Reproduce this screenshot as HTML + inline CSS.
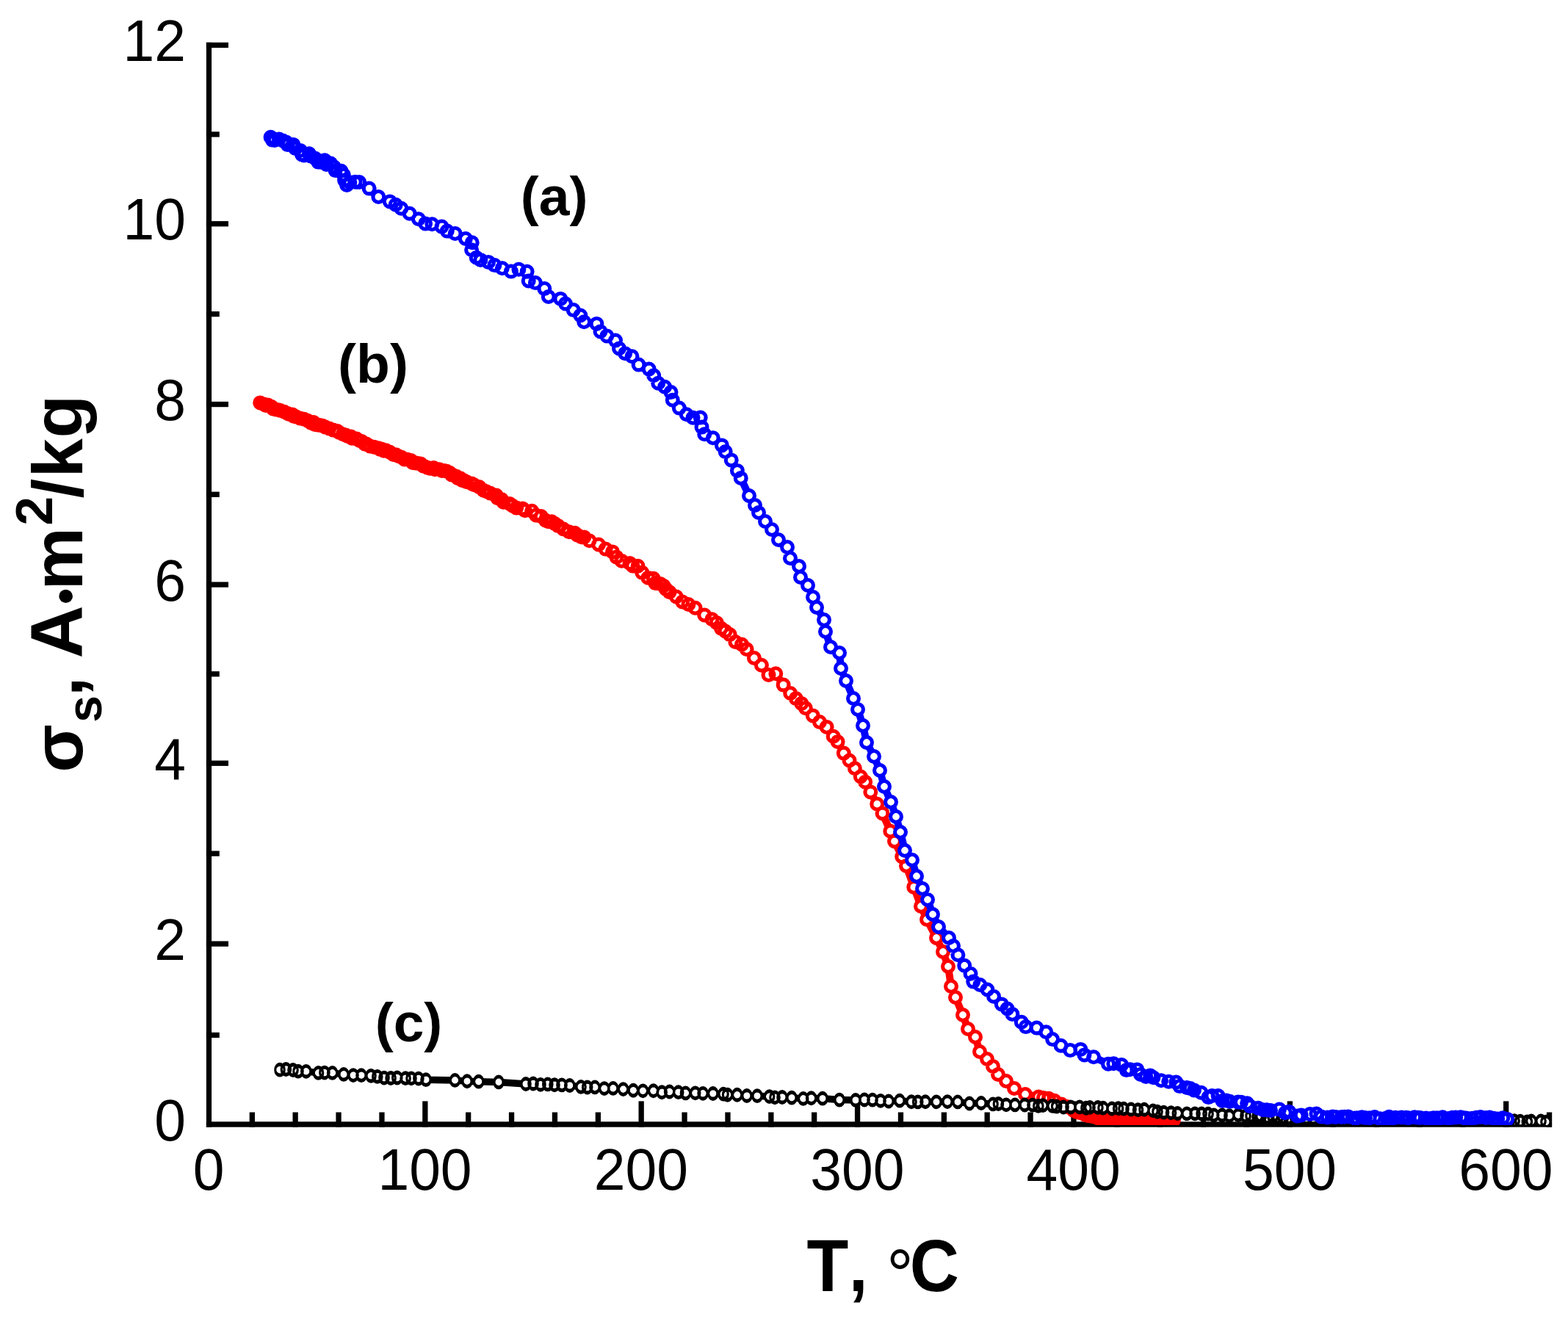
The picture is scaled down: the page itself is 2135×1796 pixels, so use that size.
<!DOCTYPE html>
<html lang="en"><head><meta charset="utf-8"><title>Temperature dependence of specific saturation magnetization</title>
<style>html,body{margin:0;padding:0;background:#fff}svg{display:block}</style></head>
<body>
<svg width="2135" height="1796" viewBox="0 0 2135 1796">
<rect width="2135" height="1796" fill="#fff"/>
<g fill="#000">
<rect x="280.9" y="57.8" width="7.2" height="1476.9"/>
<rect x="280.9" y="1527.3" width="1831.9" height="7.4"/>
<rect x="280.9" y="1405.8" width="17.9" height="7.3"/>
<rect x="280.9" y="1281.5" width="30.1" height="7.3"/>
<rect x="280.9" y="1158.6" width="17.9" height="7.3"/>
<rect x="280.9" y="1035.6" width="30.1" height="7.3"/>
<rect x="280.9" y="914.1" width="17.9" height="7.3"/>
<rect x="280.9" y="792.4" width="30.1" height="7.3"/>
<rect x="280.9" y="669.6" width="17.9" height="7.3"/>
<rect x="280.9" y="546.9" width="30.1" height="7.3"/>
<rect x="280.9" y="424.0" width="17.9" height="7.3"/>
<rect x="280.9" y="301.1" width="30.1" height="7.3"/>
<rect x="280.9" y="179.3" width="17.9" height="7.3"/>
<rect x="280.9" y="57.8" width="30.1" height="7.3"/>
<rect x="339.7" y="1514.5" width="7.3" height="20.2"/>
<rect x="398.5" y="1514.5" width="7.3" height="20.2"/>
<rect x="457.4" y="1514.5" width="7.3" height="20.2"/>
<rect x="516.3" y="1514.5" width="7.3" height="20.2"/>
<rect x="575.2" y="1499.4" width="7.3" height="35.3"/>
<rect x="634.0" y="1514.5" width="7.3" height="20.2"/>
<rect x="692.9" y="1514.5" width="7.3" height="20.2"/>
<rect x="751.8" y="1514.5" width="7.3" height="20.2"/>
<rect x="810.7" y="1514.5" width="7.3" height="20.2"/>
<rect x="869.5" y="1499.4" width="7.3" height="35.3"/>
<rect x="928.4" y="1514.5" width="7.3" height="20.2"/>
<rect x="987.3" y="1514.5" width="7.3" height="20.2"/>
<rect x="1046.2" y="1514.5" width="7.3" height="20.2"/>
<rect x="1105.0" y="1514.5" width="7.3" height="20.2"/>
<rect x="1163.9" y="1499.4" width="7.3" height="35.3"/>
<rect x="1222.8" y="1514.5" width="7.3" height="20.2"/>
<rect x="1281.7" y="1514.5" width="7.3" height="20.2"/>
<rect x="1340.5" y="1514.5" width="7.3" height="20.2"/>
<rect x="1399.4" y="1514.5" width="7.3" height="20.2"/>
<rect x="1458.3" y="1499.4" width="7.3" height="35.3"/>
<rect x="1517.2" y="1514.5" width="7.3" height="20.2"/>
<rect x="1576.0" y="1514.5" width="7.3" height="20.2"/>
<rect x="1634.9" y="1514.5" width="7.3" height="20.2"/>
<rect x="1693.8" y="1514.5" width="7.3" height="20.2"/>
<rect x="1752.7" y="1499.4" width="7.3" height="35.3"/>
<rect x="1811.5" y="1514.5" width="7.3" height="20.2"/>
<rect x="1870.4" y="1514.5" width="7.3" height="20.2"/>
<rect x="1929.3" y="1514.5" width="7.3" height="20.2"/>
<rect x="1988.1" y="1514.5" width="7.3" height="20.2"/>
<rect x="2047.0" y="1499.4" width="7.3" height="35.3"/>
<rect x="2105.9" y="1514.5" width="7.3" height="20.2"/>
</g>
<defs><clipPath id="plotclip"><rect x="281" y="0" width="1832" height="1532"/></clipPath></defs>
<g clip-path="url(#plotclip)">
<path d="M354.2 548.4L358.1 550.0L362.0 552.1L364.7 551.4L369.5 553.7L371.7 556.5L375.5 557.4L379.3 558.2L381.8 559.1L387.0 560.7L391.5 562.9L393.5 563.9L398.0 564.4L399.4 566.5L403.2 567.5L408.4 569.5L414.0 570.8L418.8 572.8L423.7 575.9L426.7 574.9L428.6 578.0L432.4 578.5L435.6 579.1L439.1 579.8L443.0 581.6L448.3 583.5L453.7 585.6L459.4 587.1L461.6 588.7L466.8 591.2L470.9 592.6L473.4 594.0L477.9 594.6L479.3 596.8L485.5 597.5L490.0 600.3L492.5 601.0L496.6 604.4L498.9 604.6L500.8 605.7L503.7 607.4L509.5 608.8L515.3 610.3L517.3 611.8L519.6 611.5L522.7 613.7L525.6 613.2L530.6 615.6L535.6 619.0L539.2 619.2L542.8 621.2L546.9 622.7L550.7 625.4L554.9 625.7L559.6 627.1L561.9 630.0L566.1 630.4L568.2 630.8L572.6 631.4L576.2 634.4L578.3 635.2L581.9 636.7L585.2 637.8L590.4 637.1L592.2 639.2L598.2 639.3L601.7 640.9L605.1 641.0L608.3 641.8L612.3 643.7L614.8 646.5L616.9 647.0L621.5 648.8L623.5 651.3L626.8 651.3L629.5 654.2L632.1 654.5L635.5 656.2L642.3 658.4L645.5 660.2L652.5 663.1L658.5 667.8L662.1 669.2L667.3 671.4L675.8 674.5L677.4 678.3L682.8 679.9L685.5 683.7L694.0 686.0L697.7 688.5L703.2 691.6L711.5 692.4L714.9 695.3L724.2 695.8L729.8 701.5L736.8 703.1L742.7 708.4L746.5 710.2L751.2 710.2L755.5 713.1L760.0 716.1L767.0 720.2L774.8 724.2L782.7 725.7L785.9 728.4L791.5 731.3L795.3 731.4L802.5 736.3L815.1 741.5L824.6 747.6L834.0 751.4L839.5 758.6L846.5 763.8L857.5 766.9L861.4 770.5L868.5 770.7L874.2 779.6L882.4 786.8L889.7 787.7L892.4 794.1L899.0 794.9L903.6 797.8L906.8 802.3L911.6 806.2L920.8 812.5L929.1 819.5L937.4 823.0L946.6 827.7L959.2 837.5L969.4 843.3L975.7 847.9L981.9 855.6L987.6 859.5L993.7 864.1L1001.3 874.0L1010.0 877.5L1016.6 884.0L1026.9 896.0L1036.9 905.7L1046.5 918.9L1056.3 917.3L1066.6 932.6L1076.2 944.0L1083.8 951.1L1091.3 957.9L1096.9 964.2L1106.8 974.4L1116.0 983.1L1125.6 989.9L1134.7 1002.8L1140.6 1010.0L1148.8 1025.6L1156.5 1035.5L1163.9 1046.3L1171.8 1057.5L1178.1 1064.7L1185.3 1078.4L1194.2 1094.7L1201.5 1107.4L1212.3 1131.7L1218.0 1145.5L1228.2 1166.5L1234.0 1179.0L1244.3 1207.9L1254.0 1234.0L1262.0 1252.0L1275.0 1277.0L1284.0 1296.0L1291.0 1316.0L1295.0 1343.0L1301.0 1358.0L1311.0 1382.0L1318.0 1401.0L1328.0 1412.0L1334.0 1432.0L1344.0 1442.0L1352.0 1452.0L1359.0 1463.0L1370.0 1472.0L1381.0 1482.0L1396.0 1490.0L1414.1 1493.5L1420.8 1495.0L1427.9 1495.7L1435.7 1498.8L1445.2 1503.6L1452.0 1506.7L1459.2 1509.8L1461.9 1512.2L1465.6 1513.8L1470.0 1515.1L1474.8 1515.1L1477.2 1517.8L1480.7 1518.9L1482.8 1518.6L1485.1 1519.5L1488.7 1519.5L1490.6 1520.6L1495.0 1522.3L1497.1 1522.7L1499.1 1522.6L1501.3 1521.7L1505.6 1522.7L1507.6 1524.6L1512.1 1523.8L1516.8 1524.8L1520.6 1524.5L1525.1 1525.9L1529.7 1526.8L1532.3 1526.0L1534.5 1525.7L1536.3 1526.2L1539.8 1526.0L1543.5 1526.7L1546.1 1527.6L1549.2 1526.6L1552.4 1527.4L1554.2 1528.0L1555.8 1527.5L1560.1 1526.0L1564.3 1526.7L1567.7 1526.0L1569.5 1526.4L1574.1 1526.3L1578.2 1527.6L1582.7 1526.3L1585.5 1526.5L1589.5 1525.6L1593.6 1526.8L1597.9 1525.1" fill="none" stroke="#ff0000" stroke-width="10" stroke-linejoin="round"/>
<path fill="#fff" d="M349.2 548.4a5 5 0 1 1 10.0 0a5 5 0 1 1 -10.0 0zM353.1 550.0a5 5 0 1 1 10.0 0a5 5 0 1 1 -10.0 0zM357.0 552.1a5 5 0 1 1 10.0 0a5 5 0 1 1 -10.0 0zM359.7 551.4a5 5 0 1 1 10.0 0a5 5 0 1 1 -10.0 0zM364.5 553.7a5 5 0 1 1 10.0 0a5 5 0 1 1 -10.0 0zM366.7 556.5a5 5 0 1 1 10.0 0a5 5 0 1 1 -10.0 0zM370.5 557.4a5 5 0 1 1 10.0 0a5 5 0 1 1 -10.0 0zM374.3 558.2a5 5 0 1 1 10.0 0a5 5 0 1 1 -10.0 0zM376.8 559.1a5 5 0 1 1 10.0 0a5 5 0 1 1 -10.0 0zM382.0 560.7a5 5 0 1 1 10.0 0a5 5 0 1 1 -10.0 0zM386.5 562.9a5 5 0 1 1 10.0 0a5 5 0 1 1 -10.0 0zM388.5 563.9a5 5 0 1 1 10.0 0a5 5 0 1 1 -10.0 0zM393.0 564.4a5 5 0 1 1 10.0 0a5 5 0 1 1 -10.0 0zM394.4 566.5a5 5 0 1 1 10.0 0a5 5 0 1 1 -10.0 0zM398.2 567.5a5 5 0 1 1 10.0 0a5 5 0 1 1 -10.0 0zM403.4 569.5a5 5 0 1 1 10.0 0a5 5 0 1 1 -10.0 0zM409.0 570.8a5 5 0 1 1 10.0 0a5 5 0 1 1 -10.0 0zM413.8 572.8a5 5 0 1 1 10.0 0a5 5 0 1 1 -10.0 0zM418.7 575.9a5 5 0 1 1 10.0 0a5 5 0 1 1 -10.0 0zM421.7 574.9a5 5 0 1 1 10.0 0a5 5 0 1 1 -10.0 0zM423.6 578.0a5 5 0 1 1 10.0 0a5 5 0 1 1 -10.0 0zM427.4 578.5a5 5 0 1 1 10.0 0a5 5 0 1 1 -10.0 0zM430.6 579.1a5 5 0 1 1 10.0 0a5 5 0 1 1 -10.0 0zM434.1 579.8a5 5 0 1 1 10.0 0a5 5 0 1 1 -10.0 0zM438.0 581.6a5 5 0 1 1 10.0 0a5 5 0 1 1 -10.0 0zM443.3 583.5a5 5 0 1 1 10.0 0a5 5 0 1 1 -10.0 0zM448.7 585.6a5 5 0 1 1 10.0 0a5 5 0 1 1 -10.0 0zM454.4 587.1a5 5 0 1 1 10.0 0a5 5 0 1 1 -10.0 0zM456.6 588.7a5 5 0 1 1 10.0 0a5 5 0 1 1 -10.0 0zM461.8 591.2a5 5 0 1 1 10.0 0a5 5 0 1 1 -10.0 0zM465.9 592.6a5 5 0 1 1 10.0 0a5 5 0 1 1 -10.0 0zM468.4 594.0a5 5 0 1 1 10.0 0a5 5 0 1 1 -10.0 0zM472.9 594.6a5 5 0 1 1 10.0 0a5 5 0 1 1 -10.0 0zM474.3 596.8a5 5 0 1 1 10.0 0a5 5 0 1 1 -10.0 0zM480.5 597.5a5 5 0 1 1 10.0 0a5 5 0 1 1 -10.0 0zM485.0 600.3a5 5 0 1 1 10.0 0a5 5 0 1 1 -10.0 0zM487.5 601.0a5 5 0 1 1 10.0 0a5 5 0 1 1 -10.0 0zM491.6 604.4a5 5 0 1 1 10.0 0a5 5 0 1 1 -10.0 0zM493.9 604.6a5 5 0 1 1 10.0 0a5 5 0 1 1 -10.0 0zM495.8 605.7a5 5 0 1 1 10.0 0a5 5 0 1 1 -10.0 0zM498.7 607.4a5 5 0 1 1 10.0 0a5 5 0 1 1 -10.0 0zM504.5 608.8a5 5 0 1 1 10.0 0a5 5 0 1 1 -10.0 0zM510.3 610.3a5 5 0 1 1 10.0 0a5 5 0 1 1 -10.0 0zM512.3 611.8a5 5 0 1 1 10.0 0a5 5 0 1 1 -10.0 0zM514.6 611.5a5 5 0 1 1 10.0 0a5 5 0 1 1 -10.0 0zM517.7 613.7a5 5 0 1 1 10.0 0a5 5 0 1 1 -10.0 0zM520.6 613.2a5 5 0 1 1 10.0 0a5 5 0 1 1 -10.0 0zM525.6 615.6a5 5 0 1 1 10.0 0a5 5 0 1 1 -10.0 0zM530.6 619.0a5 5 0 1 1 10.0 0a5 5 0 1 1 -10.0 0zM534.2 619.2a5 5 0 1 1 10.0 0a5 5 0 1 1 -10.0 0zM537.8 621.2a5 5 0 1 1 10.0 0a5 5 0 1 1 -10.0 0zM541.9 622.7a5 5 0 1 1 10.0 0a5 5 0 1 1 -10.0 0zM545.7 625.4a5 5 0 1 1 10.0 0a5 5 0 1 1 -10.0 0zM549.9 625.7a5 5 0 1 1 10.0 0a5 5 0 1 1 -10.0 0zM554.6 627.1a5 5 0 1 1 10.0 0a5 5 0 1 1 -10.0 0zM556.9 630.0a5 5 0 1 1 10.0 0a5 5 0 1 1 -10.0 0zM561.1 630.4a5 5 0 1 1 10.0 0a5 5 0 1 1 -10.0 0zM563.2 630.8a5 5 0 1 1 10.0 0a5 5 0 1 1 -10.0 0zM567.6 631.4a5 5 0 1 1 10.0 0a5 5 0 1 1 -10.0 0zM571.2 634.4a5 5 0 1 1 10.0 0a5 5 0 1 1 -10.0 0zM573.3 635.2a5 5 0 1 1 10.0 0a5 5 0 1 1 -10.0 0zM576.9 636.7a5 5 0 1 1 10.0 0a5 5 0 1 1 -10.0 0zM580.2 637.8a5 5 0 1 1 10.0 0a5 5 0 1 1 -10.0 0zM585.4 637.1a5 5 0 1 1 10.0 0a5 5 0 1 1 -10.0 0zM587.2 639.2a5 5 0 1 1 10.0 0a5 5 0 1 1 -10.0 0zM593.2 639.3a5 5 0 1 1 10.0 0a5 5 0 1 1 -10.0 0zM596.7 640.9a5 5 0 1 1 10.0 0a5 5 0 1 1 -10.0 0zM600.1 641.0a5 5 0 1 1 10.0 0a5 5 0 1 1 -10.0 0zM603.3 641.8a5 5 0 1 1 10.0 0a5 5 0 1 1 -10.0 0zM607.3 643.7a5 5 0 1 1 10.0 0a5 5 0 1 1 -10.0 0zM609.8 646.5a5 5 0 1 1 10.0 0a5 5 0 1 1 -10.0 0zM611.9 647.0a5 5 0 1 1 10.0 0a5 5 0 1 1 -10.0 0zM616.5 648.8a5 5 0 1 1 10.0 0a5 5 0 1 1 -10.0 0zM618.5 651.3a5 5 0 1 1 10.0 0a5 5 0 1 1 -10.0 0zM621.8 651.3a5 5 0 1 1 10.0 0a5 5 0 1 1 -10.0 0zM624.5 654.2a5 5 0 1 1 10.0 0a5 5 0 1 1 -10.0 0zM627.1 654.5a5 5 0 1 1 10.0 0a5 5 0 1 1 -10.0 0zM630.5 656.2a5 5 0 1 1 10.0 0a5 5 0 1 1 -10.0 0zM637.3 658.4a5 5 0 1 1 10.0 0a5 5 0 1 1 -10.0 0zM640.5 660.2a5 5 0 1 1 10.0 0a5 5 0 1 1 -10.0 0zM647.5 663.1a5 5 0 1 1 10.0 0a5 5 0 1 1 -10.0 0zM653.5 667.8a5 5 0 1 1 10.0 0a5 5 0 1 1 -10.0 0zM657.1 669.2a5 5 0 1 1 10.0 0a5 5 0 1 1 -10.0 0zM662.3 671.4a5 5 0 1 1 10.0 0a5 5 0 1 1 -10.0 0zM670.8 674.5a5 5 0 1 1 10.0 0a5 5 0 1 1 -10.0 0zM672.4 678.3a5 5 0 1 1 10.0 0a5 5 0 1 1 -10.0 0zM677.8 679.9a5 5 0 1 1 10.0 0a5 5 0 1 1 -10.0 0zM680.5 683.7a5 5 0 1 1 10.0 0a5 5 0 1 1 -10.0 0zM689.0 686.0a5 5 0 1 1 10.0 0a5 5 0 1 1 -10.0 0zM692.7 688.5a5 5 0 1 1 10.0 0a5 5 0 1 1 -10.0 0zM698.2 691.6a5 5 0 1 1 10.0 0a5 5 0 1 1 -10.0 0zM706.5 692.4a5 5 0 1 1 10.0 0a5 5 0 1 1 -10.0 0zM709.9 695.3a5 5 0 1 1 10.0 0a5 5 0 1 1 -10.0 0zM719.2 695.8a5 5 0 1 1 10.0 0a5 5 0 1 1 -10.0 0zM724.8 701.5a5 5 0 1 1 10.0 0a5 5 0 1 1 -10.0 0zM731.8 703.1a5 5 0 1 1 10.0 0a5 5 0 1 1 -10.0 0zM737.7 708.4a5 5 0 1 1 10.0 0a5 5 0 1 1 -10.0 0zM741.5 710.2a5 5 0 1 1 10.0 0a5 5 0 1 1 -10.0 0zM746.2 710.2a5 5 0 1 1 10.0 0a5 5 0 1 1 -10.0 0zM750.5 713.1a5 5 0 1 1 10.0 0a5 5 0 1 1 -10.0 0zM755.0 716.1a5 5 0 1 1 10.0 0a5 5 0 1 1 -10.0 0zM762.0 720.2a5 5 0 1 1 10.0 0a5 5 0 1 1 -10.0 0zM769.8 724.2a5 5 0 1 1 10.0 0a5 5 0 1 1 -10.0 0zM777.7 725.7a5 5 0 1 1 10.0 0a5 5 0 1 1 -10.0 0zM780.9 728.4a5 5 0 1 1 10.0 0a5 5 0 1 1 -10.0 0zM786.5 731.3a5 5 0 1 1 10.0 0a5 5 0 1 1 -10.0 0zM790.3 731.4a5 5 0 1 1 10.0 0a5 5 0 1 1 -10.0 0zM797.5 736.3a5 5 0 1 1 10.0 0a5 5 0 1 1 -10.0 0zM810.1 741.5a5 5 0 1 1 10.0 0a5 5 0 1 1 -10.0 0zM819.6 747.6a5 5 0 1 1 10.0 0a5 5 0 1 1 -10.0 0zM829.0 751.4a5 5 0 1 1 10.0 0a5 5 0 1 1 -10.0 0zM834.5 758.6a5 5 0 1 1 10.0 0a5 5 0 1 1 -10.0 0zM841.5 763.8a5 5 0 1 1 10.0 0a5 5 0 1 1 -10.0 0zM852.5 766.9a5 5 0 1 1 10.0 0a5 5 0 1 1 -10.0 0zM856.4 770.5a5 5 0 1 1 10.0 0a5 5 0 1 1 -10.0 0zM863.5 770.7a5 5 0 1 1 10.0 0a5 5 0 1 1 -10.0 0zM869.2 779.6a5 5 0 1 1 10.0 0a5 5 0 1 1 -10.0 0zM877.4 786.8a5 5 0 1 1 10.0 0a5 5 0 1 1 -10.0 0zM884.7 787.7a5 5 0 1 1 10.0 0a5 5 0 1 1 -10.0 0zM887.4 794.1a5 5 0 1 1 10.0 0a5 5 0 1 1 -10.0 0zM894.0 794.9a5 5 0 1 1 10.0 0a5 5 0 1 1 -10.0 0zM898.6 797.8a5 5 0 1 1 10.0 0a5 5 0 1 1 -10.0 0zM901.8 802.3a5 5 0 1 1 10.0 0a5 5 0 1 1 -10.0 0zM906.6 806.2a5 5 0 1 1 10.0 0a5 5 0 1 1 -10.0 0zM915.8 812.5a5 5 0 1 1 10.0 0a5 5 0 1 1 -10.0 0zM924.1 819.5a5 5 0 1 1 10.0 0a5 5 0 1 1 -10.0 0zM932.4 823.0a5 5 0 1 1 10.0 0a5 5 0 1 1 -10.0 0zM941.6 827.7a5 5 0 1 1 10.0 0a5 5 0 1 1 -10.0 0zM954.2 837.5a5 5 0 1 1 10.0 0a5 5 0 1 1 -10.0 0zM964.4 843.3a5 5 0 1 1 10.0 0a5 5 0 1 1 -10.0 0zM970.7 847.9a5 5 0 1 1 10.0 0a5 5 0 1 1 -10.0 0zM976.9 855.6a5 5 0 1 1 10.0 0a5 5 0 1 1 -10.0 0zM982.6 859.5a5 5 0 1 1 10.0 0a5 5 0 1 1 -10.0 0zM988.7 864.1a5 5 0 1 1 10.0 0a5 5 0 1 1 -10.0 0zM996.3 874.0a5 5 0 1 1 10.0 0a5 5 0 1 1 -10.0 0zM1005.0 877.5a5 5 0 1 1 10.0 0a5 5 0 1 1 -10.0 0zM1011.6 884.0a5 5 0 1 1 10.0 0a5 5 0 1 1 -10.0 0zM1021.9 896.0a5 5 0 1 1 10.0 0a5 5 0 1 1 -10.0 0zM1031.9 905.7a5 5 0 1 1 10.0 0a5 5 0 1 1 -10.0 0zM1041.5 918.9a5 5 0 1 1 10.0 0a5 5 0 1 1 -10.0 0zM1051.3 917.3a5 5 0 1 1 10.0 0a5 5 0 1 1 -10.0 0zM1061.6 932.6a5 5 0 1 1 10.0 0a5 5 0 1 1 -10.0 0zM1071.2 944.0a5 5 0 1 1 10.0 0a5 5 0 1 1 -10.0 0zM1078.8 951.1a5 5 0 1 1 10.0 0a5 5 0 1 1 -10.0 0zM1086.3 957.9a5 5 0 1 1 10.0 0a5 5 0 1 1 -10.0 0zM1091.9 964.2a5 5 0 1 1 10.0 0a5 5 0 1 1 -10.0 0zM1101.8 974.4a5 5 0 1 1 10.0 0a5 5 0 1 1 -10.0 0zM1111.0 983.1a5 5 0 1 1 10.0 0a5 5 0 1 1 -10.0 0zM1120.6 989.9a5 5 0 1 1 10.0 0a5 5 0 1 1 -10.0 0zM1129.7 1002.8a5 5 0 1 1 10.0 0a5 5 0 1 1 -10.0 0zM1135.6 1010.0a5 5 0 1 1 10.0 0a5 5 0 1 1 -10.0 0zM1143.8 1025.6a5 5 0 1 1 10.0 0a5 5 0 1 1 -10.0 0zM1151.5 1035.5a5 5 0 1 1 10.0 0a5 5 0 1 1 -10.0 0zM1158.9 1046.3a5 5 0 1 1 10.0 0a5 5 0 1 1 -10.0 0zM1166.8 1057.5a5 5 0 1 1 10.0 0a5 5 0 1 1 -10.0 0zM1173.1 1064.7a5 5 0 1 1 10.0 0a5 5 0 1 1 -10.0 0zM1180.3 1078.4a5 5 0 1 1 10.0 0a5 5 0 1 1 -10.0 0zM1189.2 1094.7a5 5 0 1 1 10.0 0a5 5 0 1 1 -10.0 0zM1196.5 1107.4a5 5 0 1 1 10.0 0a5 5 0 1 1 -10.0 0zM1207.3 1131.7a5 5 0 1 1 10.0 0a5 5 0 1 1 -10.0 0zM1213.0 1145.5a5 5 0 1 1 10.0 0a5 5 0 1 1 -10.0 0zM1223.2 1166.5a5 5 0 1 1 10.0 0a5 5 0 1 1 -10.0 0zM1229.0 1179.0a5 5 0 1 1 10.0 0a5 5 0 1 1 -10.0 0zM1239.3 1207.9a5 5 0 1 1 10.0 0a5 5 0 1 1 -10.0 0zM1249.0 1234.0a5 5 0 1 1 10.0 0a5 5 0 1 1 -10.0 0zM1257.0 1252.0a5 5 0 1 1 10.0 0a5 5 0 1 1 -10.0 0zM1270.0 1277.0a5 5 0 1 1 10.0 0a5 5 0 1 1 -10.0 0zM1279.0 1296.0a5 5 0 1 1 10.0 0a5 5 0 1 1 -10.0 0zM1286.0 1316.0a5 5 0 1 1 10.0 0a5 5 0 1 1 -10.0 0zM1290.0 1343.0a5 5 0 1 1 10.0 0a5 5 0 1 1 -10.0 0zM1296.0 1358.0a5 5 0 1 1 10.0 0a5 5 0 1 1 -10.0 0zM1306.0 1382.0a5 5 0 1 1 10.0 0a5 5 0 1 1 -10.0 0zM1313.0 1401.0a5 5 0 1 1 10.0 0a5 5 0 1 1 -10.0 0zM1323.0 1412.0a5 5 0 1 1 10.0 0a5 5 0 1 1 -10.0 0zM1329.0 1432.0a5 5 0 1 1 10.0 0a5 5 0 1 1 -10.0 0zM1339.0 1442.0a5 5 0 1 1 10.0 0a5 5 0 1 1 -10.0 0zM1347.0 1452.0a5 5 0 1 1 10.0 0a5 5 0 1 1 -10.0 0zM1354.0 1463.0a5 5 0 1 1 10.0 0a5 5 0 1 1 -10.0 0zM1365.0 1472.0a5 5 0 1 1 10.0 0a5 5 0 1 1 -10.0 0zM1376.0 1482.0a5 5 0 1 1 10.0 0a5 5 0 1 1 -10.0 0zM1391.0 1490.0a5 5 0 1 1 10.0 0a5 5 0 1 1 -10.0 0zM1409.1 1493.5a5 5 0 1 1 10.0 0a5 5 0 1 1 -10.0 0zM1415.8 1495.0a5 5 0 1 1 10.0 0a5 5 0 1 1 -10.0 0zM1422.9 1495.7a5 5 0 1 1 10.0 0a5 5 0 1 1 -10.0 0zM1430.7 1498.8a5 5 0 1 1 10.0 0a5 5 0 1 1 -10.0 0zM1440.2 1503.6a5 5 0 1 1 10.0 0a5 5 0 1 1 -10.0 0zM1447.0 1506.7a5 5 0 1 1 10.0 0a5 5 0 1 1 -10.0 0zM1454.2 1509.8a5 5 0 1 1 10.0 0a5 5 0 1 1 -10.0 0zM1456.9 1512.2a5 5 0 1 1 10.0 0a5 5 0 1 1 -10.0 0zM1460.6 1513.8a5 5 0 1 1 10.0 0a5 5 0 1 1 -10.0 0zM1465.0 1515.1a5 5 0 1 1 10.0 0a5 5 0 1 1 -10.0 0zM1469.8 1515.1a5 5 0 1 1 10.0 0a5 5 0 1 1 -10.0 0zM1472.2 1517.8a5 5 0 1 1 10.0 0a5 5 0 1 1 -10.0 0zM1475.7 1518.9a5 5 0 1 1 10.0 0a5 5 0 1 1 -10.0 0zM1477.8 1518.6a5 5 0 1 1 10.0 0a5 5 0 1 1 -10.0 0zM1480.1 1519.5a5 5 0 1 1 10.0 0a5 5 0 1 1 -10.0 0zM1483.7 1519.5a5 5 0 1 1 10.0 0a5 5 0 1 1 -10.0 0zM1485.6 1520.6a5 5 0 1 1 10.0 0a5 5 0 1 1 -10.0 0zM1490.0 1522.3a5 5 0 1 1 10.0 0a5 5 0 1 1 -10.0 0zM1492.1 1522.7a5 5 0 1 1 10.0 0a5 5 0 1 1 -10.0 0zM1494.1 1522.6a5 5 0 1 1 10.0 0a5 5 0 1 1 -10.0 0zM1496.3 1521.7a5 5 0 1 1 10.0 0a5 5 0 1 1 -10.0 0zM1500.6 1522.7a5 5 0 1 1 10.0 0a5 5 0 1 1 -10.0 0zM1502.6 1524.6a5 5 0 1 1 10.0 0a5 5 0 1 1 -10.0 0zM1507.1 1523.8a5 5 0 1 1 10.0 0a5 5 0 1 1 -10.0 0zM1511.8 1524.8a5 5 0 1 1 10.0 0a5 5 0 1 1 -10.0 0zM1515.6 1524.5a5 5 0 1 1 10.0 0a5 5 0 1 1 -10.0 0zM1520.1 1525.9a5 5 0 1 1 10.0 0a5 5 0 1 1 -10.0 0zM1524.7 1526.8a5 5 0 1 1 10.0 0a5 5 0 1 1 -10.0 0zM1527.3 1526.0a5 5 0 1 1 10.0 0a5 5 0 1 1 -10.0 0zM1529.5 1525.7a5 5 0 1 1 10.0 0a5 5 0 1 1 -10.0 0zM1531.3 1526.2a5 5 0 1 1 10.0 0a5 5 0 1 1 -10.0 0zM1534.8 1526.0a5 5 0 1 1 10.0 0a5 5 0 1 1 -10.0 0zM1538.5 1526.7a5 5 0 1 1 10.0 0a5 5 0 1 1 -10.0 0zM1541.1 1527.6a5 5 0 1 1 10.0 0a5 5 0 1 1 -10.0 0zM1544.2 1526.6a5 5 0 1 1 10.0 0a5 5 0 1 1 -10.0 0zM1547.4 1527.4a5 5 0 1 1 10.0 0a5 5 0 1 1 -10.0 0zM1549.2 1528.0a5 5 0 1 1 10.0 0a5 5 0 1 1 -10.0 0zM1550.8 1527.5a5 5 0 1 1 10.0 0a5 5 0 1 1 -10.0 0zM1555.1 1526.0a5 5 0 1 1 10.0 0a5 5 0 1 1 -10.0 0zM1559.3 1526.7a5 5 0 1 1 10.0 0a5 5 0 1 1 -10.0 0zM1562.7 1526.0a5 5 0 1 1 10.0 0a5 5 0 1 1 -10.0 0zM1564.5 1526.4a5 5 0 1 1 10.0 0a5 5 0 1 1 -10.0 0zM1569.1 1526.3a5 5 0 1 1 10.0 0a5 5 0 1 1 -10.0 0zM1573.2 1527.6a5 5 0 1 1 10.0 0a5 5 0 1 1 -10.0 0zM1577.7 1526.3a5 5 0 1 1 10.0 0a5 5 0 1 1 -10.0 0zM1580.5 1526.5a5 5 0 1 1 10.0 0a5 5 0 1 1 -10.0 0zM1584.5 1525.6a5 5 0 1 1 10.0 0a5 5 0 1 1 -10.0 0zM1588.6 1526.8a5 5 0 1 1 10.0 0a5 5 0 1 1 -10.0 0zM1592.9 1525.1a5 5 0 1 1 10.0 0a5 5 0 1 1 -10.0 0z"/>
<path fill="#ff0000" fill-rule="nonzero" d="M344.2 548.4a10 10 0 1 1 20.0 0a10 10 0 1 1 -20.0 0zM349.2 548.4a5 5 0 1 0 10.0 0a5 5 0 1 0 -10.0 0zM348.1 550.0a10 10 0 1 1 20.0 0a10 10 0 1 1 -20.0 0zM353.1 550.0a5 5 0 1 0 10.0 0a5 5 0 1 0 -10.0 0zM352.0 552.1a10 10 0 1 1 20.0 0a10 10 0 1 1 -20.0 0zM357.0 552.1a5 5 0 1 0 10.0 0a5 5 0 1 0 -10.0 0zM354.7 551.4a10 10 0 1 1 20.0 0a10 10 0 1 1 -20.0 0zM359.7 551.4a5 5 0 1 0 10.0 0a5 5 0 1 0 -10.0 0zM359.5 553.7a10 10 0 1 1 20.0 0a10 10 0 1 1 -20.0 0zM364.5 553.7a5 5 0 1 0 10.0 0a5 5 0 1 0 -10.0 0zM361.7 556.5a10 10 0 1 1 20.0 0a10 10 0 1 1 -20.0 0zM366.7 556.5a5 5 0 1 0 10.0 0a5 5 0 1 0 -10.0 0zM365.5 557.4a10 10 0 1 1 20.0 0a10 10 0 1 1 -20.0 0zM370.5 557.4a5 5 0 1 0 10.0 0a5 5 0 1 0 -10.0 0zM369.3 558.2a10 10 0 1 1 20.0 0a10 10 0 1 1 -20.0 0zM374.3 558.2a5 5 0 1 0 10.0 0a5 5 0 1 0 -10.0 0zM371.8 559.1a10 10 0 1 1 20.0 0a10 10 0 1 1 -20.0 0zM376.8 559.1a5 5 0 1 0 10.0 0a5 5 0 1 0 -10.0 0zM377.0 560.7a10 10 0 1 1 20.0 0a10 10 0 1 1 -20.0 0zM382.0 560.7a5 5 0 1 0 10.0 0a5 5 0 1 0 -10.0 0zM381.5 562.9a10 10 0 1 1 20.0 0a10 10 0 1 1 -20.0 0zM386.5 562.9a5 5 0 1 0 10.0 0a5 5 0 1 0 -10.0 0zM383.5 563.9a10 10 0 1 1 20.0 0a10 10 0 1 1 -20.0 0zM388.5 563.9a5 5 0 1 0 10.0 0a5 5 0 1 0 -10.0 0zM388.0 564.4a10 10 0 1 1 20.0 0a10 10 0 1 1 -20.0 0zM393.0 564.4a5 5 0 1 0 10.0 0a5 5 0 1 0 -10.0 0zM389.4 566.5a10 10 0 1 1 20.0 0a10 10 0 1 1 -20.0 0zM394.4 566.5a5 5 0 1 0 10.0 0a5 5 0 1 0 -10.0 0zM393.2 567.5a10 10 0 1 1 20.0 0a10 10 0 1 1 -20.0 0zM398.2 567.5a5 5 0 1 0 10.0 0a5 5 0 1 0 -10.0 0zM398.4 569.5a10 10 0 1 1 20.0 0a10 10 0 1 1 -20.0 0zM403.4 569.5a5 5 0 1 0 10.0 0a5 5 0 1 0 -10.0 0zM404.0 570.8a10 10 0 1 1 20.0 0a10 10 0 1 1 -20.0 0zM409.0 570.8a5 5 0 1 0 10.0 0a5 5 0 1 0 -10.0 0zM408.8 572.8a10 10 0 1 1 20.0 0a10 10 0 1 1 -20.0 0zM413.8 572.8a5 5 0 1 0 10.0 0a5 5 0 1 0 -10.0 0zM413.7 575.9a10 10 0 1 1 20.0 0a10 10 0 1 1 -20.0 0zM418.7 575.9a5 5 0 1 0 10.0 0a5 5 0 1 0 -10.0 0zM416.7 574.9a10 10 0 1 1 20.0 0a10 10 0 1 1 -20.0 0zM421.7 574.9a5 5 0 1 0 10.0 0a5 5 0 1 0 -10.0 0zM418.6 578.0a10 10 0 1 1 20.0 0a10 10 0 1 1 -20.0 0zM423.6 578.0a5 5 0 1 0 10.0 0a5 5 0 1 0 -10.0 0zM422.4 578.5a10 10 0 1 1 20.0 0a10 10 0 1 1 -20.0 0zM427.4 578.5a5 5 0 1 0 10.0 0a5 5 0 1 0 -10.0 0zM425.6 579.1a10 10 0 1 1 20.0 0a10 10 0 1 1 -20.0 0zM430.6 579.1a5 5 0 1 0 10.0 0a5 5 0 1 0 -10.0 0zM429.1 579.8a10 10 0 1 1 20.0 0a10 10 0 1 1 -20.0 0zM434.1 579.8a5 5 0 1 0 10.0 0a5 5 0 1 0 -10.0 0zM433.0 581.6a10 10 0 1 1 20.0 0a10 10 0 1 1 -20.0 0zM438.0 581.6a5 5 0 1 0 10.0 0a5 5 0 1 0 -10.0 0zM438.3 583.5a10 10 0 1 1 20.0 0a10 10 0 1 1 -20.0 0zM443.3 583.5a5 5 0 1 0 10.0 0a5 5 0 1 0 -10.0 0zM443.7 585.6a10 10 0 1 1 20.0 0a10 10 0 1 1 -20.0 0zM448.7 585.6a5 5 0 1 0 10.0 0a5 5 0 1 0 -10.0 0zM449.4 587.1a10 10 0 1 1 20.0 0a10 10 0 1 1 -20.0 0zM454.4 587.1a5 5 0 1 0 10.0 0a5 5 0 1 0 -10.0 0zM451.6 588.7a10 10 0 1 1 20.0 0a10 10 0 1 1 -20.0 0zM456.6 588.7a5 5 0 1 0 10.0 0a5 5 0 1 0 -10.0 0zM456.8 591.2a10 10 0 1 1 20.0 0a10 10 0 1 1 -20.0 0zM461.8 591.2a5 5 0 1 0 10.0 0a5 5 0 1 0 -10.0 0zM460.9 592.6a10 10 0 1 1 20.0 0a10 10 0 1 1 -20.0 0zM465.9 592.6a5 5 0 1 0 10.0 0a5 5 0 1 0 -10.0 0zM463.4 594.0a10 10 0 1 1 20.0 0a10 10 0 1 1 -20.0 0zM468.4 594.0a5 5 0 1 0 10.0 0a5 5 0 1 0 -10.0 0zM467.9 594.6a10 10 0 1 1 20.0 0a10 10 0 1 1 -20.0 0zM472.9 594.6a5 5 0 1 0 10.0 0a5 5 0 1 0 -10.0 0zM469.3 596.8a10 10 0 1 1 20.0 0a10 10 0 1 1 -20.0 0zM474.3 596.8a5 5 0 1 0 10.0 0a5 5 0 1 0 -10.0 0zM475.5 597.5a10 10 0 1 1 20.0 0a10 10 0 1 1 -20.0 0zM480.5 597.5a5 5 0 1 0 10.0 0a5 5 0 1 0 -10.0 0zM480.0 600.3a10 10 0 1 1 20.0 0a10 10 0 1 1 -20.0 0zM485.0 600.3a5 5 0 1 0 10.0 0a5 5 0 1 0 -10.0 0zM482.5 601.0a10 10 0 1 1 20.0 0a10 10 0 1 1 -20.0 0zM487.5 601.0a5 5 0 1 0 10.0 0a5 5 0 1 0 -10.0 0zM486.6 604.4a10 10 0 1 1 20.0 0a10 10 0 1 1 -20.0 0zM491.6 604.4a5 5 0 1 0 10.0 0a5 5 0 1 0 -10.0 0zM488.9 604.6a10 10 0 1 1 20.0 0a10 10 0 1 1 -20.0 0zM493.9 604.6a5 5 0 1 0 10.0 0a5 5 0 1 0 -10.0 0zM490.8 605.7a10 10 0 1 1 20.0 0a10 10 0 1 1 -20.0 0zM495.8 605.7a5 5 0 1 0 10.0 0a5 5 0 1 0 -10.0 0zM493.7 607.4a10 10 0 1 1 20.0 0a10 10 0 1 1 -20.0 0zM498.7 607.4a5 5 0 1 0 10.0 0a5 5 0 1 0 -10.0 0zM499.5 608.8a10 10 0 1 1 20.0 0a10 10 0 1 1 -20.0 0zM504.5 608.8a5 5 0 1 0 10.0 0a5 5 0 1 0 -10.0 0zM505.3 610.3a10 10 0 1 1 20.0 0a10 10 0 1 1 -20.0 0zM510.3 610.3a5 5 0 1 0 10.0 0a5 5 0 1 0 -10.0 0zM507.3 611.8a10 10 0 1 1 20.0 0a10 10 0 1 1 -20.0 0zM512.3 611.8a5 5 0 1 0 10.0 0a5 5 0 1 0 -10.0 0zM509.6 611.5a10 10 0 1 1 20.0 0a10 10 0 1 1 -20.0 0zM514.6 611.5a5 5 0 1 0 10.0 0a5 5 0 1 0 -10.0 0zM512.7 613.7a10 10 0 1 1 20.0 0a10 10 0 1 1 -20.0 0zM517.7 613.7a5 5 0 1 0 10.0 0a5 5 0 1 0 -10.0 0zM515.6 613.2a10 10 0 1 1 20.0 0a10 10 0 1 1 -20.0 0zM520.6 613.2a5 5 0 1 0 10.0 0a5 5 0 1 0 -10.0 0zM520.6 615.6a10 10 0 1 1 20.0 0a10 10 0 1 1 -20.0 0zM525.6 615.6a5 5 0 1 0 10.0 0a5 5 0 1 0 -10.0 0zM525.6 619.0a10 10 0 1 1 20.0 0a10 10 0 1 1 -20.0 0zM530.6 619.0a5 5 0 1 0 10.0 0a5 5 0 1 0 -10.0 0zM529.2 619.2a10 10 0 1 1 20.0 0a10 10 0 1 1 -20.0 0zM534.2 619.2a5 5 0 1 0 10.0 0a5 5 0 1 0 -10.0 0zM532.8 621.2a10 10 0 1 1 20.0 0a10 10 0 1 1 -20.0 0zM537.8 621.2a5 5 0 1 0 10.0 0a5 5 0 1 0 -10.0 0zM536.9 622.7a10 10 0 1 1 20.0 0a10 10 0 1 1 -20.0 0zM541.9 622.7a5 5 0 1 0 10.0 0a5 5 0 1 0 -10.0 0zM540.7 625.4a10 10 0 1 1 20.0 0a10 10 0 1 1 -20.0 0zM545.7 625.4a5 5 0 1 0 10.0 0a5 5 0 1 0 -10.0 0zM544.9 625.7a10 10 0 1 1 20.0 0a10 10 0 1 1 -20.0 0zM549.9 625.7a5 5 0 1 0 10.0 0a5 5 0 1 0 -10.0 0zM549.6 627.1a10 10 0 1 1 20.0 0a10 10 0 1 1 -20.0 0zM554.6 627.1a5 5 0 1 0 10.0 0a5 5 0 1 0 -10.0 0zM551.9 630.0a10 10 0 1 1 20.0 0a10 10 0 1 1 -20.0 0zM556.9 630.0a5 5 0 1 0 10.0 0a5 5 0 1 0 -10.0 0zM556.1 630.4a10 10 0 1 1 20.0 0a10 10 0 1 1 -20.0 0zM561.1 630.4a5 5 0 1 0 10.0 0a5 5 0 1 0 -10.0 0zM558.2 630.8a10 10 0 1 1 20.0 0a10 10 0 1 1 -20.0 0zM563.2 630.8a5 5 0 1 0 10.0 0a5 5 0 1 0 -10.0 0zM562.6 631.4a10 10 0 1 1 20.0 0a10 10 0 1 1 -20.0 0zM567.6 631.4a5 5 0 1 0 10.0 0a5 5 0 1 0 -10.0 0zM566.2 634.4a10 10 0 1 1 20.0 0a10 10 0 1 1 -20.0 0zM571.2 634.4a5 5 0 1 0 10.0 0a5 5 0 1 0 -10.0 0zM568.3 635.2a10 10 0 1 1 20.0 0a10 10 0 1 1 -20.0 0zM573.3 635.2a5 5 0 1 0 10.0 0a5 5 0 1 0 -10.0 0zM571.9 636.7a10 10 0 1 1 20.0 0a10 10 0 1 1 -20.0 0zM576.9 636.7a5 5 0 1 0 10.0 0a5 5 0 1 0 -10.0 0zM575.2 637.8a10 10 0 1 1 20.0 0a10 10 0 1 1 -20.0 0zM580.2 637.8a5 5 0 1 0 10.0 0a5 5 0 1 0 -10.0 0zM580.4 637.1a10 10 0 1 1 20.0 0a10 10 0 1 1 -20.0 0zM585.4 637.1a5 5 0 1 0 10.0 0a5 5 0 1 0 -10.0 0zM582.2 639.2a10 10 0 1 1 20.0 0a10 10 0 1 1 -20.0 0zM587.2 639.2a5 5 0 1 0 10.0 0a5 5 0 1 0 -10.0 0zM588.2 639.3a10 10 0 1 1 20.0 0a10 10 0 1 1 -20.0 0zM593.2 639.3a5 5 0 1 0 10.0 0a5 5 0 1 0 -10.0 0zM591.7 640.9a10 10 0 1 1 20.0 0a10 10 0 1 1 -20.0 0zM596.7 640.9a5 5 0 1 0 10.0 0a5 5 0 1 0 -10.0 0zM595.1 641.0a10 10 0 1 1 20.0 0a10 10 0 1 1 -20.0 0zM600.1 641.0a5 5 0 1 0 10.0 0a5 5 0 1 0 -10.0 0zM598.3 641.8a10 10 0 1 1 20.0 0a10 10 0 1 1 -20.0 0zM603.3 641.8a5 5 0 1 0 10.0 0a5 5 0 1 0 -10.0 0zM602.3 643.7a10 10 0 1 1 20.0 0a10 10 0 1 1 -20.0 0zM607.3 643.7a5 5 0 1 0 10.0 0a5 5 0 1 0 -10.0 0zM604.8 646.5a10 10 0 1 1 20.0 0a10 10 0 1 1 -20.0 0zM609.8 646.5a5 5 0 1 0 10.0 0a5 5 0 1 0 -10.0 0zM606.9 647.0a10 10 0 1 1 20.0 0a10 10 0 1 1 -20.0 0zM611.9 647.0a5 5 0 1 0 10.0 0a5 5 0 1 0 -10.0 0zM611.5 648.8a10 10 0 1 1 20.0 0a10 10 0 1 1 -20.0 0zM616.5 648.8a5 5 0 1 0 10.0 0a5 5 0 1 0 -10.0 0zM613.5 651.3a10 10 0 1 1 20.0 0a10 10 0 1 1 -20.0 0zM618.5 651.3a5 5 0 1 0 10.0 0a5 5 0 1 0 -10.0 0zM616.8 651.3a10 10 0 1 1 20.0 0a10 10 0 1 1 -20.0 0zM621.8 651.3a5 5 0 1 0 10.0 0a5 5 0 1 0 -10.0 0zM619.5 654.2a10 10 0 1 1 20.0 0a10 10 0 1 1 -20.0 0zM624.5 654.2a5 5 0 1 0 10.0 0a5 5 0 1 0 -10.0 0zM622.1 654.5a10 10 0 1 1 20.0 0a10 10 0 1 1 -20.0 0zM627.1 654.5a5 5 0 1 0 10.0 0a5 5 0 1 0 -10.0 0zM625.5 656.2a10 10 0 1 1 20.0 0a10 10 0 1 1 -20.0 0zM630.5 656.2a5 5 0 1 0 10.0 0a5 5 0 1 0 -10.0 0zM632.3 658.4a10 10 0 1 1 20.0 0a10 10 0 1 1 -20.0 0zM637.3 658.4a5 5 0 1 0 10.0 0a5 5 0 1 0 -10.0 0zM635.5 660.2a10 10 0 1 1 20.0 0a10 10 0 1 1 -20.0 0zM640.5 660.2a5 5 0 1 0 10.0 0a5 5 0 1 0 -10.0 0zM642.5 663.1a10 10 0 1 1 20.0 0a10 10 0 1 1 -20.0 0zM647.5 663.1a5 5 0 1 0 10.0 0a5 5 0 1 0 -10.0 0zM648.5 667.8a10 10 0 1 1 20.0 0a10 10 0 1 1 -20.0 0zM653.5 667.8a5 5 0 1 0 10.0 0a5 5 0 1 0 -10.0 0zM652.1 669.2a10 10 0 1 1 20.0 0a10 10 0 1 1 -20.0 0zM657.1 669.2a5 5 0 1 0 10.0 0a5 5 0 1 0 -10.0 0zM657.3 671.4a10 10 0 1 1 20.0 0a10 10 0 1 1 -20.0 0zM662.3 671.4a5 5 0 1 0 10.0 0a5 5 0 1 0 -10.0 0zM665.8 674.5a10 10 0 1 1 20.0 0a10 10 0 1 1 -20.0 0zM670.8 674.5a5 5 0 1 0 10.0 0a5 5 0 1 0 -10.0 0zM667.4 678.3a10 10 0 1 1 20.0 0a10 10 0 1 1 -20.0 0zM672.4 678.3a5 5 0 1 0 10.0 0a5 5 0 1 0 -10.0 0zM672.8 679.9a10 10 0 1 1 20.0 0a10 10 0 1 1 -20.0 0zM677.8 679.9a5 5 0 1 0 10.0 0a5 5 0 1 0 -10.0 0zM675.5 683.7a10 10 0 1 1 20.0 0a10 10 0 1 1 -20.0 0zM680.5 683.7a5 5 0 1 0 10.0 0a5 5 0 1 0 -10.0 0zM684.0 686.0a10 10 0 1 1 20.0 0a10 10 0 1 1 -20.0 0zM689.0 686.0a5 5 0 1 0 10.0 0a5 5 0 1 0 -10.0 0zM687.7 688.5a10 10 0 1 1 20.0 0a10 10 0 1 1 -20.0 0zM692.7 688.5a5 5 0 1 0 10.0 0a5 5 0 1 0 -10.0 0zM693.2 691.6a10 10 0 1 1 20.0 0a10 10 0 1 1 -20.0 0zM698.2 691.6a5 5 0 1 0 10.0 0a5 5 0 1 0 -10.0 0zM701.5 692.4a10 10 0 1 1 20.0 0a10 10 0 1 1 -20.0 0zM706.5 692.4a5 5 0 1 0 10.0 0a5 5 0 1 0 -10.0 0zM704.9 695.3a10 10 0 1 1 20.0 0a10 10 0 1 1 -20.0 0zM709.9 695.3a5 5 0 1 0 10.0 0a5 5 0 1 0 -10.0 0zM714.2 695.8a10 10 0 1 1 20.0 0a10 10 0 1 1 -20.0 0zM719.2 695.8a5 5 0 1 0 10.0 0a5 5 0 1 0 -10.0 0zM719.8 701.5a10 10 0 1 1 20.0 0a10 10 0 1 1 -20.0 0zM724.8 701.5a5 5 0 1 0 10.0 0a5 5 0 1 0 -10.0 0zM726.8 703.1a10 10 0 1 1 20.0 0a10 10 0 1 1 -20.0 0zM731.8 703.1a5 5 0 1 0 10.0 0a5 5 0 1 0 -10.0 0zM732.7 708.4a10 10 0 1 1 20.0 0a10 10 0 1 1 -20.0 0zM737.7 708.4a5 5 0 1 0 10.0 0a5 5 0 1 0 -10.0 0zM736.5 710.2a10 10 0 1 1 20.0 0a10 10 0 1 1 -20.0 0zM741.5 710.2a5 5 0 1 0 10.0 0a5 5 0 1 0 -10.0 0zM741.2 710.2a10 10 0 1 1 20.0 0a10 10 0 1 1 -20.0 0zM746.2 710.2a5 5 0 1 0 10.0 0a5 5 0 1 0 -10.0 0zM745.5 713.1a10 10 0 1 1 20.0 0a10 10 0 1 1 -20.0 0zM750.5 713.1a5 5 0 1 0 10.0 0a5 5 0 1 0 -10.0 0zM750.0 716.1a10 10 0 1 1 20.0 0a10 10 0 1 1 -20.0 0zM755.0 716.1a5 5 0 1 0 10.0 0a5 5 0 1 0 -10.0 0zM757.0 720.2a10 10 0 1 1 20.0 0a10 10 0 1 1 -20.0 0zM762.0 720.2a5 5 0 1 0 10.0 0a5 5 0 1 0 -10.0 0zM764.8 724.2a10 10 0 1 1 20.0 0a10 10 0 1 1 -20.0 0zM769.8 724.2a5 5 0 1 0 10.0 0a5 5 0 1 0 -10.0 0zM772.7 725.7a10 10 0 1 1 20.0 0a10 10 0 1 1 -20.0 0zM777.7 725.7a5 5 0 1 0 10.0 0a5 5 0 1 0 -10.0 0zM775.9 728.4a10 10 0 1 1 20.0 0a10 10 0 1 1 -20.0 0zM780.9 728.4a5 5 0 1 0 10.0 0a5 5 0 1 0 -10.0 0zM781.5 731.3a10 10 0 1 1 20.0 0a10 10 0 1 1 -20.0 0zM786.5 731.3a5 5 0 1 0 10.0 0a5 5 0 1 0 -10.0 0zM785.3 731.4a10 10 0 1 1 20.0 0a10 10 0 1 1 -20.0 0zM790.3 731.4a5 5 0 1 0 10.0 0a5 5 0 1 0 -10.0 0zM792.5 736.3a10 10 0 1 1 20.0 0a10 10 0 1 1 -20.0 0zM797.5 736.3a5 5 0 1 0 10.0 0a5 5 0 1 0 -10.0 0zM805.1 741.5a10 10 0 1 1 20.0 0a10 10 0 1 1 -20.0 0zM810.1 741.5a5 5 0 1 0 10.0 0a5 5 0 1 0 -10.0 0zM814.6 747.6a10 10 0 1 1 20.0 0a10 10 0 1 1 -20.0 0zM819.6 747.6a5 5 0 1 0 10.0 0a5 5 0 1 0 -10.0 0zM824.0 751.4a10 10 0 1 1 20.0 0a10 10 0 1 1 -20.0 0zM829.0 751.4a5 5 0 1 0 10.0 0a5 5 0 1 0 -10.0 0zM829.5 758.6a10 10 0 1 1 20.0 0a10 10 0 1 1 -20.0 0zM834.5 758.6a5 5 0 1 0 10.0 0a5 5 0 1 0 -10.0 0zM836.5 763.8a10 10 0 1 1 20.0 0a10 10 0 1 1 -20.0 0zM841.5 763.8a5 5 0 1 0 10.0 0a5 5 0 1 0 -10.0 0zM847.5 766.9a10 10 0 1 1 20.0 0a10 10 0 1 1 -20.0 0zM852.5 766.9a5 5 0 1 0 10.0 0a5 5 0 1 0 -10.0 0zM851.4 770.5a10 10 0 1 1 20.0 0a10 10 0 1 1 -20.0 0zM856.4 770.5a5 5 0 1 0 10.0 0a5 5 0 1 0 -10.0 0zM858.5 770.7a10 10 0 1 1 20.0 0a10 10 0 1 1 -20.0 0zM863.5 770.7a5 5 0 1 0 10.0 0a5 5 0 1 0 -10.0 0zM864.2 779.6a10 10 0 1 1 20.0 0a10 10 0 1 1 -20.0 0zM869.2 779.6a5 5 0 1 0 10.0 0a5 5 0 1 0 -10.0 0zM872.4 786.8a10 10 0 1 1 20.0 0a10 10 0 1 1 -20.0 0zM877.4 786.8a5 5 0 1 0 10.0 0a5 5 0 1 0 -10.0 0zM879.7 787.7a10 10 0 1 1 20.0 0a10 10 0 1 1 -20.0 0zM884.7 787.7a5 5 0 1 0 10.0 0a5 5 0 1 0 -10.0 0zM882.4 794.1a10 10 0 1 1 20.0 0a10 10 0 1 1 -20.0 0zM887.4 794.1a5 5 0 1 0 10.0 0a5 5 0 1 0 -10.0 0zM889.0 794.9a10 10 0 1 1 20.0 0a10 10 0 1 1 -20.0 0zM894.0 794.9a5 5 0 1 0 10.0 0a5 5 0 1 0 -10.0 0zM893.6 797.8a10 10 0 1 1 20.0 0a10 10 0 1 1 -20.0 0zM898.6 797.8a5 5 0 1 0 10.0 0a5 5 0 1 0 -10.0 0zM896.8 802.3a10 10 0 1 1 20.0 0a10 10 0 1 1 -20.0 0zM901.8 802.3a5 5 0 1 0 10.0 0a5 5 0 1 0 -10.0 0zM901.6 806.2a10 10 0 1 1 20.0 0a10 10 0 1 1 -20.0 0zM906.6 806.2a5 5 0 1 0 10.0 0a5 5 0 1 0 -10.0 0zM910.8 812.5a10 10 0 1 1 20.0 0a10 10 0 1 1 -20.0 0zM915.8 812.5a5 5 0 1 0 10.0 0a5 5 0 1 0 -10.0 0zM919.1 819.5a10 10 0 1 1 20.0 0a10 10 0 1 1 -20.0 0zM924.1 819.5a5 5 0 1 0 10.0 0a5 5 0 1 0 -10.0 0zM927.4 823.0a10 10 0 1 1 20.0 0a10 10 0 1 1 -20.0 0zM932.4 823.0a5 5 0 1 0 10.0 0a5 5 0 1 0 -10.0 0zM936.6 827.7a10 10 0 1 1 20.0 0a10 10 0 1 1 -20.0 0zM941.6 827.7a5 5 0 1 0 10.0 0a5 5 0 1 0 -10.0 0zM949.2 837.5a10 10 0 1 1 20.0 0a10 10 0 1 1 -20.0 0zM954.2 837.5a5 5 0 1 0 10.0 0a5 5 0 1 0 -10.0 0zM959.4 843.3a10 10 0 1 1 20.0 0a10 10 0 1 1 -20.0 0zM964.4 843.3a5 5 0 1 0 10.0 0a5 5 0 1 0 -10.0 0zM965.7 847.9a10 10 0 1 1 20.0 0a10 10 0 1 1 -20.0 0zM970.7 847.9a5 5 0 1 0 10.0 0a5 5 0 1 0 -10.0 0zM971.9 855.6a10 10 0 1 1 20.0 0a10 10 0 1 1 -20.0 0zM976.9 855.6a5 5 0 1 0 10.0 0a5 5 0 1 0 -10.0 0zM977.6 859.5a10 10 0 1 1 20.0 0a10 10 0 1 1 -20.0 0zM982.6 859.5a5 5 0 1 0 10.0 0a5 5 0 1 0 -10.0 0zM983.7 864.1a10 10 0 1 1 20.0 0a10 10 0 1 1 -20.0 0zM988.7 864.1a5 5 0 1 0 10.0 0a5 5 0 1 0 -10.0 0zM991.3 874.0a10 10 0 1 1 20.0 0a10 10 0 1 1 -20.0 0zM996.3 874.0a5 5 0 1 0 10.0 0a5 5 0 1 0 -10.0 0zM1000.0 877.5a10 10 0 1 1 20.0 0a10 10 0 1 1 -20.0 0zM1005.0 877.5a5 5 0 1 0 10.0 0a5 5 0 1 0 -10.0 0zM1006.6 884.0a10 10 0 1 1 20.0 0a10 10 0 1 1 -20.0 0zM1011.6 884.0a5 5 0 1 0 10.0 0a5 5 0 1 0 -10.0 0zM1016.9 896.0a10 10 0 1 1 20.0 0a10 10 0 1 1 -20.0 0zM1021.9 896.0a5 5 0 1 0 10.0 0a5 5 0 1 0 -10.0 0zM1026.9 905.7a10 10 0 1 1 20.0 0a10 10 0 1 1 -20.0 0zM1031.9 905.7a5 5 0 1 0 10.0 0a5 5 0 1 0 -10.0 0zM1036.5 918.9a10 10 0 1 1 20.0 0a10 10 0 1 1 -20.0 0zM1041.5 918.9a5 5 0 1 0 10.0 0a5 5 0 1 0 -10.0 0zM1046.3 917.3a10 10 0 1 1 20.0 0a10 10 0 1 1 -20.0 0zM1051.3 917.3a5 5 0 1 0 10.0 0a5 5 0 1 0 -10.0 0zM1056.6 932.6a10 10 0 1 1 20.0 0a10 10 0 1 1 -20.0 0zM1061.6 932.6a5 5 0 1 0 10.0 0a5 5 0 1 0 -10.0 0zM1066.2 944.0a10 10 0 1 1 20.0 0a10 10 0 1 1 -20.0 0zM1071.2 944.0a5 5 0 1 0 10.0 0a5 5 0 1 0 -10.0 0zM1073.8 951.1a10 10 0 1 1 20.0 0a10 10 0 1 1 -20.0 0zM1078.8 951.1a5 5 0 1 0 10.0 0a5 5 0 1 0 -10.0 0zM1081.3 957.9a10 10 0 1 1 20.0 0a10 10 0 1 1 -20.0 0zM1086.3 957.9a5 5 0 1 0 10.0 0a5 5 0 1 0 -10.0 0zM1086.9 964.2a10 10 0 1 1 20.0 0a10 10 0 1 1 -20.0 0zM1091.9 964.2a5 5 0 1 0 10.0 0a5 5 0 1 0 -10.0 0zM1096.8 974.4a10 10 0 1 1 20.0 0a10 10 0 1 1 -20.0 0zM1101.8 974.4a5 5 0 1 0 10.0 0a5 5 0 1 0 -10.0 0zM1106.0 983.1a10 10 0 1 1 20.0 0a10 10 0 1 1 -20.0 0zM1111.0 983.1a5 5 0 1 0 10.0 0a5 5 0 1 0 -10.0 0zM1115.6 989.9a10 10 0 1 1 20.0 0a10 10 0 1 1 -20.0 0zM1120.6 989.9a5 5 0 1 0 10.0 0a5 5 0 1 0 -10.0 0zM1124.7 1002.8a10 10 0 1 1 20.0 0a10 10 0 1 1 -20.0 0zM1129.7 1002.8a5 5 0 1 0 10.0 0a5 5 0 1 0 -10.0 0zM1130.6 1010.0a10 10 0 1 1 20.0 0a10 10 0 1 1 -20.0 0zM1135.6 1010.0a5 5 0 1 0 10.0 0a5 5 0 1 0 -10.0 0zM1138.8 1025.6a10 10 0 1 1 20.0 0a10 10 0 1 1 -20.0 0zM1143.8 1025.6a5 5 0 1 0 10.0 0a5 5 0 1 0 -10.0 0zM1146.5 1035.5a10 10 0 1 1 20.0 0a10 10 0 1 1 -20.0 0zM1151.5 1035.5a5 5 0 1 0 10.0 0a5 5 0 1 0 -10.0 0zM1153.9 1046.3a10 10 0 1 1 20.0 0a10 10 0 1 1 -20.0 0zM1158.9 1046.3a5 5 0 1 0 10.0 0a5 5 0 1 0 -10.0 0zM1161.8 1057.5a10 10 0 1 1 20.0 0a10 10 0 1 1 -20.0 0zM1166.8 1057.5a5 5 0 1 0 10.0 0a5 5 0 1 0 -10.0 0zM1168.1 1064.7a10 10 0 1 1 20.0 0a10 10 0 1 1 -20.0 0zM1173.1 1064.7a5 5 0 1 0 10.0 0a5 5 0 1 0 -10.0 0zM1175.3 1078.4a10 10 0 1 1 20.0 0a10 10 0 1 1 -20.0 0zM1180.3 1078.4a5 5 0 1 0 10.0 0a5 5 0 1 0 -10.0 0zM1184.2 1094.7a10 10 0 1 1 20.0 0a10 10 0 1 1 -20.0 0zM1189.2 1094.7a5 5 0 1 0 10.0 0a5 5 0 1 0 -10.0 0zM1191.5 1107.4a10 10 0 1 1 20.0 0a10 10 0 1 1 -20.0 0zM1196.5 1107.4a5 5 0 1 0 10.0 0a5 5 0 1 0 -10.0 0zM1202.3 1131.7a10 10 0 1 1 20.0 0a10 10 0 1 1 -20.0 0zM1207.3 1131.7a5 5 0 1 0 10.0 0a5 5 0 1 0 -10.0 0zM1208.0 1145.5a10 10 0 1 1 20.0 0a10 10 0 1 1 -20.0 0zM1213.0 1145.5a5 5 0 1 0 10.0 0a5 5 0 1 0 -10.0 0zM1218.2 1166.5a10 10 0 1 1 20.0 0a10 10 0 1 1 -20.0 0zM1223.2 1166.5a5 5 0 1 0 10.0 0a5 5 0 1 0 -10.0 0zM1224.0 1179.0a10 10 0 1 1 20.0 0a10 10 0 1 1 -20.0 0zM1229.0 1179.0a5 5 0 1 0 10.0 0a5 5 0 1 0 -10.0 0zM1234.3 1207.9a10 10 0 1 1 20.0 0a10 10 0 1 1 -20.0 0zM1239.3 1207.9a5 5 0 1 0 10.0 0a5 5 0 1 0 -10.0 0zM1244.0 1234.0a10 10 0 1 1 20.0 0a10 10 0 1 1 -20.0 0zM1249.0 1234.0a5 5 0 1 0 10.0 0a5 5 0 1 0 -10.0 0zM1252.0 1252.0a10 10 0 1 1 20.0 0a10 10 0 1 1 -20.0 0zM1257.0 1252.0a5 5 0 1 0 10.0 0a5 5 0 1 0 -10.0 0zM1265.0 1277.0a10 10 0 1 1 20.0 0a10 10 0 1 1 -20.0 0zM1270.0 1277.0a5 5 0 1 0 10.0 0a5 5 0 1 0 -10.0 0zM1274.0 1296.0a10 10 0 1 1 20.0 0a10 10 0 1 1 -20.0 0zM1279.0 1296.0a5 5 0 1 0 10.0 0a5 5 0 1 0 -10.0 0zM1281.0 1316.0a10 10 0 1 1 20.0 0a10 10 0 1 1 -20.0 0zM1286.0 1316.0a5 5 0 1 0 10.0 0a5 5 0 1 0 -10.0 0zM1285.0 1343.0a10 10 0 1 1 20.0 0a10 10 0 1 1 -20.0 0zM1290.0 1343.0a5 5 0 1 0 10.0 0a5 5 0 1 0 -10.0 0zM1291.0 1358.0a10 10 0 1 1 20.0 0a10 10 0 1 1 -20.0 0zM1296.0 1358.0a5 5 0 1 0 10.0 0a5 5 0 1 0 -10.0 0zM1301.0 1382.0a10 10 0 1 1 20.0 0a10 10 0 1 1 -20.0 0zM1306.0 1382.0a5 5 0 1 0 10.0 0a5 5 0 1 0 -10.0 0zM1308.0 1401.0a10 10 0 1 1 20.0 0a10 10 0 1 1 -20.0 0zM1313.0 1401.0a5 5 0 1 0 10.0 0a5 5 0 1 0 -10.0 0zM1318.0 1412.0a10 10 0 1 1 20.0 0a10 10 0 1 1 -20.0 0zM1323.0 1412.0a5 5 0 1 0 10.0 0a5 5 0 1 0 -10.0 0zM1324.0 1432.0a10 10 0 1 1 20.0 0a10 10 0 1 1 -20.0 0zM1329.0 1432.0a5 5 0 1 0 10.0 0a5 5 0 1 0 -10.0 0zM1334.0 1442.0a10 10 0 1 1 20.0 0a10 10 0 1 1 -20.0 0zM1339.0 1442.0a5 5 0 1 0 10.0 0a5 5 0 1 0 -10.0 0zM1342.0 1452.0a10 10 0 1 1 20.0 0a10 10 0 1 1 -20.0 0zM1347.0 1452.0a5 5 0 1 0 10.0 0a5 5 0 1 0 -10.0 0zM1349.0 1463.0a10 10 0 1 1 20.0 0a10 10 0 1 1 -20.0 0zM1354.0 1463.0a5 5 0 1 0 10.0 0a5 5 0 1 0 -10.0 0zM1360.0 1472.0a10 10 0 1 1 20.0 0a10 10 0 1 1 -20.0 0zM1365.0 1472.0a5 5 0 1 0 10.0 0a5 5 0 1 0 -10.0 0zM1371.0 1482.0a10 10 0 1 1 20.0 0a10 10 0 1 1 -20.0 0zM1376.0 1482.0a5 5 0 1 0 10.0 0a5 5 0 1 0 -10.0 0zM1386.0 1490.0a10 10 0 1 1 20.0 0a10 10 0 1 1 -20.0 0zM1391.0 1490.0a5 5 0 1 0 10.0 0a5 5 0 1 0 -10.0 0zM1404.1 1493.5a10 10 0 1 1 20.0 0a10 10 0 1 1 -20.0 0zM1409.1 1493.5a5 5 0 1 0 10.0 0a5 5 0 1 0 -10.0 0zM1410.8 1495.0a10 10 0 1 1 20.0 0a10 10 0 1 1 -20.0 0zM1415.8 1495.0a5 5 0 1 0 10.0 0a5 5 0 1 0 -10.0 0zM1417.9 1495.7a10 10 0 1 1 20.0 0a10 10 0 1 1 -20.0 0zM1422.9 1495.7a5 5 0 1 0 10.0 0a5 5 0 1 0 -10.0 0zM1425.7 1498.8a10 10 0 1 1 20.0 0a10 10 0 1 1 -20.0 0zM1430.7 1498.8a5 5 0 1 0 10.0 0a5 5 0 1 0 -10.0 0zM1435.2 1503.6a10 10 0 1 1 20.0 0a10 10 0 1 1 -20.0 0zM1440.2 1503.6a5 5 0 1 0 10.0 0a5 5 0 1 0 -10.0 0zM1442.0 1506.7a10 10 0 1 1 20.0 0a10 10 0 1 1 -20.0 0zM1447.0 1506.7a5 5 0 1 0 10.0 0a5 5 0 1 0 -10.0 0zM1449.2 1509.8a10 10 0 1 1 20.0 0a10 10 0 1 1 -20.0 0zM1454.2 1509.8a5 5 0 1 0 10.0 0a5 5 0 1 0 -10.0 0zM1451.9 1512.2a10 10 0 1 1 20.0 0a10 10 0 1 1 -20.0 0zM1456.9 1512.2a5 5 0 1 0 10.0 0a5 5 0 1 0 -10.0 0zM1455.6 1513.8a10 10 0 1 1 20.0 0a10 10 0 1 1 -20.0 0zM1460.6 1513.8a5 5 0 1 0 10.0 0a5 5 0 1 0 -10.0 0zM1460.0 1515.1a10 10 0 1 1 20.0 0a10 10 0 1 1 -20.0 0zM1465.0 1515.1a5 5 0 1 0 10.0 0a5 5 0 1 0 -10.0 0zM1464.8 1515.1a10 10 0 1 1 20.0 0a10 10 0 1 1 -20.0 0zM1469.8 1515.1a5 5 0 1 0 10.0 0a5 5 0 1 0 -10.0 0zM1467.2 1517.8a10 10 0 1 1 20.0 0a10 10 0 1 1 -20.0 0zM1472.2 1517.8a5 5 0 1 0 10.0 0a5 5 0 1 0 -10.0 0zM1470.7 1518.9a10 10 0 1 1 20.0 0a10 10 0 1 1 -20.0 0zM1475.7 1518.9a5 5 0 1 0 10.0 0a5 5 0 1 0 -10.0 0zM1472.8 1518.6a10 10 0 1 1 20.0 0a10 10 0 1 1 -20.0 0zM1477.8 1518.6a5 5 0 1 0 10.0 0a5 5 0 1 0 -10.0 0zM1475.1 1519.5a10 10 0 1 1 20.0 0a10 10 0 1 1 -20.0 0zM1480.1 1519.5a5 5 0 1 0 10.0 0a5 5 0 1 0 -10.0 0zM1478.7 1519.5a10 10 0 1 1 20.0 0a10 10 0 1 1 -20.0 0zM1483.7 1519.5a5 5 0 1 0 10.0 0a5 5 0 1 0 -10.0 0zM1480.6 1520.6a10 10 0 1 1 20.0 0a10 10 0 1 1 -20.0 0zM1485.6 1520.6a5 5 0 1 0 10.0 0a5 5 0 1 0 -10.0 0zM1485.0 1522.3a10 10 0 1 1 20.0 0a10 10 0 1 1 -20.0 0zM1490.0 1522.3a5 5 0 1 0 10.0 0a5 5 0 1 0 -10.0 0zM1487.1 1522.7a10 10 0 1 1 20.0 0a10 10 0 1 1 -20.0 0zM1492.1 1522.7a5 5 0 1 0 10.0 0a5 5 0 1 0 -10.0 0zM1489.1 1522.6a10 10 0 1 1 20.0 0a10 10 0 1 1 -20.0 0zM1494.1 1522.6a5 5 0 1 0 10.0 0a5 5 0 1 0 -10.0 0zM1491.3 1521.7a10 10 0 1 1 20.0 0a10 10 0 1 1 -20.0 0zM1496.3 1521.7a5 5 0 1 0 10.0 0a5 5 0 1 0 -10.0 0zM1495.6 1522.7a10 10 0 1 1 20.0 0a10 10 0 1 1 -20.0 0zM1500.6 1522.7a5 5 0 1 0 10.0 0a5 5 0 1 0 -10.0 0zM1497.6 1524.6a10 10 0 1 1 20.0 0a10 10 0 1 1 -20.0 0zM1502.6 1524.6a5 5 0 1 0 10.0 0a5 5 0 1 0 -10.0 0zM1502.1 1523.8a10 10 0 1 1 20.0 0a10 10 0 1 1 -20.0 0zM1507.1 1523.8a5 5 0 1 0 10.0 0a5 5 0 1 0 -10.0 0zM1506.8 1524.8a10 10 0 1 1 20.0 0a10 10 0 1 1 -20.0 0zM1511.8 1524.8a5 5 0 1 0 10.0 0a5 5 0 1 0 -10.0 0zM1510.6 1524.5a10 10 0 1 1 20.0 0a10 10 0 1 1 -20.0 0zM1515.6 1524.5a5 5 0 1 0 10.0 0a5 5 0 1 0 -10.0 0zM1515.1 1525.9a10 10 0 1 1 20.0 0a10 10 0 1 1 -20.0 0zM1520.1 1525.9a5 5 0 1 0 10.0 0a5 5 0 1 0 -10.0 0zM1519.7 1526.8a10 10 0 1 1 20.0 0a10 10 0 1 1 -20.0 0zM1524.7 1526.8a5 5 0 1 0 10.0 0a5 5 0 1 0 -10.0 0zM1522.3 1526.0a10 10 0 1 1 20.0 0a10 10 0 1 1 -20.0 0zM1527.3 1526.0a5 5 0 1 0 10.0 0a5 5 0 1 0 -10.0 0zM1524.5 1525.7a10 10 0 1 1 20.0 0a10 10 0 1 1 -20.0 0zM1529.5 1525.7a5 5 0 1 0 10.0 0a5 5 0 1 0 -10.0 0zM1526.3 1526.2a10 10 0 1 1 20.0 0a10 10 0 1 1 -20.0 0zM1531.3 1526.2a5 5 0 1 0 10.0 0a5 5 0 1 0 -10.0 0zM1529.8 1526.0a10 10 0 1 1 20.0 0a10 10 0 1 1 -20.0 0zM1534.8 1526.0a5 5 0 1 0 10.0 0a5 5 0 1 0 -10.0 0zM1533.5 1526.7a10 10 0 1 1 20.0 0a10 10 0 1 1 -20.0 0zM1538.5 1526.7a5 5 0 1 0 10.0 0a5 5 0 1 0 -10.0 0zM1536.1 1527.6a10 10 0 1 1 20.0 0a10 10 0 1 1 -20.0 0zM1541.1 1527.6a5 5 0 1 0 10.0 0a5 5 0 1 0 -10.0 0zM1539.2 1526.6a10 10 0 1 1 20.0 0a10 10 0 1 1 -20.0 0zM1544.2 1526.6a5 5 0 1 0 10.0 0a5 5 0 1 0 -10.0 0zM1542.4 1527.4a10 10 0 1 1 20.0 0a10 10 0 1 1 -20.0 0zM1547.4 1527.4a5 5 0 1 0 10.0 0a5 5 0 1 0 -10.0 0zM1544.2 1528.0a10 10 0 1 1 20.0 0a10 10 0 1 1 -20.0 0zM1549.2 1528.0a5 5 0 1 0 10.0 0a5 5 0 1 0 -10.0 0zM1545.8 1527.5a10 10 0 1 1 20.0 0a10 10 0 1 1 -20.0 0zM1550.8 1527.5a5 5 0 1 0 10.0 0a5 5 0 1 0 -10.0 0zM1550.1 1526.0a10 10 0 1 1 20.0 0a10 10 0 1 1 -20.0 0zM1555.1 1526.0a5 5 0 1 0 10.0 0a5 5 0 1 0 -10.0 0zM1554.3 1526.7a10 10 0 1 1 20.0 0a10 10 0 1 1 -20.0 0zM1559.3 1526.7a5 5 0 1 0 10.0 0a5 5 0 1 0 -10.0 0zM1557.7 1526.0a10 10 0 1 1 20.0 0a10 10 0 1 1 -20.0 0zM1562.7 1526.0a5 5 0 1 0 10.0 0a5 5 0 1 0 -10.0 0zM1559.5 1526.4a10 10 0 1 1 20.0 0a10 10 0 1 1 -20.0 0zM1564.5 1526.4a5 5 0 1 0 10.0 0a5 5 0 1 0 -10.0 0zM1564.1 1526.3a10 10 0 1 1 20.0 0a10 10 0 1 1 -20.0 0zM1569.1 1526.3a5 5 0 1 0 10.0 0a5 5 0 1 0 -10.0 0zM1568.2 1527.6a10 10 0 1 1 20.0 0a10 10 0 1 1 -20.0 0zM1573.2 1527.6a5 5 0 1 0 10.0 0a5 5 0 1 0 -10.0 0zM1572.7 1526.3a10 10 0 1 1 20.0 0a10 10 0 1 1 -20.0 0zM1577.7 1526.3a5 5 0 1 0 10.0 0a5 5 0 1 0 -10.0 0zM1575.5 1526.5a10 10 0 1 1 20.0 0a10 10 0 1 1 -20.0 0zM1580.5 1526.5a5 5 0 1 0 10.0 0a5 5 0 1 0 -10.0 0zM1579.5 1525.6a10 10 0 1 1 20.0 0a10 10 0 1 1 -20.0 0zM1584.5 1525.6a5 5 0 1 0 10.0 0a5 5 0 1 0 -10.0 0zM1583.6 1526.8a10 10 0 1 1 20.0 0a10 10 0 1 1 -20.0 0zM1588.6 1526.8a5 5 0 1 0 10.0 0a5 5 0 1 0 -10.0 0zM1587.9 1525.1a10 10 0 1 1 20.0 0a10 10 0 1 1 -20.0 0zM1592.9 1525.1a5 5 0 1 0 10.0 0a5 5 0 1 0 -10.0 0z"/>
<path d="M381.0 1456.7L389.4 1456.0L399.0 1457.0L406.0 1458.7L416.8 1458.8L433.5 1460.9L441.9 1460.6L452.6 1460.9L468.0 1462.9L481.0 1464.1L492.0 1464.2L505.0 1464.8L513.8 1465.9L523.0 1467.6L532.1 1468.0L540.8 1467.5L552.1 1468.2L560.0 1468.3L569.9 1468.6L580.0 1470.2L619.5 1470.9L636.0 1472.2L651.7 1472.7L679.0 1473.4L716.0 1476.0L726.0 1475.5L736.0 1476.8L745.8 1476.4L755.0 1477.3L765.0 1477.4L775.7 1478.0L791.0 1479.9L799.7 1480.5L810.0 1480.4L822.8 1482.1L834.8 1481.9L848.6 1483.1L862.3 1484.7L875.4 1485.3L889.7 1485.3L901.2 1487.3L911.6 1486.5L923.7 1487.2L933.5 1488.4L946.7 1488.3L957.1 1488.8L970.8 1489.0L985.0 1489.7L990.6 1490.7L1003.7 1490.8L1016.9 1492.0L1031.0 1492.2L1047.6 1493.1L1055.0 1494.3L1065.0 1494.0L1078.0 1494.7L1093.7 1495.9L1104.6 1495.3L1120.0 1495.7L1143.0 1497.6L1165.0 1498.0L1177.0 1497.5L1188.0 1497.7L1199.0 1498.8L1210.0 1499.5L1225.0 1498.7L1241.0 1500.3L1249.7 1500.4L1260.0 1500.2L1275.0 1500.3L1290.0 1500.1L1304.0 1500.4L1320.0 1502.5L1336.0 1502.0L1352.0 1503.4L1359.4 1503.0L1370.0 1504.3L1382.0 1504.4L1395.2 1504.5L1406.0 1504.7L1413.8 1505.9L1420.0 1505.1L1433.0 1505.9L1438.7 1506.6L1448.0 1507.5L1458.0 1507.5L1470.0 1507.4L1478.9 1508.8L1484.0 1507.9L1494.9 1508.0L1502.0 1508.7L1514.0 1509.5L1522.6 1509.2L1530.0 1509.7L1540.0 1510.5L1549.5 1511.2L1558.0 1510.8L1570.0 1512.3L1575.9 1513.7L1584.5 1514.7L1594.5 1515.2L1603.3 1516.0L1616.0 1516.4L1627.0 1516.3L1636.1 1516.5L1645.0 1516.7L1652.7 1518.4L1664.0 1518.5L1673.8 1519.3L1686.0 1518.2L1696.0 1519.6L1703.0 1519.6L1712.0 1520.4L1717.1 1519.9L1726.0 1521.4L1732.9 1520.2L1740.0 1521.2L1747.3 1521.8L1755.0 1522.2L1763.9 1522.1L1770.0 1522.2L1779.1 1522.5L1788.0 1522.8L1800.0 1522.1L1809.6 1522.8L1818.0 1523.3L1826.5 1523.4L1835.0 1522.8L1843.1 1523.5L1850.0 1523.7L1857.8 1523.4L1866.0 1523.6L1872.1 1523.3L1880.0 1523.8L1890.5 1524.0L1897.0 1523.3L1906.5 1524.3L1912.0 1525.0L1922.4 1525.0L1930.0 1524.9L1938.3 1524.5L1945.0 1525.2L1951.8 1525.1L1960.0 1525.0L1967.9 1525.8L1978.0 1524.8L1984.2 1525.9L1992.0 1524.9L1999.3 1526.0L2010.0 1526.0L2018.6 1525.7L2025.0 1526.6L2032.1 1526.4L2040.0 1526.7L2048.9 1527.4L2055.0 1526.4L2062.0 1526.2L2070.0 1526.7L2079.3 1527.3L2085.0 1526.5L2098.0 1526.5L2105.0 1527.6" fill="none" stroke="#000000" stroke-width="9.5" stroke-linejoin="round"/>
<path fill="#fff" d="M376.3 1456.7a4.7 4.8 0 1 1 9.4 0a4.7 4.8 0 1 1 -9.4 0zM384.7 1456.0a4.7 4.8 0 1 1 9.4 0a4.7 4.8 0 1 1 -9.4 0zM394.3 1457.0a4.7 4.8 0 1 1 9.4 0a4.7 4.8 0 1 1 -9.4 0zM401.3 1458.7a4.7 4.8 0 1 1 9.4 0a4.7 4.8 0 1 1 -9.4 0zM412.1 1458.8a4.7 4.8 0 1 1 9.4 0a4.7 4.8 0 1 1 -9.4 0zM428.8 1460.9a4.7 4.8 0 1 1 9.4 0a4.7 4.8 0 1 1 -9.4 0zM437.2 1460.6a4.7 4.8 0 1 1 9.4 0a4.7 4.8 0 1 1 -9.4 0zM447.9 1460.9a4.7 4.8 0 1 1 9.4 0a4.7 4.8 0 1 1 -9.4 0zM463.3 1462.9a4.7 4.8 0 1 1 9.4 0a4.7 4.8 0 1 1 -9.4 0zM476.3 1464.1a4.7 4.8 0 1 1 9.4 0a4.7 4.8 0 1 1 -9.4 0zM487.3 1464.2a4.7 4.8 0 1 1 9.4 0a4.7 4.8 0 1 1 -9.4 0zM500.3 1464.8a4.7 4.8 0 1 1 9.4 0a4.7 4.8 0 1 1 -9.4 0zM509.1 1465.9a4.7 4.8 0 1 1 9.4 0a4.7 4.8 0 1 1 -9.4 0zM518.3 1467.6a4.7 4.8 0 1 1 9.4 0a4.7 4.8 0 1 1 -9.4 0zM527.4 1468.0a4.7 4.8 0 1 1 9.4 0a4.7 4.8 0 1 1 -9.4 0zM536.1 1467.5a4.7 4.8 0 1 1 9.4 0a4.7 4.8 0 1 1 -9.4 0zM547.4 1468.2a4.7 4.8 0 1 1 9.4 0a4.7 4.8 0 1 1 -9.4 0zM555.3 1468.3a4.7 4.8 0 1 1 9.4 0a4.7 4.8 0 1 1 -9.4 0zM565.2 1468.6a4.7 4.8 0 1 1 9.4 0a4.7 4.8 0 1 1 -9.4 0zM575.3 1470.2a4.7 4.8 0 1 1 9.4 0a4.7 4.8 0 1 1 -9.4 0zM614.8 1470.9a4.7 4.8 0 1 1 9.4 0a4.7 4.8 0 1 1 -9.4 0zM631.3 1472.2a4.7 4.8 0 1 1 9.4 0a4.7 4.8 0 1 1 -9.4 0zM647.0 1472.7a4.7 4.8 0 1 1 9.4 0a4.7 4.8 0 1 1 -9.4 0zM674.3 1473.4a4.7 4.8 0 1 1 9.4 0a4.7 4.8 0 1 1 -9.4 0zM711.3 1476.0a4.7 4.8 0 1 1 9.4 0a4.7 4.8 0 1 1 -9.4 0zM721.3 1475.5a4.7 4.8 0 1 1 9.4 0a4.7 4.8 0 1 1 -9.4 0zM731.3 1476.8a4.7 4.8 0 1 1 9.4 0a4.7 4.8 0 1 1 -9.4 0zM741.1 1476.4a4.7 4.8 0 1 1 9.4 0a4.7 4.8 0 1 1 -9.4 0zM750.3 1477.3a4.7 4.8 0 1 1 9.4 0a4.7 4.8 0 1 1 -9.4 0zM760.3 1477.4a4.7 4.8 0 1 1 9.4 0a4.7 4.8 0 1 1 -9.4 0zM771.0 1478.0a4.7 4.8 0 1 1 9.4 0a4.7 4.8 0 1 1 -9.4 0zM786.3 1479.9a4.7 4.8 0 1 1 9.4 0a4.7 4.8 0 1 1 -9.4 0zM795.0 1480.5a4.7 4.8 0 1 1 9.4 0a4.7 4.8 0 1 1 -9.4 0zM805.3 1480.4a4.7 4.8 0 1 1 9.4 0a4.7 4.8 0 1 1 -9.4 0zM818.1 1482.1a4.7 4.8 0 1 1 9.4 0a4.7 4.8 0 1 1 -9.4 0zM830.1 1481.9a4.7 4.8 0 1 1 9.4 0a4.7 4.8 0 1 1 -9.4 0zM843.9 1483.1a4.7 4.8 0 1 1 9.4 0a4.7 4.8 0 1 1 -9.4 0zM857.6 1484.7a4.7 4.8 0 1 1 9.4 0a4.7 4.8 0 1 1 -9.4 0zM870.7 1485.3a4.7 4.8 0 1 1 9.4 0a4.7 4.8 0 1 1 -9.4 0zM885.0 1485.3a4.7 4.8 0 1 1 9.4 0a4.7 4.8 0 1 1 -9.4 0zM896.5 1487.3a4.7 4.8 0 1 1 9.4 0a4.7 4.8 0 1 1 -9.4 0zM906.9 1486.5a4.7 4.8 0 1 1 9.4 0a4.7 4.8 0 1 1 -9.4 0zM919.0 1487.2a4.7 4.8 0 1 1 9.4 0a4.7 4.8 0 1 1 -9.4 0zM928.8 1488.4a4.7 4.8 0 1 1 9.4 0a4.7 4.8 0 1 1 -9.4 0zM942.0 1488.3a4.7 4.8 0 1 1 9.4 0a4.7 4.8 0 1 1 -9.4 0zM952.4 1488.8a4.7 4.8 0 1 1 9.4 0a4.7 4.8 0 1 1 -9.4 0zM966.1 1489.0a4.7 4.8 0 1 1 9.4 0a4.7 4.8 0 1 1 -9.4 0zM980.3 1489.7a4.7 4.8 0 1 1 9.4 0a4.7 4.8 0 1 1 -9.4 0zM985.9 1490.7a4.7 4.8 0 1 1 9.4 0a4.7 4.8 0 1 1 -9.4 0zM999.0 1490.8a4.7 4.8 0 1 1 9.4 0a4.7 4.8 0 1 1 -9.4 0zM1012.2 1492.0a4.7 4.8 0 1 1 9.4 0a4.7 4.8 0 1 1 -9.4 0zM1026.3 1492.2a4.7 4.8 0 1 1 9.4 0a4.7 4.8 0 1 1 -9.4 0zM1042.9 1493.1a4.7 4.8 0 1 1 9.4 0a4.7 4.8 0 1 1 -9.4 0zM1050.3 1494.3a4.7 4.8 0 1 1 9.4 0a4.7 4.8 0 1 1 -9.4 0zM1060.3 1494.0a4.7 4.8 0 1 1 9.4 0a4.7 4.8 0 1 1 -9.4 0zM1073.3 1494.7a4.7 4.8 0 1 1 9.4 0a4.7 4.8 0 1 1 -9.4 0zM1089.0 1495.9a4.7 4.8 0 1 1 9.4 0a4.7 4.8 0 1 1 -9.4 0zM1099.9 1495.3a4.7 4.8 0 1 1 9.4 0a4.7 4.8 0 1 1 -9.4 0zM1115.3 1495.7a4.7 4.8 0 1 1 9.4 0a4.7 4.8 0 1 1 -9.4 0zM1138.3 1497.6a4.7 4.8 0 1 1 9.4 0a4.7 4.8 0 1 1 -9.4 0zM1160.3 1498.0a4.7 4.8 0 1 1 9.4 0a4.7 4.8 0 1 1 -9.4 0zM1172.3 1497.5a4.7 4.8 0 1 1 9.4 0a4.7 4.8 0 1 1 -9.4 0zM1183.3 1497.7a4.7 4.8 0 1 1 9.4 0a4.7 4.8 0 1 1 -9.4 0zM1194.3 1498.8a4.7 4.8 0 1 1 9.4 0a4.7 4.8 0 1 1 -9.4 0zM1205.3 1499.5a4.7 4.8 0 1 1 9.4 0a4.7 4.8 0 1 1 -9.4 0zM1220.3 1498.7a4.7 4.8 0 1 1 9.4 0a4.7 4.8 0 1 1 -9.4 0zM1236.3 1500.3a4.7 4.8 0 1 1 9.4 0a4.7 4.8 0 1 1 -9.4 0zM1245.0 1500.4a4.7 4.8 0 1 1 9.4 0a4.7 4.8 0 1 1 -9.4 0zM1255.3 1500.2a4.7 4.8 0 1 1 9.4 0a4.7 4.8 0 1 1 -9.4 0zM1270.3 1500.3a4.7 4.8 0 1 1 9.4 0a4.7 4.8 0 1 1 -9.4 0zM1285.3 1500.1a4.7 4.8 0 1 1 9.4 0a4.7 4.8 0 1 1 -9.4 0zM1299.3 1500.4a4.7 4.8 0 1 1 9.4 0a4.7 4.8 0 1 1 -9.4 0zM1315.3 1502.5a4.7 4.8 0 1 1 9.4 0a4.7 4.8 0 1 1 -9.4 0zM1331.3 1502.0a4.7 4.8 0 1 1 9.4 0a4.7 4.8 0 1 1 -9.4 0zM1347.3 1503.4a4.7 4.8 0 1 1 9.4 0a4.7 4.8 0 1 1 -9.4 0zM1354.7 1503.0a4.7 4.8 0 1 1 9.4 0a4.7 4.8 0 1 1 -9.4 0zM1365.3 1504.3a4.7 4.8 0 1 1 9.4 0a4.7 4.8 0 1 1 -9.4 0zM1377.3 1504.4a4.7 4.8 0 1 1 9.4 0a4.7 4.8 0 1 1 -9.4 0zM1390.5 1504.5a4.7 4.8 0 1 1 9.4 0a4.7 4.8 0 1 1 -9.4 0zM1401.3 1504.7a4.7 4.8 0 1 1 9.4 0a4.7 4.8 0 1 1 -9.4 0zM1409.1 1505.9a4.7 4.8 0 1 1 9.4 0a4.7 4.8 0 1 1 -9.4 0zM1415.3 1505.1a4.7 4.8 0 1 1 9.4 0a4.7 4.8 0 1 1 -9.4 0zM1428.3 1505.9a4.7 4.8 0 1 1 9.4 0a4.7 4.8 0 1 1 -9.4 0zM1434.0 1506.6a4.7 4.8 0 1 1 9.4 0a4.7 4.8 0 1 1 -9.4 0zM1443.3 1507.5a4.7 4.8 0 1 1 9.4 0a4.7 4.8 0 1 1 -9.4 0zM1453.3 1507.5a4.7 4.8 0 1 1 9.4 0a4.7 4.8 0 1 1 -9.4 0zM1465.3 1507.4a4.7 4.8 0 1 1 9.4 0a4.7 4.8 0 1 1 -9.4 0zM1474.2 1508.8a4.7 4.8 0 1 1 9.4 0a4.7 4.8 0 1 1 -9.4 0zM1479.3 1507.9a4.7 4.8 0 1 1 9.4 0a4.7 4.8 0 1 1 -9.4 0zM1490.2 1508.0a4.7 4.8 0 1 1 9.4 0a4.7 4.8 0 1 1 -9.4 0zM1497.3 1508.7a4.7 4.8 0 1 1 9.4 0a4.7 4.8 0 1 1 -9.4 0zM1509.3 1509.5a4.7 4.8 0 1 1 9.4 0a4.7 4.8 0 1 1 -9.4 0zM1517.9 1509.2a4.7 4.8 0 1 1 9.4 0a4.7 4.8 0 1 1 -9.4 0zM1525.3 1509.7a4.7 4.8 0 1 1 9.4 0a4.7 4.8 0 1 1 -9.4 0zM1535.3 1510.5a4.7 4.8 0 1 1 9.4 0a4.7 4.8 0 1 1 -9.4 0zM1544.8 1511.2a4.7 4.8 0 1 1 9.4 0a4.7 4.8 0 1 1 -9.4 0zM1553.3 1510.8a4.7 4.8 0 1 1 9.4 0a4.7 4.8 0 1 1 -9.4 0zM1565.3 1512.3a4.7 4.8 0 1 1 9.4 0a4.7 4.8 0 1 1 -9.4 0zM1571.2 1513.7a4.7 4.8 0 1 1 9.4 0a4.7 4.8 0 1 1 -9.4 0zM1579.8 1514.7a4.7 4.8 0 1 1 9.4 0a4.7 4.8 0 1 1 -9.4 0zM1589.8 1515.2a4.7 4.8 0 1 1 9.4 0a4.7 4.8 0 1 1 -9.4 0zM1598.6 1516.0a4.7 4.8 0 1 1 9.4 0a4.7 4.8 0 1 1 -9.4 0zM1611.3 1516.4a4.7 4.8 0 1 1 9.4 0a4.7 4.8 0 1 1 -9.4 0zM1622.3 1516.3a4.7 4.8 0 1 1 9.4 0a4.7 4.8 0 1 1 -9.4 0zM1631.4 1516.5a4.7 4.8 0 1 1 9.4 0a4.7 4.8 0 1 1 -9.4 0zM1640.3 1516.7a4.7 4.8 0 1 1 9.4 0a4.7 4.8 0 1 1 -9.4 0zM1648.0 1518.4a4.7 4.8 0 1 1 9.4 0a4.7 4.8 0 1 1 -9.4 0zM1659.3 1518.5a4.7 4.8 0 1 1 9.4 0a4.7 4.8 0 1 1 -9.4 0zM1669.1 1519.3a4.7 4.8 0 1 1 9.4 0a4.7 4.8 0 1 1 -9.4 0zM1681.3 1518.2a4.7 4.8 0 1 1 9.4 0a4.7 4.8 0 1 1 -9.4 0zM1691.3 1519.6a4.7 4.8 0 1 1 9.4 0a4.7 4.8 0 1 1 -9.4 0zM1698.3 1519.6a4.7 4.8 0 1 1 9.4 0a4.7 4.8 0 1 1 -9.4 0zM1707.3 1520.4a4.7 4.8 0 1 1 9.4 0a4.7 4.8 0 1 1 -9.4 0zM1712.4 1519.9a4.7 4.8 0 1 1 9.4 0a4.7 4.8 0 1 1 -9.4 0zM1721.3 1521.4a4.7 4.8 0 1 1 9.4 0a4.7 4.8 0 1 1 -9.4 0zM1728.2 1520.2a4.7 4.8 0 1 1 9.4 0a4.7 4.8 0 1 1 -9.4 0zM1735.3 1521.2a4.7 4.8 0 1 1 9.4 0a4.7 4.8 0 1 1 -9.4 0zM1742.6 1521.8a4.7 4.8 0 1 1 9.4 0a4.7 4.8 0 1 1 -9.4 0zM1750.3 1522.2a4.7 4.8 0 1 1 9.4 0a4.7 4.8 0 1 1 -9.4 0zM1759.2 1522.1a4.7 4.8 0 1 1 9.4 0a4.7 4.8 0 1 1 -9.4 0zM1765.3 1522.2a4.7 4.8 0 1 1 9.4 0a4.7 4.8 0 1 1 -9.4 0zM1774.4 1522.5a4.7 4.8 0 1 1 9.4 0a4.7 4.8 0 1 1 -9.4 0zM1783.3 1522.8a4.7 4.8 0 1 1 9.4 0a4.7 4.8 0 1 1 -9.4 0zM1795.3 1522.1a4.7 4.8 0 1 1 9.4 0a4.7 4.8 0 1 1 -9.4 0zM1804.9 1522.8a4.7 4.8 0 1 1 9.4 0a4.7 4.8 0 1 1 -9.4 0zM1813.3 1523.3a4.7 4.8 0 1 1 9.4 0a4.7 4.8 0 1 1 -9.4 0zM1821.8 1523.4a4.7 4.8 0 1 1 9.4 0a4.7 4.8 0 1 1 -9.4 0zM1830.3 1522.8a4.7 4.8 0 1 1 9.4 0a4.7 4.8 0 1 1 -9.4 0zM1838.4 1523.5a4.7 4.8 0 1 1 9.4 0a4.7 4.8 0 1 1 -9.4 0zM1845.3 1523.7a4.7 4.8 0 1 1 9.4 0a4.7 4.8 0 1 1 -9.4 0zM1853.1 1523.4a4.7 4.8 0 1 1 9.4 0a4.7 4.8 0 1 1 -9.4 0zM1861.3 1523.6a4.7 4.8 0 1 1 9.4 0a4.7 4.8 0 1 1 -9.4 0zM1867.4 1523.3a4.7 4.8 0 1 1 9.4 0a4.7 4.8 0 1 1 -9.4 0zM1875.3 1523.8a4.7 4.8 0 1 1 9.4 0a4.7 4.8 0 1 1 -9.4 0zM1885.8 1524.0a4.7 4.8 0 1 1 9.4 0a4.7 4.8 0 1 1 -9.4 0zM1892.3 1523.3a4.7 4.8 0 1 1 9.4 0a4.7 4.8 0 1 1 -9.4 0zM1901.8 1524.3a4.7 4.8 0 1 1 9.4 0a4.7 4.8 0 1 1 -9.4 0zM1907.3 1525.0a4.7 4.8 0 1 1 9.4 0a4.7 4.8 0 1 1 -9.4 0zM1917.7 1525.0a4.7 4.8 0 1 1 9.4 0a4.7 4.8 0 1 1 -9.4 0zM1925.3 1524.9a4.7 4.8 0 1 1 9.4 0a4.7 4.8 0 1 1 -9.4 0zM1933.6 1524.5a4.7 4.8 0 1 1 9.4 0a4.7 4.8 0 1 1 -9.4 0zM1940.3 1525.2a4.7 4.8 0 1 1 9.4 0a4.7 4.8 0 1 1 -9.4 0zM1947.1 1525.1a4.7 4.8 0 1 1 9.4 0a4.7 4.8 0 1 1 -9.4 0zM1955.3 1525.0a4.7 4.8 0 1 1 9.4 0a4.7 4.8 0 1 1 -9.4 0zM1963.2 1525.8a4.7 4.8 0 1 1 9.4 0a4.7 4.8 0 1 1 -9.4 0zM1973.3 1524.8a4.7 4.8 0 1 1 9.4 0a4.7 4.8 0 1 1 -9.4 0zM1979.5 1525.9a4.7 4.8 0 1 1 9.4 0a4.7 4.8 0 1 1 -9.4 0zM1987.3 1524.9a4.7 4.8 0 1 1 9.4 0a4.7 4.8 0 1 1 -9.4 0zM1994.6 1526.0a4.7 4.8 0 1 1 9.4 0a4.7 4.8 0 1 1 -9.4 0zM2005.3 1526.0a4.7 4.8 0 1 1 9.4 0a4.7 4.8 0 1 1 -9.4 0zM2013.9 1525.7a4.7 4.8 0 1 1 9.4 0a4.7 4.8 0 1 1 -9.4 0zM2020.3 1526.6a4.7 4.8 0 1 1 9.4 0a4.7 4.8 0 1 1 -9.4 0zM2027.4 1526.4a4.7 4.8 0 1 1 9.4 0a4.7 4.8 0 1 1 -9.4 0zM2035.3 1526.7a4.7 4.8 0 1 1 9.4 0a4.7 4.8 0 1 1 -9.4 0zM2044.2 1527.4a4.7 4.8 0 1 1 9.4 0a4.7 4.8 0 1 1 -9.4 0zM2050.3 1526.4a4.7 4.8 0 1 1 9.4 0a4.7 4.8 0 1 1 -9.4 0zM2057.3 1526.2a4.7 4.8 0 1 1 9.4 0a4.7 4.8 0 1 1 -9.4 0zM2065.3 1526.7a4.7 4.8 0 1 1 9.4 0a4.7 4.8 0 1 1 -9.4 0zM2074.6 1527.3a4.7 4.8 0 1 1 9.4 0a4.7 4.8 0 1 1 -9.4 0zM2080.3 1526.5a4.7 4.8 0 1 1 9.4 0a4.7 4.8 0 1 1 -9.4 0zM2093.3 1526.5a4.7 4.8 0 1 1 9.4 0a4.7 4.8 0 1 1 -9.4 0zM2100.3 1527.6a4.7 4.8 0 1 1 9.4 0a4.7 4.8 0 1 1 -9.4 0z"/>
<path fill="#000000" fill-rule="nonzero" d="M373.2 1456.7a7.8 9.9 0 1 1 15.6 0a7.8 9.9 0 1 1 -15.6 0zM376.3 1456.7a4.7 4.8 0 1 0 9.4 0a4.7 4.8 0 1 0 -9.4 0zM381.6 1456.0a7.8 9.9 0 1 1 15.6 0a7.8 9.9 0 1 1 -15.6 0zM384.7 1456.0a4.7 4.8 0 1 0 9.4 0a4.7 4.8 0 1 0 -9.4 0zM391.2 1457.0a7.8 9.9 0 1 1 15.6 0a7.8 9.9 0 1 1 -15.6 0zM394.3 1457.0a4.7 4.8 0 1 0 9.4 0a4.7 4.8 0 1 0 -9.4 0zM398.2 1458.7a7.8 9.9 0 1 1 15.6 0a7.8 9.9 0 1 1 -15.6 0zM401.3 1458.7a4.7 4.8 0 1 0 9.4 0a4.7 4.8 0 1 0 -9.4 0zM409.0 1458.8a7.8 9.9 0 1 1 15.6 0a7.8 9.9 0 1 1 -15.6 0zM412.1 1458.8a4.7 4.8 0 1 0 9.4 0a4.7 4.8 0 1 0 -9.4 0zM425.7 1460.9a7.8 9.9 0 1 1 15.6 0a7.8 9.9 0 1 1 -15.6 0zM428.8 1460.9a4.7 4.8 0 1 0 9.4 0a4.7 4.8 0 1 0 -9.4 0zM434.1 1460.6a7.8 9.9 0 1 1 15.6 0a7.8 9.9 0 1 1 -15.6 0zM437.2 1460.6a4.7 4.8 0 1 0 9.4 0a4.7 4.8 0 1 0 -9.4 0zM444.8 1460.9a7.8 9.9 0 1 1 15.6 0a7.8 9.9 0 1 1 -15.6 0zM447.9 1460.9a4.7 4.8 0 1 0 9.4 0a4.7 4.8 0 1 0 -9.4 0zM460.2 1462.9a7.8 9.9 0 1 1 15.6 0a7.8 9.9 0 1 1 -15.6 0zM463.3 1462.9a4.7 4.8 0 1 0 9.4 0a4.7 4.8 0 1 0 -9.4 0zM473.2 1464.1a7.8 9.9 0 1 1 15.6 0a7.8 9.9 0 1 1 -15.6 0zM476.3 1464.1a4.7 4.8 0 1 0 9.4 0a4.7 4.8 0 1 0 -9.4 0zM484.2 1464.2a7.8 9.9 0 1 1 15.6 0a7.8 9.9 0 1 1 -15.6 0zM487.3 1464.2a4.7 4.8 0 1 0 9.4 0a4.7 4.8 0 1 0 -9.4 0zM497.2 1464.8a7.8 9.9 0 1 1 15.6 0a7.8 9.9 0 1 1 -15.6 0zM500.3 1464.8a4.7 4.8 0 1 0 9.4 0a4.7 4.8 0 1 0 -9.4 0zM506.0 1465.9a7.8 9.9 0 1 1 15.6 0a7.8 9.9 0 1 1 -15.6 0zM509.1 1465.9a4.7 4.8 0 1 0 9.4 0a4.7 4.8 0 1 0 -9.4 0zM515.2 1467.6a7.8 9.9 0 1 1 15.6 0a7.8 9.9 0 1 1 -15.6 0zM518.3 1467.6a4.7 4.8 0 1 0 9.4 0a4.7 4.8 0 1 0 -9.4 0zM524.3 1468.0a7.8 9.9 0 1 1 15.6 0a7.8 9.9 0 1 1 -15.6 0zM527.4 1468.0a4.7 4.8 0 1 0 9.4 0a4.7 4.8 0 1 0 -9.4 0zM533.0 1467.5a7.8 9.9 0 1 1 15.6 0a7.8 9.9 0 1 1 -15.6 0zM536.1 1467.5a4.7 4.8 0 1 0 9.4 0a4.7 4.8 0 1 0 -9.4 0zM544.3 1468.2a7.8 9.9 0 1 1 15.6 0a7.8 9.9 0 1 1 -15.6 0zM547.4 1468.2a4.7 4.8 0 1 0 9.4 0a4.7 4.8 0 1 0 -9.4 0zM552.2 1468.3a7.8 9.9 0 1 1 15.6 0a7.8 9.9 0 1 1 -15.6 0zM555.3 1468.3a4.7 4.8 0 1 0 9.4 0a4.7 4.8 0 1 0 -9.4 0zM562.1 1468.6a7.8 9.9 0 1 1 15.6 0a7.8 9.9 0 1 1 -15.6 0zM565.2 1468.6a4.7 4.8 0 1 0 9.4 0a4.7 4.8 0 1 0 -9.4 0zM572.2 1470.2a7.8 9.9 0 1 1 15.6 0a7.8 9.9 0 1 1 -15.6 0zM575.3 1470.2a4.7 4.8 0 1 0 9.4 0a4.7 4.8 0 1 0 -9.4 0zM611.7 1470.9a7.8 9.9 0 1 1 15.6 0a7.8 9.9 0 1 1 -15.6 0zM614.8 1470.9a4.7 4.8 0 1 0 9.4 0a4.7 4.8 0 1 0 -9.4 0zM628.2 1472.2a7.8 9.9 0 1 1 15.6 0a7.8 9.9 0 1 1 -15.6 0zM631.3 1472.2a4.7 4.8 0 1 0 9.4 0a4.7 4.8 0 1 0 -9.4 0zM643.9 1472.7a7.8 9.9 0 1 1 15.6 0a7.8 9.9 0 1 1 -15.6 0zM647.0 1472.7a4.7 4.8 0 1 0 9.4 0a4.7 4.8 0 1 0 -9.4 0zM671.2 1473.4a7.8 9.9 0 1 1 15.6 0a7.8 9.9 0 1 1 -15.6 0zM674.3 1473.4a4.7 4.8 0 1 0 9.4 0a4.7 4.8 0 1 0 -9.4 0zM708.2 1476.0a7.8 9.9 0 1 1 15.6 0a7.8 9.9 0 1 1 -15.6 0zM711.3 1476.0a4.7 4.8 0 1 0 9.4 0a4.7 4.8 0 1 0 -9.4 0zM718.2 1475.5a7.8 9.9 0 1 1 15.6 0a7.8 9.9 0 1 1 -15.6 0zM721.3 1475.5a4.7 4.8 0 1 0 9.4 0a4.7 4.8 0 1 0 -9.4 0zM728.2 1476.8a7.8 9.9 0 1 1 15.6 0a7.8 9.9 0 1 1 -15.6 0zM731.3 1476.8a4.7 4.8 0 1 0 9.4 0a4.7 4.8 0 1 0 -9.4 0zM738.0 1476.4a7.8 9.9 0 1 1 15.6 0a7.8 9.9 0 1 1 -15.6 0zM741.1 1476.4a4.7 4.8 0 1 0 9.4 0a4.7 4.8 0 1 0 -9.4 0zM747.2 1477.3a7.8 9.9 0 1 1 15.6 0a7.8 9.9 0 1 1 -15.6 0zM750.3 1477.3a4.7 4.8 0 1 0 9.4 0a4.7 4.8 0 1 0 -9.4 0zM757.2 1477.4a7.8 9.9 0 1 1 15.6 0a7.8 9.9 0 1 1 -15.6 0zM760.3 1477.4a4.7 4.8 0 1 0 9.4 0a4.7 4.8 0 1 0 -9.4 0zM767.9 1478.0a7.8 9.9 0 1 1 15.6 0a7.8 9.9 0 1 1 -15.6 0zM771.0 1478.0a4.7 4.8 0 1 0 9.4 0a4.7 4.8 0 1 0 -9.4 0zM783.2 1479.9a7.8 9.9 0 1 1 15.6 0a7.8 9.9 0 1 1 -15.6 0zM786.3 1479.9a4.7 4.8 0 1 0 9.4 0a4.7 4.8 0 1 0 -9.4 0zM791.9 1480.5a7.8 9.9 0 1 1 15.6 0a7.8 9.9 0 1 1 -15.6 0zM795.0 1480.5a4.7 4.8 0 1 0 9.4 0a4.7 4.8 0 1 0 -9.4 0zM802.2 1480.4a7.8 9.9 0 1 1 15.6 0a7.8 9.9 0 1 1 -15.6 0zM805.3 1480.4a4.7 4.8 0 1 0 9.4 0a4.7 4.8 0 1 0 -9.4 0zM815.0 1482.1a7.8 9.9 0 1 1 15.6 0a7.8 9.9 0 1 1 -15.6 0zM818.1 1482.1a4.7 4.8 0 1 0 9.4 0a4.7 4.8 0 1 0 -9.4 0zM827.0 1481.9a7.8 9.9 0 1 1 15.6 0a7.8 9.9 0 1 1 -15.6 0zM830.1 1481.9a4.7 4.8 0 1 0 9.4 0a4.7 4.8 0 1 0 -9.4 0zM840.8 1483.1a7.8 9.9 0 1 1 15.6 0a7.8 9.9 0 1 1 -15.6 0zM843.9 1483.1a4.7 4.8 0 1 0 9.4 0a4.7 4.8 0 1 0 -9.4 0zM854.5 1484.7a7.8 9.9 0 1 1 15.6 0a7.8 9.9 0 1 1 -15.6 0zM857.6 1484.7a4.7 4.8 0 1 0 9.4 0a4.7 4.8 0 1 0 -9.4 0zM867.6 1485.3a7.8 9.9 0 1 1 15.6 0a7.8 9.9 0 1 1 -15.6 0zM870.7 1485.3a4.7 4.8 0 1 0 9.4 0a4.7 4.8 0 1 0 -9.4 0zM881.9 1485.3a7.8 9.9 0 1 1 15.6 0a7.8 9.9 0 1 1 -15.6 0zM885.0 1485.3a4.7 4.8 0 1 0 9.4 0a4.7 4.8 0 1 0 -9.4 0zM893.4 1487.3a7.8 9.9 0 1 1 15.6 0a7.8 9.9 0 1 1 -15.6 0zM896.5 1487.3a4.7 4.8 0 1 0 9.4 0a4.7 4.8 0 1 0 -9.4 0zM903.8 1486.5a7.8 9.9 0 1 1 15.6 0a7.8 9.9 0 1 1 -15.6 0zM906.9 1486.5a4.7 4.8 0 1 0 9.4 0a4.7 4.8 0 1 0 -9.4 0zM915.9 1487.2a7.8 9.9 0 1 1 15.6 0a7.8 9.9 0 1 1 -15.6 0zM919.0 1487.2a4.7 4.8 0 1 0 9.4 0a4.7 4.8 0 1 0 -9.4 0zM925.7 1488.4a7.8 9.9 0 1 1 15.6 0a7.8 9.9 0 1 1 -15.6 0zM928.8 1488.4a4.7 4.8 0 1 0 9.4 0a4.7 4.8 0 1 0 -9.4 0zM938.9 1488.3a7.8 9.9 0 1 1 15.6 0a7.8 9.9 0 1 1 -15.6 0zM942.0 1488.3a4.7 4.8 0 1 0 9.4 0a4.7 4.8 0 1 0 -9.4 0zM949.3 1488.8a7.8 9.9 0 1 1 15.6 0a7.8 9.9 0 1 1 -15.6 0zM952.4 1488.8a4.7 4.8 0 1 0 9.4 0a4.7 4.8 0 1 0 -9.4 0zM963.0 1489.0a7.8 9.9 0 1 1 15.6 0a7.8 9.9 0 1 1 -15.6 0zM966.1 1489.0a4.7 4.8 0 1 0 9.4 0a4.7 4.8 0 1 0 -9.4 0zM977.2 1489.7a7.8 9.9 0 1 1 15.6 0a7.8 9.9 0 1 1 -15.6 0zM980.3 1489.7a4.7 4.8 0 1 0 9.4 0a4.7 4.8 0 1 0 -9.4 0zM982.8 1490.7a7.8 9.9 0 1 1 15.6 0a7.8 9.9 0 1 1 -15.6 0zM985.9 1490.7a4.7 4.8 0 1 0 9.4 0a4.7 4.8 0 1 0 -9.4 0zM995.9 1490.8a7.8 9.9 0 1 1 15.6 0a7.8 9.9 0 1 1 -15.6 0zM999.0 1490.8a4.7 4.8 0 1 0 9.4 0a4.7 4.8 0 1 0 -9.4 0zM1009.1 1492.0a7.8 9.9 0 1 1 15.6 0a7.8 9.9 0 1 1 -15.6 0zM1012.2 1492.0a4.7 4.8 0 1 0 9.4 0a4.7 4.8 0 1 0 -9.4 0zM1023.2 1492.2a7.8 9.9 0 1 1 15.6 0a7.8 9.9 0 1 1 -15.6 0zM1026.3 1492.2a4.7 4.8 0 1 0 9.4 0a4.7 4.8 0 1 0 -9.4 0zM1039.8 1493.1a7.8 9.9 0 1 1 15.6 0a7.8 9.9 0 1 1 -15.6 0zM1042.9 1493.1a4.7 4.8 0 1 0 9.4 0a4.7 4.8 0 1 0 -9.4 0zM1047.2 1494.3a7.8 9.9 0 1 1 15.6 0a7.8 9.9 0 1 1 -15.6 0zM1050.3 1494.3a4.7 4.8 0 1 0 9.4 0a4.7 4.8 0 1 0 -9.4 0zM1057.2 1494.0a7.8 9.9 0 1 1 15.6 0a7.8 9.9 0 1 1 -15.6 0zM1060.3 1494.0a4.7 4.8 0 1 0 9.4 0a4.7 4.8 0 1 0 -9.4 0zM1070.2 1494.7a7.8 9.9 0 1 1 15.6 0a7.8 9.9 0 1 1 -15.6 0zM1073.3 1494.7a4.7 4.8 0 1 0 9.4 0a4.7 4.8 0 1 0 -9.4 0zM1085.9 1495.9a7.8 9.9 0 1 1 15.6 0a7.8 9.9 0 1 1 -15.6 0zM1089.0 1495.9a4.7 4.8 0 1 0 9.4 0a4.7 4.8 0 1 0 -9.4 0zM1096.8 1495.3a7.8 9.9 0 1 1 15.6 0a7.8 9.9 0 1 1 -15.6 0zM1099.9 1495.3a4.7 4.8 0 1 0 9.4 0a4.7 4.8 0 1 0 -9.4 0zM1112.2 1495.7a7.8 9.9 0 1 1 15.6 0a7.8 9.9 0 1 1 -15.6 0zM1115.3 1495.7a4.7 4.8 0 1 0 9.4 0a4.7 4.8 0 1 0 -9.4 0zM1135.2 1497.6a7.8 9.9 0 1 1 15.6 0a7.8 9.9 0 1 1 -15.6 0zM1138.3 1497.6a4.7 4.8 0 1 0 9.4 0a4.7 4.8 0 1 0 -9.4 0zM1157.2 1498.0a7.8 9.9 0 1 1 15.6 0a7.8 9.9 0 1 1 -15.6 0zM1160.3 1498.0a4.7 4.8 0 1 0 9.4 0a4.7 4.8 0 1 0 -9.4 0zM1169.2 1497.5a7.8 9.9 0 1 1 15.6 0a7.8 9.9 0 1 1 -15.6 0zM1172.3 1497.5a4.7 4.8 0 1 0 9.4 0a4.7 4.8 0 1 0 -9.4 0zM1180.2 1497.7a7.8 9.9 0 1 1 15.6 0a7.8 9.9 0 1 1 -15.6 0zM1183.3 1497.7a4.7 4.8 0 1 0 9.4 0a4.7 4.8 0 1 0 -9.4 0zM1191.2 1498.8a7.8 9.9 0 1 1 15.6 0a7.8 9.9 0 1 1 -15.6 0zM1194.3 1498.8a4.7 4.8 0 1 0 9.4 0a4.7 4.8 0 1 0 -9.4 0zM1202.2 1499.5a7.8 9.9 0 1 1 15.6 0a7.8 9.9 0 1 1 -15.6 0zM1205.3 1499.5a4.7 4.8 0 1 0 9.4 0a4.7 4.8 0 1 0 -9.4 0zM1217.2 1498.7a7.8 9.9 0 1 1 15.6 0a7.8 9.9 0 1 1 -15.6 0zM1220.3 1498.7a4.7 4.8 0 1 0 9.4 0a4.7 4.8 0 1 0 -9.4 0zM1233.2 1500.3a7.8 9.9 0 1 1 15.6 0a7.8 9.9 0 1 1 -15.6 0zM1236.3 1500.3a4.7 4.8 0 1 0 9.4 0a4.7 4.8 0 1 0 -9.4 0zM1241.9 1500.4a7.8 9.9 0 1 1 15.6 0a7.8 9.9 0 1 1 -15.6 0zM1245.0 1500.4a4.7 4.8 0 1 0 9.4 0a4.7 4.8 0 1 0 -9.4 0zM1252.2 1500.2a7.8 9.9 0 1 1 15.6 0a7.8 9.9 0 1 1 -15.6 0zM1255.3 1500.2a4.7 4.8 0 1 0 9.4 0a4.7 4.8 0 1 0 -9.4 0zM1267.2 1500.3a7.8 9.9 0 1 1 15.6 0a7.8 9.9 0 1 1 -15.6 0zM1270.3 1500.3a4.7 4.8 0 1 0 9.4 0a4.7 4.8 0 1 0 -9.4 0zM1282.2 1500.1a7.8 9.9 0 1 1 15.6 0a7.8 9.9 0 1 1 -15.6 0zM1285.3 1500.1a4.7 4.8 0 1 0 9.4 0a4.7 4.8 0 1 0 -9.4 0zM1296.2 1500.4a7.8 9.9 0 1 1 15.6 0a7.8 9.9 0 1 1 -15.6 0zM1299.3 1500.4a4.7 4.8 0 1 0 9.4 0a4.7 4.8 0 1 0 -9.4 0zM1312.2 1502.5a7.8 9.9 0 1 1 15.6 0a7.8 9.9 0 1 1 -15.6 0zM1315.3 1502.5a4.7 4.8 0 1 0 9.4 0a4.7 4.8 0 1 0 -9.4 0zM1328.2 1502.0a7.8 9.9 0 1 1 15.6 0a7.8 9.9 0 1 1 -15.6 0zM1331.3 1502.0a4.7 4.8 0 1 0 9.4 0a4.7 4.8 0 1 0 -9.4 0zM1344.2 1503.4a7.8 9.9 0 1 1 15.6 0a7.8 9.9 0 1 1 -15.6 0zM1347.3 1503.4a4.7 4.8 0 1 0 9.4 0a4.7 4.8 0 1 0 -9.4 0zM1351.6 1503.0a7.8 9.9 0 1 1 15.6 0a7.8 9.9 0 1 1 -15.6 0zM1354.7 1503.0a4.7 4.8 0 1 0 9.4 0a4.7 4.8 0 1 0 -9.4 0zM1362.2 1504.3a7.8 9.9 0 1 1 15.6 0a7.8 9.9 0 1 1 -15.6 0zM1365.3 1504.3a4.7 4.8 0 1 0 9.4 0a4.7 4.8 0 1 0 -9.4 0zM1374.2 1504.4a7.8 9.9 0 1 1 15.6 0a7.8 9.9 0 1 1 -15.6 0zM1377.3 1504.4a4.7 4.8 0 1 0 9.4 0a4.7 4.8 0 1 0 -9.4 0zM1387.4 1504.5a7.8 9.9 0 1 1 15.6 0a7.8 9.9 0 1 1 -15.6 0zM1390.5 1504.5a4.7 4.8 0 1 0 9.4 0a4.7 4.8 0 1 0 -9.4 0zM1398.2 1504.7a7.8 9.9 0 1 1 15.6 0a7.8 9.9 0 1 1 -15.6 0zM1401.3 1504.7a4.7 4.8 0 1 0 9.4 0a4.7 4.8 0 1 0 -9.4 0zM1406.0 1505.9a7.8 9.9 0 1 1 15.6 0a7.8 9.9 0 1 1 -15.6 0zM1409.1 1505.9a4.7 4.8 0 1 0 9.4 0a4.7 4.8 0 1 0 -9.4 0zM1412.2 1505.1a7.8 9.9 0 1 1 15.6 0a7.8 9.9 0 1 1 -15.6 0zM1415.3 1505.1a4.7 4.8 0 1 0 9.4 0a4.7 4.8 0 1 0 -9.4 0zM1425.2 1505.9a7.8 9.9 0 1 1 15.6 0a7.8 9.9 0 1 1 -15.6 0zM1428.3 1505.9a4.7 4.8 0 1 0 9.4 0a4.7 4.8 0 1 0 -9.4 0zM1430.9 1506.6a7.8 9.9 0 1 1 15.6 0a7.8 9.9 0 1 1 -15.6 0zM1434.0 1506.6a4.7 4.8 0 1 0 9.4 0a4.7 4.8 0 1 0 -9.4 0zM1440.2 1507.5a7.8 9.9 0 1 1 15.6 0a7.8 9.9 0 1 1 -15.6 0zM1443.3 1507.5a4.7 4.8 0 1 0 9.4 0a4.7 4.8 0 1 0 -9.4 0zM1450.2 1507.5a7.8 9.9 0 1 1 15.6 0a7.8 9.9 0 1 1 -15.6 0zM1453.3 1507.5a4.7 4.8 0 1 0 9.4 0a4.7 4.8 0 1 0 -9.4 0zM1462.2 1507.4a7.8 9.9 0 1 1 15.6 0a7.8 9.9 0 1 1 -15.6 0zM1465.3 1507.4a4.7 4.8 0 1 0 9.4 0a4.7 4.8 0 1 0 -9.4 0zM1471.1 1508.8a7.8 9.9 0 1 1 15.6 0a7.8 9.9 0 1 1 -15.6 0zM1474.2 1508.8a4.7 4.8 0 1 0 9.4 0a4.7 4.8 0 1 0 -9.4 0zM1476.2 1507.9a7.8 9.9 0 1 1 15.6 0a7.8 9.9 0 1 1 -15.6 0zM1479.3 1507.9a4.7 4.8 0 1 0 9.4 0a4.7 4.8 0 1 0 -9.4 0zM1487.1 1508.0a7.8 9.9 0 1 1 15.6 0a7.8 9.9 0 1 1 -15.6 0zM1490.2 1508.0a4.7 4.8 0 1 0 9.4 0a4.7 4.8 0 1 0 -9.4 0zM1494.2 1508.7a7.8 9.9 0 1 1 15.6 0a7.8 9.9 0 1 1 -15.6 0zM1497.3 1508.7a4.7 4.8 0 1 0 9.4 0a4.7 4.8 0 1 0 -9.4 0zM1506.2 1509.5a7.8 9.9 0 1 1 15.6 0a7.8 9.9 0 1 1 -15.6 0zM1509.3 1509.5a4.7 4.8 0 1 0 9.4 0a4.7 4.8 0 1 0 -9.4 0zM1514.8 1509.2a7.8 9.9 0 1 1 15.6 0a7.8 9.9 0 1 1 -15.6 0zM1517.9 1509.2a4.7 4.8 0 1 0 9.4 0a4.7 4.8 0 1 0 -9.4 0zM1522.2 1509.7a7.8 9.9 0 1 1 15.6 0a7.8 9.9 0 1 1 -15.6 0zM1525.3 1509.7a4.7 4.8 0 1 0 9.4 0a4.7 4.8 0 1 0 -9.4 0zM1532.2 1510.5a7.8 9.9 0 1 1 15.6 0a7.8 9.9 0 1 1 -15.6 0zM1535.3 1510.5a4.7 4.8 0 1 0 9.4 0a4.7 4.8 0 1 0 -9.4 0zM1541.7 1511.2a7.8 9.9 0 1 1 15.6 0a7.8 9.9 0 1 1 -15.6 0zM1544.8 1511.2a4.7 4.8 0 1 0 9.4 0a4.7 4.8 0 1 0 -9.4 0zM1550.2 1510.8a7.8 9.9 0 1 1 15.6 0a7.8 9.9 0 1 1 -15.6 0zM1553.3 1510.8a4.7 4.8 0 1 0 9.4 0a4.7 4.8 0 1 0 -9.4 0zM1562.2 1512.3a7.8 9.9 0 1 1 15.6 0a7.8 9.9 0 1 1 -15.6 0zM1565.3 1512.3a4.7 4.8 0 1 0 9.4 0a4.7 4.8 0 1 0 -9.4 0zM1568.1 1513.7a7.8 9.9 0 1 1 15.6 0a7.8 9.9 0 1 1 -15.6 0zM1571.2 1513.7a4.7 4.8 0 1 0 9.4 0a4.7 4.8 0 1 0 -9.4 0zM1576.7 1514.7a7.8 9.9 0 1 1 15.6 0a7.8 9.9 0 1 1 -15.6 0zM1579.8 1514.7a4.7 4.8 0 1 0 9.4 0a4.7 4.8 0 1 0 -9.4 0zM1586.7 1515.2a7.8 9.9 0 1 1 15.6 0a7.8 9.9 0 1 1 -15.6 0zM1589.8 1515.2a4.7 4.8 0 1 0 9.4 0a4.7 4.8 0 1 0 -9.4 0zM1595.5 1516.0a7.8 9.9 0 1 1 15.6 0a7.8 9.9 0 1 1 -15.6 0zM1598.6 1516.0a4.7 4.8 0 1 0 9.4 0a4.7 4.8 0 1 0 -9.4 0zM1608.2 1516.4a7.8 9.9 0 1 1 15.6 0a7.8 9.9 0 1 1 -15.6 0zM1611.3 1516.4a4.7 4.8 0 1 0 9.4 0a4.7 4.8 0 1 0 -9.4 0zM1619.2 1516.3a7.8 9.9 0 1 1 15.6 0a7.8 9.9 0 1 1 -15.6 0zM1622.3 1516.3a4.7 4.8 0 1 0 9.4 0a4.7 4.8 0 1 0 -9.4 0zM1628.3 1516.5a7.8 9.9 0 1 1 15.6 0a7.8 9.9 0 1 1 -15.6 0zM1631.4 1516.5a4.7 4.8 0 1 0 9.4 0a4.7 4.8 0 1 0 -9.4 0zM1637.2 1516.7a7.8 9.9 0 1 1 15.6 0a7.8 9.9 0 1 1 -15.6 0zM1640.3 1516.7a4.7 4.8 0 1 0 9.4 0a4.7 4.8 0 1 0 -9.4 0zM1644.9 1518.4a7.8 9.9 0 1 1 15.6 0a7.8 9.9 0 1 1 -15.6 0zM1648.0 1518.4a4.7 4.8 0 1 0 9.4 0a4.7 4.8 0 1 0 -9.4 0zM1656.2 1518.5a7.8 9.9 0 1 1 15.6 0a7.8 9.9 0 1 1 -15.6 0zM1659.3 1518.5a4.7 4.8 0 1 0 9.4 0a4.7 4.8 0 1 0 -9.4 0zM1666.0 1519.3a7.8 9.9 0 1 1 15.6 0a7.8 9.9 0 1 1 -15.6 0zM1669.1 1519.3a4.7 4.8 0 1 0 9.4 0a4.7 4.8 0 1 0 -9.4 0zM1678.2 1518.2a7.8 9.9 0 1 1 15.6 0a7.8 9.9 0 1 1 -15.6 0zM1681.3 1518.2a4.7 4.8 0 1 0 9.4 0a4.7 4.8 0 1 0 -9.4 0zM1688.2 1519.6a7.8 9.9 0 1 1 15.6 0a7.8 9.9 0 1 1 -15.6 0zM1691.3 1519.6a4.7 4.8 0 1 0 9.4 0a4.7 4.8 0 1 0 -9.4 0zM1695.2 1519.6a7.8 9.9 0 1 1 15.6 0a7.8 9.9 0 1 1 -15.6 0zM1698.3 1519.6a4.7 4.8 0 1 0 9.4 0a4.7 4.8 0 1 0 -9.4 0zM1704.2 1520.4a7.8 9.9 0 1 1 15.6 0a7.8 9.9 0 1 1 -15.6 0zM1707.3 1520.4a4.7 4.8 0 1 0 9.4 0a4.7 4.8 0 1 0 -9.4 0zM1709.3 1519.9a7.8 9.9 0 1 1 15.6 0a7.8 9.9 0 1 1 -15.6 0zM1712.4 1519.9a4.7 4.8 0 1 0 9.4 0a4.7 4.8 0 1 0 -9.4 0zM1718.2 1521.4a7.8 9.9 0 1 1 15.6 0a7.8 9.9 0 1 1 -15.6 0zM1721.3 1521.4a4.7 4.8 0 1 0 9.4 0a4.7 4.8 0 1 0 -9.4 0zM1725.1 1520.2a7.8 9.9 0 1 1 15.6 0a7.8 9.9 0 1 1 -15.6 0zM1728.2 1520.2a4.7 4.8 0 1 0 9.4 0a4.7 4.8 0 1 0 -9.4 0zM1732.2 1521.2a7.8 9.9 0 1 1 15.6 0a7.8 9.9 0 1 1 -15.6 0zM1735.3 1521.2a4.7 4.8 0 1 0 9.4 0a4.7 4.8 0 1 0 -9.4 0zM1739.5 1521.8a7.8 9.9 0 1 1 15.6 0a7.8 9.9 0 1 1 -15.6 0zM1742.6 1521.8a4.7 4.8 0 1 0 9.4 0a4.7 4.8 0 1 0 -9.4 0zM1747.2 1522.2a7.8 9.9 0 1 1 15.6 0a7.8 9.9 0 1 1 -15.6 0zM1750.3 1522.2a4.7 4.8 0 1 0 9.4 0a4.7 4.8 0 1 0 -9.4 0zM1756.1 1522.1a7.8 9.9 0 1 1 15.6 0a7.8 9.9 0 1 1 -15.6 0zM1759.2 1522.1a4.7 4.8 0 1 0 9.4 0a4.7 4.8 0 1 0 -9.4 0zM1762.2 1522.2a7.8 9.9 0 1 1 15.6 0a7.8 9.9 0 1 1 -15.6 0zM1765.3 1522.2a4.7 4.8 0 1 0 9.4 0a4.7 4.8 0 1 0 -9.4 0zM1771.3 1522.5a7.8 9.9 0 1 1 15.6 0a7.8 9.9 0 1 1 -15.6 0zM1774.4 1522.5a4.7 4.8 0 1 0 9.4 0a4.7 4.8 0 1 0 -9.4 0zM1780.2 1522.8a7.8 9.9 0 1 1 15.6 0a7.8 9.9 0 1 1 -15.6 0zM1783.3 1522.8a4.7 4.8 0 1 0 9.4 0a4.7 4.8 0 1 0 -9.4 0zM1792.2 1522.1a7.8 9.9 0 1 1 15.6 0a7.8 9.9 0 1 1 -15.6 0zM1795.3 1522.1a4.7 4.8 0 1 0 9.4 0a4.7 4.8 0 1 0 -9.4 0zM1801.8 1522.8a7.8 9.9 0 1 1 15.6 0a7.8 9.9 0 1 1 -15.6 0zM1804.9 1522.8a4.7 4.8 0 1 0 9.4 0a4.7 4.8 0 1 0 -9.4 0zM1810.2 1523.3a7.8 9.9 0 1 1 15.6 0a7.8 9.9 0 1 1 -15.6 0zM1813.3 1523.3a4.7 4.8 0 1 0 9.4 0a4.7 4.8 0 1 0 -9.4 0zM1818.7 1523.4a7.8 9.9 0 1 1 15.6 0a7.8 9.9 0 1 1 -15.6 0zM1821.8 1523.4a4.7 4.8 0 1 0 9.4 0a4.7 4.8 0 1 0 -9.4 0zM1827.2 1522.8a7.8 9.9 0 1 1 15.6 0a7.8 9.9 0 1 1 -15.6 0zM1830.3 1522.8a4.7 4.8 0 1 0 9.4 0a4.7 4.8 0 1 0 -9.4 0zM1835.3 1523.5a7.8 9.9 0 1 1 15.6 0a7.8 9.9 0 1 1 -15.6 0zM1838.4 1523.5a4.7 4.8 0 1 0 9.4 0a4.7 4.8 0 1 0 -9.4 0zM1842.2 1523.7a7.8 9.9 0 1 1 15.6 0a7.8 9.9 0 1 1 -15.6 0zM1845.3 1523.7a4.7 4.8 0 1 0 9.4 0a4.7 4.8 0 1 0 -9.4 0zM1850.0 1523.4a7.8 9.9 0 1 1 15.6 0a7.8 9.9 0 1 1 -15.6 0zM1853.1 1523.4a4.7 4.8 0 1 0 9.4 0a4.7 4.8 0 1 0 -9.4 0zM1858.2 1523.6a7.8 9.9 0 1 1 15.6 0a7.8 9.9 0 1 1 -15.6 0zM1861.3 1523.6a4.7 4.8 0 1 0 9.4 0a4.7 4.8 0 1 0 -9.4 0zM1864.3 1523.3a7.8 9.9 0 1 1 15.6 0a7.8 9.9 0 1 1 -15.6 0zM1867.4 1523.3a4.7 4.8 0 1 0 9.4 0a4.7 4.8 0 1 0 -9.4 0zM1872.2 1523.8a7.8 9.9 0 1 1 15.6 0a7.8 9.9 0 1 1 -15.6 0zM1875.3 1523.8a4.7 4.8 0 1 0 9.4 0a4.7 4.8 0 1 0 -9.4 0zM1882.7 1524.0a7.8 9.9 0 1 1 15.6 0a7.8 9.9 0 1 1 -15.6 0zM1885.8 1524.0a4.7 4.8 0 1 0 9.4 0a4.7 4.8 0 1 0 -9.4 0zM1889.2 1523.3a7.8 9.9 0 1 1 15.6 0a7.8 9.9 0 1 1 -15.6 0zM1892.3 1523.3a4.7 4.8 0 1 0 9.4 0a4.7 4.8 0 1 0 -9.4 0zM1898.7 1524.3a7.8 9.9 0 1 1 15.6 0a7.8 9.9 0 1 1 -15.6 0zM1901.8 1524.3a4.7 4.8 0 1 0 9.4 0a4.7 4.8 0 1 0 -9.4 0zM1904.2 1525.0a7.8 9.9 0 1 1 15.6 0a7.8 9.9 0 1 1 -15.6 0zM1907.3 1525.0a4.7 4.8 0 1 0 9.4 0a4.7 4.8 0 1 0 -9.4 0zM1914.6 1525.0a7.8 9.9 0 1 1 15.6 0a7.8 9.9 0 1 1 -15.6 0zM1917.7 1525.0a4.7 4.8 0 1 0 9.4 0a4.7 4.8 0 1 0 -9.4 0zM1922.2 1524.9a7.8 9.9 0 1 1 15.6 0a7.8 9.9 0 1 1 -15.6 0zM1925.3 1524.9a4.7 4.8 0 1 0 9.4 0a4.7 4.8 0 1 0 -9.4 0zM1930.5 1524.5a7.8 9.9 0 1 1 15.6 0a7.8 9.9 0 1 1 -15.6 0zM1933.6 1524.5a4.7 4.8 0 1 0 9.4 0a4.7 4.8 0 1 0 -9.4 0zM1937.2 1525.2a7.8 9.9 0 1 1 15.6 0a7.8 9.9 0 1 1 -15.6 0zM1940.3 1525.2a4.7 4.8 0 1 0 9.4 0a4.7 4.8 0 1 0 -9.4 0zM1944.0 1525.1a7.8 9.9 0 1 1 15.6 0a7.8 9.9 0 1 1 -15.6 0zM1947.1 1525.1a4.7 4.8 0 1 0 9.4 0a4.7 4.8 0 1 0 -9.4 0zM1952.2 1525.0a7.8 9.9 0 1 1 15.6 0a7.8 9.9 0 1 1 -15.6 0zM1955.3 1525.0a4.7 4.8 0 1 0 9.4 0a4.7 4.8 0 1 0 -9.4 0zM1960.1 1525.8a7.8 9.9 0 1 1 15.6 0a7.8 9.9 0 1 1 -15.6 0zM1963.2 1525.8a4.7 4.8 0 1 0 9.4 0a4.7 4.8 0 1 0 -9.4 0zM1970.2 1524.8a7.8 9.9 0 1 1 15.6 0a7.8 9.9 0 1 1 -15.6 0zM1973.3 1524.8a4.7 4.8 0 1 0 9.4 0a4.7 4.8 0 1 0 -9.4 0zM1976.4 1525.9a7.8 9.9 0 1 1 15.6 0a7.8 9.9 0 1 1 -15.6 0zM1979.5 1525.9a4.7 4.8 0 1 0 9.4 0a4.7 4.8 0 1 0 -9.4 0zM1984.2 1524.9a7.8 9.9 0 1 1 15.6 0a7.8 9.9 0 1 1 -15.6 0zM1987.3 1524.9a4.7 4.8 0 1 0 9.4 0a4.7 4.8 0 1 0 -9.4 0zM1991.5 1526.0a7.8 9.9 0 1 1 15.6 0a7.8 9.9 0 1 1 -15.6 0zM1994.6 1526.0a4.7 4.8 0 1 0 9.4 0a4.7 4.8 0 1 0 -9.4 0zM2002.2 1526.0a7.8 9.9 0 1 1 15.6 0a7.8 9.9 0 1 1 -15.6 0zM2005.3 1526.0a4.7 4.8 0 1 0 9.4 0a4.7 4.8 0 1 0 -9.4 0zM2010.8 1525.7a7.8 9.9 0 1 1 15.6 0a7.8 9.9 0 1 1 -15.6 0zM2013.9 1525.7a4.7 4.8 0 1 0 9.4 0a4.7 4.8 0 1 0 -9.4 0zM2017.2 1526.6a7.8 9.9 0 1 1 15.6 0a7.8 9.9 0 1 1 -15.6 0zM2020.3 1526.6a4.7 4.8 0 1 0 9.4 0a4.7 4.8 0 1 0 -9.4 0zM2024.3 1526.4a7.8 9.9 0 1 1 15.6 0a7.8 9.9 0 1 1 -15.6 0zM2027.4 1526.4a4.7 4.8 0 1 0 9.4 0a4.7 4.8 0 1 0 -9.4 0zM2032.2 1526.7a7.8 9.9 0 1 1 15.6 0a7.8 9.9 0 1 1 -15.6 0zM2035.3 1526.7a4.7 4.8 0 1 0 9.4 0a4.7 4.8 0 1 0 -9.4 0zM2041.1 1527.4a7.8 9.9 0 1 1 15.6 0a7.8 9.9 0 1 1 -15.6 0zM2044.2 1527.4a4.7 4.8 0 1 0 9.4 0a4.7 4.8 0 1 0 -9.4 0zM2047.2 1526.4a7.8 9.9 0 1 1 15.6 0a7.8 9.9 0 1 1 -15.6 0zM2050.3 1526.4a4.7 4.8 0 1 0 9.4 0a4.7 4.8 0 1 0 -9.4 0zM2054.2 1526.2a7.8 9.9 0 1 1 15.6 0a7.8 9.9 0 1 1 -15.6 0zM2057.3 1526.2a4.7 4.8 0 1 0 9.4 0a4.7 4.8 0 1 0 -9.4 0zM2062.2 1526.7a7.8 9.9 0 1 1 15.6 0a7.8 9.9 0 1 1 -15.6 0zM2065.3 1526.7a4.7 4.8 0 1 0 9.4 0a4.7 4.8 0 1 0 -9.4 0zM2071.5 1527.3a7.8 9.9 0 1 1 15.6 0a7.8 9.9 0 1 1 -15.6 0zM2074.6 1527.3a4.7 4.8 0 1 0 9.4 0a4.7 4.8 0 1 0 -9.4 0zM2077.2 1526.5a7.8 9.9 0 1 1 15.6 0a7.8 9.9 0 1 1 -15.6 0zM2080.3 1526.5a4.7 4.8 0 1 0 9.4 0a4.7 4.8 0 1 0 -9.4 0zM2090.2 1526.5a7.8 9.9 0 1 1 15.6 0a7.8 9.9 0 1 1 -15.6 0zM2093.3 1526.5a4.7 4.8 0 1 0 9.4 0a4.7 4.8 0 1 0 -9.4 0zM2097.2 1527.6a7.8 9.9 0 1 1 15.6 0a7.8 9.9 0 1 1 -15.6 0zM2100.3 1527.6a4.7 4.8 0 1 0 9.4 0a4.7 4.8 0 1 0 -9.4 0z"/>
<path d="M368.6 186.7L370.8 190.6L374.0 191.0L379.9 189.4L385.1 191.5L389.4 193.4L391.6 197.1L399.3 196.9L402.0 201.9L408.9 204.9L411.0 210.4L414.0 211.4L420.9 209.3L422.9 212.4L429.3 215.8L433.2 220.6L438.1 221.1L442.1 218.2L444.5 224.0L450.2 222.5L454.8 227.3L456.6 232.1L464.5 232.7L467.8 238.1L469.1 245.6L472.2 252.0L476.4 248.3L483.7 247.7L489.2 248.0L502.6 256.6L515.3 268.0L530.8 274.4L538.7 278.8L546.3 283.7L557.7 290.7L569.9 298.2L579.1 304.4L588.3 305.2L601.5 308.6L608.8 314.6L619.7 318.0L633.9 325.0L642.7 330.2L642.1 340.3L648.7 350.8L654.3 353.9L665.0 356.9L673.4 361.1L683.8 365.3L695.9 369.6L706.4 366.7L717.6 369.8L719.7 382.4L728.9 385.1L741.3 393.1L746.8 404.0L763.2 406.9L769.9 413.5L780.7 422.1L790.3 429.5L795.2 438.3L812.4 440.9L817.5 451.4L826.3 457.4L838.0 463.6L843.0 474.5L851.1 481.2L860.5 485.3L869.6 496.6L883.6 502.6L890.1 511.3L896.2 521.7L905.1 526.7L913.5 534.1L915.8 544.8L924.8 555.6L934.7 564.3L943.5 568.8L953.7 568.5L955.5 581.6L959.2 591.2L970.8 596.3L982.9 606.4L987.7 615.1L995.7 626.4L1003.9 640.9L1008.7 651.0L1020.0 675.0L1028.0 688.0L1033.0 698.0L1042.0 710.0L1051.0 721.0L1060.0 735.0L1072.0 745.0L1076.0 760.0L1088.0 771.0L1090.0 786.0L1100.0 797.0L1107.0 813.0L1112.0 827.0L1122.0 844.0L1124.0 860.0L1131.0 881.0L1143.0 889.0L1145.0 910.0L1152.0 927.0L1162.0 951.0L1168.0 966.0L1175.0 988.0L1180.0 1011.0L1190.0 1030.0L1198.0 1049.0L1204.0 1071.0L1213.0 1092.0L1220.0 1112.0L1226.0 1133.0L1232.0 1158.0L1242.0 1171.0L1248.0 1193.0L1256.0 1210.0L1263.0 1225.0L1270.0 1245.0L1278.0 1262.0L1292.0 1277.0L1298.0 1288.0L1304.4 1300.2L1313.2 1314.7L1321.5 1325.8L1325.2 1336.6L1334.3 1341.0L1344.4 1347.5L1353.0 1356.7L1363.8 1367.4L1371.5 1373.5L1378.4 1380.9L1390.8 1391.8L1396.8 1398.1L1411.5 1399.6L1424.3 1405.3L1433.1 1415.1L1444.5 1423.7L1457.2 1430.1L1471.3 1428.9L1476.5 1436.4L1489.1 1439.2L1509.0 1448.8L1516.3 1448.3L1527.2 1450.0L1533.7 1457.1L1538.7 1456.3L1548.3 1456.4L1553.0 1463.0L1560.3 1466.0L1566.1 1464.4L1570.4 1467.2L1581.1 1471.3L1591.2 1472.8L1601.3 1473.6L1606.3 1479.1L1616.0 1481.0L1620.7 1482.1L1625.9 1484.4L1635.5 1487.7L1645.4 1494.1L1650.4 1492.1L1658.6 1492.0L1664.5 1498.9L1669.7 1498.4L1674.5 1499.7L1685.8 1500.6L1689.9 1500.8L1698.1 1502.3L1702.0 1506.2L1713.1 1508.7L1719.9 1511.2L1724.7 1511.3L1730.0 1512.0L1742.0 1510.6L1749.8 1515.2L1755.2 1513.8L1766.6 1519.6L1771.7 1518.4L1783.6 1517.0L1792.4 1516.5L1799.1 1520.6L1807.8 1521.6L1814.6 1520.4L1818.8 1521.1L1826.7 1521.0L1830.7 1520.8L1835.7 1520.4L1844.3 1522.4L1847.6 1522.2L1854.3 1521.2L1858.9 1522.0L1864.7 1522.2L1871.7 1521.1L1879.3 1523.2L1888.1 1522.3L1891.4 1520.8L1895.2 1523.1L1900.0 1521.7L1908.4 1521.6L1914.7 1521.8L1918.0 1522.2L1926.1 1521.2L1930.5 1521.8L1933.7 1522.0L1941.6 1522.4L1947.8 1522.9L1951.7 1522.2L1956.9 1522.2L1960.6 1522.7L1964.2 1521.2L1972.0 1523.1L1977.6 1521.8L1982.1 1521.5L1988.8 1521.2L1992.5 1521.9L1996.5 1522.4L2004.4 1522.7L2010.3 1521.8L2015.9 1521.1L2023.2 1522.0L2028.1 1521.5L2033.8 1522.8L2039.1 1523.6L2046.2 1522.2L2052.3 1523.9" fill="none" stroke="#0000ff" stroke-width="10" stroke-linejoin="round"/>
<path fill="#fff" d="M363.6 186.7a5 5 0 1 1 10.0 0a5 5 0 1 1 -10.0 0zM365.8 190.6a5 5 0 1 1 10.0 0a5 5 0 1 1 -10.0 0zM369.0 191.0a5 5 0 1 1 10.0 0a5 5 0 1 1 -10.0 0zM374.9 189.4a5 5 0 1 1 10.0 0a5 5 0 1 1 -10.0 0zM380.1 191.5a5 5 0 1 1 10.0 0a5 5 0 1 1 -10.0 0zM384.4 193.4a5 5 0 1 1 10.0 0a5 5 0 1 1 -10.0 0zM386.6 197.1a5 5 0 1 1 10.0 0a5 5 0 1 1 -10.0 0zM394.3 196.9a5 5 0 1 1 10.0 0a5 5 0 1 1 -10.0 0zM397.0 201.9a5 5 0 1 1 10.0 0a5 5 0 1 1 -10.0 0zM403.9 204.9a5 5 0 1 1 10.0 0a5 5 0 1 1 -10.0 0zM406.0 210.4a5 5 0 1 1 10.0 0a5 5 0 1 1 -10.0 0zM409.0 211.4a5 5 0 1 1 10.0 0a5 5 0 1 1 -10.0 0zM415.9 209.3a5 5 0 1 1 10.0 0a5 5 0 1 1 -10.0 0zM417.9 212.4a5 5 0 1 1 10.0 0a5 5 0 1 1 -10.0 0zM424.3 215.8a5 5 0 1 1 10.0 0a5 5 0 1 1 -10.0 0zM428.2 220.6a5 5 0 1 1 10.0 0a5 5 0 1 1 -10.0 0zM433.1 221.1a5 5 0 1 1 10.0 0a5 5 0 1 1 -10.0 0zM437.1 218.2a5 5 0 1 1 10.0 0a5 5 0 1 1 -10.0 0zM439.5 224.0a5 5 0 1 1 10.0 0a5 5 0 1 1 -10.0 0zM445.2 222.5a5 5 0 1 1 10.0 0a5 5 0 1 1 -10.0 0zM449.8 227.3a5 5 0 1 1 10.0 0a5 5 0 1 1 -10.0 0zM451.6 232.1a5 5 0 1 1 10.0 0a5 5 0 1 1 -10.0 0zM459.5 232.7a5 5 0 1 1 10.0 0a5 5 0 1 1 -10.0 0zM462.8 238.1a5 5 0 1 1 10.0 0a5 5 0 1 1 -10.0 0zM464.1 245.6a5 5 0 1 1 10.0 0a5 5 0 1 1 -10.0 0zM467.2 252.0a5 5 0 1 1 10.0 0a5 5 0 1 1 -10.0 0zM471.4 248.3a5 5 0 1 1 10.0 0a5 5 0 1 1 -10.0 0zM478.7 247.7a5 5 0 1 1 10.0 0a5 5 0 1 1 -10.0 0zM484.2 248.0a5 5 0 1 1 10.0 0a5 5 0 1 1 -10.0 0zM497.6 256.6a5 5 0 1 1 10.0 0a5 5 0 1 1 -10.0 0zM510.3 268.0a5 5 0 1 1 10.0 0a5 5 0 1 1 -10.0 0zM525.8 274.4a5 5 0 1 1 10.0 0a5 5 0 1 1 -10.0 0zM533.7 278.8a5 5 0 1 1 10.0 0a5 5 0 1 1 -10.0 0zM541.3 283.7a5 5 0 1 1 10.0 0a5 5 0 1 1 -10.0 0zM552.7 290.7a5 5 0 1 1 10.0 0a5 5 0 1 1 -10.0 0zM564.9 298.2a5 5 0 1 1 10.0 0a5 5 0 1 1 -10.0 0zM574.1 304.4a5 5 0 1 1 10.0 0a5 5 0 1 1 -10.0 0zM583.3 305.2a5 5 0 1 1 10.0 0a5 5 0 1 1 -10.0 0zM596.5 308.6a5 5 0 1 1 10.0 0a5 5 0 1 1 -10.0 0zM603.8 314.6a5 5 0 1 1 10.0 0a5 5 0 1 1 -10.0 0zM614.7 318.0a5 5 0 1 1 10.0 0a5 5 0 1 1 -10.0 0zM628.9 325.0a5 5 0 1 1 10.0 0a5 5 0 1 1 -10.0 0zM637.7 330.2a5 5 0 1 1 10.0 0a5 5 0 1 1 -10.0 0zM637.1 340.3a5 5 0 1 1 10.0 0a5 5 0 1 1 -10.0 0zM643.7 350.8a5 5 0 1 1 10.0 0a5 5 0 1 1 -10.0 0zM649.3 353.9a5 5 0 1 1 10.0 0a5 5 0 1 1 -10.0 0zM660.0 356.9a5 5 0 1 1 10.0 0a5 5 0 1 1 -10.0 0zM668.4 361.1a5 5 0 1 1 10.0 0a5 5 0 1 1 -10.0 0zM678.8 365.3a5 5 0 1 1 10.0 0a5 5 0 1 1 -10.0 0zM690.9 369.6a5 5 0 1 1 10.0 0a5 5 0 1 1 -10.0 0zM701.4 366.7a5 5 0 1 1 10.0 0a5 5 0 1 1 -10.0 0zM712.6 369.8a5 5 0 1 1 10.0 0a5 5 0 1 1 -10.0 0zM714.7 382.4a5 5 0 1 1 10.0 0a5 5 0 1 1 -10.0 0zM723.9 385.1a5 5 0 1 1 10.0 0a5 5 0 1 1 -10.0 0zM736.3 393.1a5 5 0 1 1 10.0 0a5 5 0 1 1 -10.0 0zM741.8 404.0a5 5 0 1 1 10.0 0a5 5 0 1 1 -10.0 0zM758.2 406.9a5 5 0 1 1 10.0 0a5 5 0 1 1 -10.0 0zM764.9 413.5a5 5 0 1 1 10.0 0a5 5 0 1 1 -10.0 0zM775.7 422.1a5 5 0 1 1 10.0 0a5 5 0 1 1 -10.0 0zM785.3 429.5a5 5 0 1 1 10.0 0a5 5 0 1 1 -10.0 0zM790.2 438.3a5 5 0 1 1 10.0 0a5 5 0 1 1 -10.0 0zM807.4 440.9a5 5 0 1 1 10.0 0a5 5 0 1 1 -10.0 0zM812.5 451.4a5 5 0 1 1 10.0 0a5 5 0 1 1 -10.0 0zM821.3 457.4a5 5 0 1 1 10.0 0a5 5 0 1 1 -10.0 0zM833.0 463.6a5 5 0 1 1 10.0 0a5 5 0 1 1 -10.0 0zM838.0 474.5a5 5 0 1 1 10.0 0a5 5 0 1 1 -10.0 0zM846.1 481.2a5 5 0 1 1 10.0 0a5 5 0 1 1 -10.0 0zM855.5 485.3a5 5 0 1 1 10.0 0a5 5 0 1 1 -10.0 0zM864.6 496.6a5 5 0 1 1 10.0 0a5 5 0 1 1 -10.0 0zM878.6 502.6a5 5 0 1 1 10.0 0a5 5 0 1 1 -10.0 0zM885.1 511.3a5 5 0 1 1 10.0 0a5 5 0 1 1 -10.0 0zM891.2 521.7a5 5 0 1 1 10.0 0a5 5 0 1 1 -10.0 0zM900.1 526.7a5 5 0 1 1 10.0 0a5 5 0 1 1 -10.0 0zM908.5 534.1a5 5 0 1 1 10.0 0a5 5 0 1 1 -10.0 0zM910.8 544.8a5 5 0 1 1 10.0 0a5 5 0 1 1 -10.0 0zM919.8 555.6a5 5 0 1 1 10.0 0a5 5 0 1 1 -10.0 0zM929.7 564.3a5 5 0 1 1 10.0 0a5 5 0 1 1 -10.0 0zM938.5 568.8a5 5 0 1 1 10.0 0a5 5 0 1 1 -10.0 0zM948.7 568.5a5 5 0 1 1 10.0 0a5 5 0 1 1 -10.0 0zM950.5 581.6a5 5 0 1 1 10.0 0a5 5 0 1 1 -10.0 0zM954.2 591.2a5 5 0 1 1 10.0 0a5 5 0 1 1 -10.0 0zM965.8 596.3a5 5 0 1 1 10.0 0a5 5 0 1 1 -10.0 0zM977.9 606.4a5 5 0 1 1 10.0 0a5 5 0 1 1 -10.0 0zM982.7 615.1a5 5 0 1 1 10.0 0a5 5 0 1 1 -10.0 0zM990.7 626.4a5 5 0 1 1 10.0 0a5 5 0 1 1 -10.0 0zM998.9 640.9a5 5 0 1 1 10.0 0a5 5 0 1 1 -10.0 0zM1003.7 651.0a5 5 0 1 1 10.0 0a5 5 0 1 1 -10.0 0zM1015.0 675.0a5 5 0 1 1 10.0 0a5 5 0 1 1 -10.0 0zM1023.0 688.0a5 5 0 1 1 10.0 0a5 5 0 1 1 -10.0 0zM1028.0 698.0a5 5 0 1 1 10.0 0a5 5 0 1 1 -10.0 0zM1037.0 710.0a5 5 0 1 1 10.0 0a5 5 0 1 1 -10.0 0zM1046.0 721.0a5 5 0 1 1 10.0 0a5 5 0 1 1 -10.0 0zM1055.0 735.0a5 5 0 1 1 10.0 0a5 5 0 1 1 -10.0 0zM1067.0 745.0a5 5 0 1 1 10.0 0a5 5 0 1 1 -10.0 0zM1071.0 760.0a5 5 0 1 1 10.0 0a5 5 0 1 1 -10.0 0zM1083.0 771.0a5 5 0 1 1 10.0 0a5 5 0 1 1 -10.0 0zM1085.0 786.0a5 5 0 1 1 10.0 0a5 5 0 1 1 -10.0 0zM1095.0 797.0a5 5 0 1 1 10.0 0a5 5 0 1 1 -10.0 0zM1102.0 813.0a5 5 0 1 1 10.0 0a5 5 0 1 1 -10.0 0zM1107.0 827.0a5 5 0 1 1 10.0 0a5 5 0 1 1 -10.0 0zM1117.0 844.0a5 5 0 1 1 10.0 0a5 5 0 1 1 -10.0 0zM1119.0 860.0a5 5 0 1 1 10.0 0a5 5 0 1 1 -10.0 0zM1126.0 881.0a5 5 0 1 1 10.0 0a5 5 0 1 1 -10.0 0zM1138.0 889.0a5 5 0 1 1 10.0 0a5 5 0 1 1 -10.0 0zM1140.0 910.0a5 5 0 1 1 10.0 0a5 5 0 1 1 -10.0 0zM1147.0 927.0a5 5 0 1 1 10.0 0a5 5 0 1 1 -10.0 0zM1157.0 951.0a5 5 0 1 1 10.0 0a5 5 0 1 1 -10.0 0zM1163.0 966.0a5 5 0 1 1 10.0 0a5 5 0 1 1 -10.0 0zM1170.0 988.0a5 5 0 1 1 10.0 0a5 5 0 1 1 -10.0 0zM1175.0 1011.0a5 5 0 1 1 10.0 0a5 5 0 1 1 -10.0 0zM1185.0 1030.0a5 5 0 1 1 10.0 0a5 5 0 1 1 -10.0 0zM1193.0 1049.0a5 5 0 1 1 10.0 0a5 5 0 1 1 -10.0 0zM1199.0 1071.0a5 5 0 1 1 10.0 0a5 5 0 1 1 -10.0 0zM1208.0 1092.0a5 5 0 1 1 10.0 0a5 5 0 1 1 -10.0 0zM1215.0 1112.0a5 5 0 1 1 10.0 0a5 5 0 1 1 -10.0 0zM1221.0 1133.0a5 5 0 1 1 10.0 0a5 5 0 1 1 -10.0 0zM1227.0 1158.0a5 5 0 1 1 10.0 0a5 5 0 1 1 -10.0 0zM1237.0 1171.0a5 5 0 1 1 10.0 0a5 5 0 1 1 -10.0 0zM1243.0 1193.0a5 5 0 1 1 10.0 0a5 5 0 1 1 -10.0 0zM1251.0 1210.0a5 5 0 1 1 10.0 0a5 5 0 1 1 -10.0 0zM1258.0 1225.0a5 5 0 1 1 10.0 0a5 5 0 1 1 -10.0 0zM1265.0 1245.0a5 5 0 1 1 10.0 0a5 5 0 1 1 -10.0 0zM1273.0 1262.0a5 5 0 1 1 10.0 0a5 5 0 1 1 -10.0 0zM1287.0 1277.0a5 5 0 1 1 10.0 0a5 5 0 1 1 -10.0 0zM1293.0 1288.0a5 5 0 1 1 10.0 0a5 5 0 1 1 -10.0 0zM1299.4 1300.2a5 5 0 1 1 10.0 0a5 5 0 1 1 -10.0 0zM1308.2 1314.7a5 5 0 1 1 10.0 0a5 5 0 1 1 -10.0 0zM1316.5 1325.8a5 5 0 1 1 10.0 0a5 5 0 1 1 -10.0 0zM1320.2 1336.6a5 5 0 1 1 10.0 0a5 5 0 1 1 -10.0 0zM1329.3 1341.0a5 5 0 1 1 10.0 0a5 5 0 1 1 -10.0 0zM1339.4 1347.5a5 5 0 1 1 10.0 0a5 5 0 1 1 -10.0 0zM1348.0 1356.7a5 5 0 1 1 10.0 0a5 5 0 1 1 -10.0 0zM1358.8 1367.4a5 5 0 1 1 10.0 0a5 5 0 1 1 -10.0 0zM1366.5 1373.5a5 5 0 1 1 10.0 0a5 5 0 1 1 -10.0 0zM1373.4 1380.9a5 5 0 1 1 10.0 0a5 5 0 1 1 -10.0 0zM1385.8 1391.8a5 5 0 1 1 10.0 0a5 5 0 1 1 -10.0 0zM1391.8 1398.1a5 5 0 1 1 10.0 0a5 5 0 1 1 -10.0 0zM1406.5 1399.6a5 5 0 1 1 10.0 0a5 5 0 1 1 -10.0 0zM1419.3 1405.3a5 5 0 1 1 10.0 0a5 5 0 1 1 -10.0 0zM1428.1 1415.1a5 5 0 1 1 10.0 0a5 5 0 1 1 -10.0 0zM1439.5 1423.7a5 5 0 1 1 10.0 0a5 5 0 1 1 -10.0 0zM1452.2 1430.1a5 5 0 1 1 10.0 0a5 5 0 1 1 -10.0 0zM1466.3 1428.9a5 5 0 1 1 10.0 0a5 5 0 1 1 -10.0 0zM1471.5 1436.4a5 5 0 1 1 10.0 0a5 5 0 1 1 -10.0 0zM1484.1 1439.2a5 5 0 1 1 10.0 0a5 5 0 1 1 -10.0 0zM1504.0 1448.8a5 5 0 1 1 10.0 0a5 5 0 1 1 -10.0 0zM1511.3 1448.3a5 5 0 1 1 10.0 0a5 5 0 1 1 -10.0 0zM1522.2 1450.0a5 5 0 1 1 10.0 0a5 5 0 1 1 -10.0 0zM1528.7 1457.1a5 5 0 1 1 10.0 0a5 5 0 1 1 -10.0 0zM1533.7 1456.3a5 5 0 1 1 10.0 0a5 5 0 1 1 -10.0 0zM1543.3 1456.4a5 5 0 1 1 10.0 0a5 5 0 1 1 -10.0 0zM1548.0 1463.0a5 5 0 1 1 10.0 0a5 5 0 1 1 -10.0 0zM1555.3 1466.0a5 5 0 1 1 10.0 0a5 5 0 1 1 -10.0 0zM1561.1 1464.4a5 5 0 1 1 10.0 0a5 5 0 1 1 -10.0 0zM1565.4 1467.2a5 5 0 1 1 10.0 0a5 5 0 1 1 -10.0 0zM1576.1 1471.3a5 5 0 1 1 10.0 0a5 5 0 1 1 -10.0 0zM1586.2 1472.8a5 5 0 1 1 10.0 0a5 5 0 1 1 -10.0 0zM1596.3 1473.6a5 5 0 1 1 10.0 0a5 5 0 1 1 -10.0 0zM1601.3 1479.1a5 5 0 1 1 10.0 0a5 5 0 1 1 -10.0 0zM1611.0 1481.0a5 5 0 1 1 10.0 0a5 5 0 1 1 -10.0 0zM1615.7 1482.1a5 5 0 1 1 10.0 0a5 5 0 1 1 -10.0 0zM1620.9 1484.4a5 5 0 1 1 10.0 0a5 5 0 1 1 -10.0 0zM1630.5 1487.7a5 5 0 1 1 10.0 0a5 5 0 1 1 -10.0 0zM1640.4 1494.1a5 5 0 1 1 10.0 0a5 5 0 1 1 -10.0 0zM1645.4 1492.1a5 5 0 1 1 10.0 0a5 5 0 1 1 -10.0 0zM1653.6 1492.0a5 5 0 1 1 10.0 0a5 5 0 1 1 -10.0 0zM1659.5 1498.9a5 5 0 1 1 10.0 0a5 5 0 1 1 -10.0 0zM1664.7 1498.4a5 5 0 1 1 10.0 0a5 5 0 1 1 -10.0 0zM1669.5 1499.7a5 5 0 1 1 10.0 0a5 5 0 1 1 -10.0 0zM1680.8 1500.6a5 5 0 1 1 10.0 0a5 5 0 1 1 -10.0 0zM1684.9 1500.8a5 5 0 1 1 10.0 0a5 5 0 1 1 -10.0 0zM1693.1 1502.3a5 5 0 1 1 10.0 0a5 5 0 1 1 -10.0 0zM1697.0 1506.2a5 5 0 1 1 10.0 0a5 5 0 1 1 -10.0 0zM1708.1 1508.7a5 5 0 1 1 10.0 0a5 5 0 1 1 -10.0 0zM1714.9 1511.2a5 5 0 1 1 10.0 0a5 5 0 1 1 -10.0 0zM1719.7 1511.3a5 5 0 1 1 10.0 0a5 5 0 1 1 -10.0 0zM1725.0 1512.0a5 5 0 1 1 10.0 0a5 5 0 1 1 -10.0 0zM1737.0 1510.6a5 5 0 1 1 10.0 0a5 5 0 1 1 -10.0 0zM1744.8 1515.2a5 5 0 1 1 10.0 0a5 5 0 1 1 -10.0 0zM1750.2 1513.8a5 5 0 1 1 10.0 0a5 5 0 1 1 -10.0 0zM1761.6 1519.6a5 5 0 1 1 10.0 0a5 5 0 1 1 -10.0 0zM1766.7 1518.4a5 5 0 1 1 10.0 0a5 5 0 1 1 -10.0 0zM1778.6 1517.0a5 5 0 1 1 10.0 0a5 5 0 1 1 -10.0 0zM1787.4 1516.5a5 5 0 1 1 10.0 0a5 5 0 1 1 -10.0 0zM1794.1 1520.6a5 5 0 1 1 10.0 0a5 5 0 1 1 -10.0 0zM1802.8 1521.6a5 5 0 1 1 10.0 0a5 5 0 1 1 -10.0 0zM1809.6 1520.4a5 5 0 1 1 10.0 0a5 5 0 1 1 -10.0 0zM1813.8 1521.1a5 5 0 1 1 10.0 0a5 5 0 1 1 -10.0 0zM1821.7 1521.0a5 5 0 1 1 10.0 0a5 5 0 1 1 -10.0 0zM1825.7 1520.8a5 5 0 1 1 10.0 0a5 5 0 1 1 -10.0 0zM1830.7 1520.4a5 5 0 1 1 10.0 0a5 5 0 1 1 -10.0 0zM1839.3 1522.4a5 5 0 1 1 10.0 0a5 5 0 1 1 -10.0 0zM1842.6 1522.2a5 5 0 1 1 10.0 0a5 5 0 1 1 -10.0 0zM1849.3 1521.2a5 5 0 1 1 10.0 0a5 5 0 1 1 -10.0 0zM1853.9 1522.0a5 5 0 1 1 10.0 0a5 5 0 1 1 -10.0 0zM1859.7 1522.2a5 5 0 1 1 10.0 0a5 5 0 1 1 -10.0 0zM1866.7 1521.1a5 5 0 1 1 10.0 0a5 5 0 1 1 -10.0 0zM1874.3 1523.2a5 5 0 1 1 10.0 0a5 5 0 1 1 -10.0 0zM1883.1 1522.3a5 5 0 1 1 10.0 0a5 5 0 1 1 -10.0 0zM1886.4 1520.8a5 5 0 1 1 10.0 0a5 5 0 1 1 -10.0 0zM1890.2 1523.1a5 5 0 1 1 10.0 0a5 5 0 1 1 -10.0 0zM1895.0 1521.7a5 5 0 1 1 10.0 0a5 5 0 1 1 -10.0 0zM1903.4 1521.6a5 5 0 1 1 10.0 0a5 5 0 1 1 -10.0 0zM1909.7 1521.8a5 5 0 1 1 10.0 0a5 5 0 1 1 -10.0 0zM1913.0 1522.2a5 5 0 1 1 10.0 0a5 5 0 1 1 -10.0 0zM1921.1 1521.2a5 5 0 1 1 10.0 0a5 5 0 1 1 -10.0 0zM1925.5 1521.8a5 5 0 1 1 10.0 0a5 5 0 1 1 -10.0 0zM1928.7 1522.0a5 5 0 1 1 10.0 0a5 5 0 1 1 -10.0 0zM1936.6 1522.4a5 5 0 1 1 10.0 0a5 5 0 1 1 -10.0 0zM1942.8 1522.9a5 5 0 1 1 10.0 0a5 5 0 1 1 -10.0 0zM1946.7 1522.2a5 5 0 1 1 10.0 0a5 5 0 1 1 -10.0 0zM1951.9 1522.2a5 5 0 1 1 10.0 0a5 5 0 1 1 -10.0 0zM1955.6 1522.7a5 5 0 1 1 10.0 0a5 5 0 1 1 -10.0 0zM1959.2 1521.2a5 5 0 1 1 10.0 0a5 5 0 1 1 -10.0 0zM1967.0 1523.1a5 5 0 1 1 10.0 0a5 5 0 1 1 -10.0 0zM1972.6 1521.8a5 5 0 1 1 10.0 0a5 5 0 1 1 -10.0 0zM1977.1 1521.5a5 5 0 1 1 10.0 0a5 5 0 1 1 -10.0 0zM1983.8 1521.2a5 5 0 1 1 10.0 0a5 5 0 1 1 -10.0 0zM1987.5 1521.9a5 5 0 1 1 10.0 0a5 5 0 1 1 -10.0 0zM1991.5 1522.4a5 5 0 1 1 10.0 0a5 5 0 1 1 -10.0 0zM1999.4 1522.7a5 5 0 1 1 10.0 0a5 5 0 1 1 -10.0 0zM2005.3 1521.8a5 5 0 1 1 10.0 0a5 5 0 1 1 -10.0 0zM2010.9 1521.1a5 5 0 1 1 10.0 0a5 5 0 1 1 -10.0 0zM2018.2 1522.0a5 5 0 1 1 10.0 0a5 5 0 1 1 -10.0 0zM2023.1 1521.5a5 5 0 1 1 10.0 0a5 5 0 1 1 -10.0 0zM2028.8 1522.8a5 5 0 1 1 10.0 0a5 5 0 1 1 -10.0 0zM2034.1 1523.6a5 5 0 1 1 10.0 0a5 5 0 1 1 -10.0 0zM2041.2 1522.2a5 5 0 1 1 10.0 0a5 5 0 1 1 -10.0 0zM2047.3 1523.9a5 5 0 1 1 10.0 0a5 5 0 1 1 -10.0 0z"/>
<path fill="#0000ff" fill-rule="nonzero" d="M358.6 186.7a10 10 0 1 1 20.0 0a10 10 0 1 1 -20.0 0zM363.6 186.7a5 5 0 1 0 10.0 0a5 5 0 1 0 -10.0 0zM360.8 190.6a10 10 0 1 1 20.0 0a10 10 0 1 1 -20.0 0zM365.8 190.6a5 5 0 1 0 10.0 0a5 5 0 1 0 -10.0 0zM364.0 191.0a10 10 0 1 1 20.0 0a10 10 0 1 1 -20.0 0zM369.0 191.0a5 5 0 1 0 10.0 0a5 5 0 1 0 -10.0 0zM369.9 189.4a10 10 0 1 1 20.0 0a10 10 0 1 1 -20.0 0zM374.9 189.4a5 5 0 1 0 10.0 0a5 5 0 1 0 -10.0 0zM375.1 191.5a10 10 0 1 1 20.0 0a10 10 0 1 1 -20.0 0zM380.1 191.5a5 5 0 1 0 10.0 0a5 5 0 1 0 -10.0 0zM379.4 193.4a10 10 0 1 1 20.0 0a10 10 0 1 1 -20.0 0zM384.4 193.4a5 5 0 1 0 10.0 0a5 5 0 1 0 -10.0 0zM381.6 197.1a10 10 0 1 1 20.0 0a10 10 0 1 1 -20.0 0zM386.6 197.1a5 5 0 1 0 10.0 0a5 5 0 1 0 -10.0 0zM389.3 196.9a10 10 0 1 1 20.0 0a10 10 0 1 1 -20.0 0zM394.3 196.9a5 5 0 1 0 10.0 0a5 5 0 1 0 -10.0 0zM392.0 201.9a10 10 0 1 1 20.0 0a10 10 0 1 1 -20.0 0zM397.0 201.9a5 5 0 1 0 10.0 0a5 5 0 1 0 -10.0 0zM398.9 204.9a10 10 0 1 1 20.0 0a10 10 0 1 1 -20.0 0zM403.9 204.9a5 5 0 1 0 10.0 0a5 5 0 1 0 -10.0 0zM401.0 210.4a10 10 0 1 1 20.0 0a10 10 0 1 1 -20.0 0zM406.0 210.4a5 5 0 1 0 10.0 0a5 5 0 1 0 -10.0 0zM404.0 211.4a10 10 0 1 1 20.0 0a10 10 0 1 1 -20.0 0zM409.0 211.4a5 5 0 1 0 10.0 0a5 5 0 1 0 -10.0 0zM410.9 209.3a10 10 0 1 1 20.0 0a10 10 0 1 1 -20.0 0zM415.9 209.3a5 5 0 1 0 10.0 0a5 5 0 1 0 -10.0 0zM412.9 212.4a10 10 0 1 1 20.0 0a10 10 0 1 1 -20.0 0zM417.9 212.4a5 5 0 1 0 10.0 0a5 5 0 1 0 -10.0 0zM419.3 215.8a10 10 0 1 1 20.0 0a10 10 0 1 1 -20.0 0zM424.3 215.8a5 5 0 1 0 10.0 0a5 5 0 1 0 -10.0 0zM423.2 220.6a10 10 0 1 1 20.0 0a10 10 0 1 1 -20.0 0zM428.2 220.6a5 5 0 1 0 10.0 0a5 5 0 1 0 -10.0 0zM428.1 221.1a10 10 0 1 1 20.0 0a10 10 0 1 1 -20.0 0zM433.1 221.1a5 5 0 1 0 10.0 0a5 5 0 1 0 -10.0 0zM432.1 218.2a10 10 0 1 1 20.0 0a10 10 0 1 1 -20.0 0zM437.1 218.2a5 5 0 1 0 10.0 0a5 5 0 1 0 -10.0 0zM434.5 224.0a10 10 0 1 1 20.0 0a10 10 0 1 1 -20.0 0zM439.5 224.0a5 5 0 1 0 10.0 0a5 5 0 1 0 -10.0 0zM440.2 222.5a10 10 0 1 1 20.0 0a10 10 0 1 1 -20.0 0zM445.2 222.5a5 5 0 1 0 10.0 0a5 5 0 1 0 -10.0 0zM444.8 227.3a10 10 0 1 1 20.0 0a10 10 0 1 1 -20.0 0zM449.8 227.3a5 5 0 1 0 10.0 0a5 5 0 1 0 -10.0 0zM446.6 232.1a10 10 0 1 1 20.0 0a10 10 0 1 1 -20.0 0zM451.6 232.1a5 5 0 1 0 10.0 0a5 5 0 1 0 -10.0 0zM454.5 232.7a10 10 0 1 1 20.0 0a10 10 0 1 1 -20.0 0zM459.5 232.7a5 5 0 1 0 10.0 0a5 5 0 1 0 -10.0 0zM457.8 238.1a10 10 0 1 1 20.0 0a10 10 0 1 1 -20.0 0zM462.8 238.1a5 5 0 1 0 10.0 0a5 5 0 1 0 -10.0 0zM459.1 245.6a10 10 0 1 1 20.0 0a10 10 0 1 1 -20.0 0zM464.1 245.6a5 5 0 1 0 10.0 0a5 5 0 1 0 -10.0 0zM462.2 252.0a10 10 0 1 1 20.0 0a10 10 0 1 1 -20.0 0zM467.2 252.0a5 5 0 1 0 10.0 0a5 5 0 1 0 -10.0 0zM466.4 248.3a10 10 0 1 1 20.0 0a10 10 0 1 1 -20.0 0zM471.4 248.3a5 5 0 1 0 10.0 0a5 5 0 1 0 -10.0 0zM473.7 247.7a10 10 0 1 1 20.0 0a10 10 0 1 1 -20.0 0zM478.7 247.7a5 5 0 1 0 10.0 0a5 5 0 1 0 -10.0 0zM479.2 248.0a10 10 0 1 1 20.0 0a10 10 0 1 1 -20.0 0zM484.2 248.0a5 5 0 1 0 10.0 0a5 5 0 1 0 -10.0 0zM492.6 256.6a10 10 0 1 1 20.0 0a10 10 0 1 1 -20.0 0zM497.6 256.6a5 5 0 1 0 10.0 0a5 5 0 1 0 -10.0 0zM505.3 268.0a10 10 0 1 1 20.0 0a10 10 0 1 1 -20.0 0zM510.3 268.0a5 5 0 1 0 10.0 0a5 5 0 1 0 -10.0 0zM520.8 274.4a10 10 0 1 1 20.0 0a10 10 0 1 1 -20.0 0zM525.8 274.4a5 5 0 1 0 10.0 0a5 5 0 1 0 -10.0 0zM528.7 278.8a10 10 0 1 1 20.0 0a10 10 0 1 1 -20.0 0zM533.7 278.8a5 5 0 1 0 10.0 0a5 5 0 1 0 -10.0 0zM536.3 283.7a10 10 0 1 1 20.0 0a10 10 0 1 1 -20.0 0zM541.3 283.7a5 5 0 1 0 10.0 0a5 5 0 1 0 -10.0 0zM547.7 290.7a10 10 0 1 1 20.0 0a10 10 0 1 1 -20.0 0zM552.7 290.7a5 5 0 1 0 10.0 0a5 5 0 1 0 -10.0 0zM559.9 298.2a10 10 0 1 1 20.0 0a10 10 0 1 1 -20.0 0zM564.9 298.2a5 5 0 1 0 10.0 0a5 5 0 1 0 -10.0 0zM569.1 304.4a10 10 0 1 1 20.0 0a10 10 0 1 1 -20.0 0zM574.1 304.4a5 5 0 1 0 10.0 0a5 5 0 1 0 -10.0 0zM578.3 305.2a10 10 0 1 1 20.0 0a10 10 0 1 1 -20.0 0zM583.3 305.2a5 5 0 1 0 10.0 0a5 5 0 1 0 -10.0 0zM591.5 308.6a10 10 0 1 1 20.0 0a10 10 0 1 1 -20.0 0zM596.5 308.6a5 5 0 1 0 10.0 0a5 5 0 1 0 -10.0 0zM598.8 314.6a10 10 0 1 1 20.0 0a10 10 0 1 1 -20.0 0zM603.8 314.6a5 5 0 1 0 10.0 0a5 5 0 1 0 -10.0 0zM609.7 318.0a10 10 0 1 1 20.0 0a10 10 0 1 1 -20.0 0zM614.7 318.0a5 5 0 1 0 10.0 0a5 5 0 1 0 -10.0 0zM623.9 325.0a10 10 0 1 1 20.0 0a10 10 0 1 1 -20.0 0zM628.9 325.0a5 5 0 1 0 10.0 0a5 5 0 1 0 -10.0 0zM632.7 330.2a10 10 0 1 1 20.0 0a10 10 0 1 1 -20.0 0zM637.7 330.2a5 5 0 1 0 10.0 0a5 5 0 1 0 -10.0 0zM632.1 340.3a10 10 0 1 1 20.0 0a10 10 0 1 1 -20.0 0zM637.1 340.3a5 5 0 1 0 10.0 0a5 5 0 1 0 -10.0 0zM638.7 350.8a10 10 0 1 1 20.0 0a10 10 0 1 1 -20.0 0zM643.7 350.8a5 5 0 1 0 10.0 0a5 5 0 1 0 -10.0 0zM644.3 353.9a10 10 0 1 1 20.0 0a10 10 0 1 1 -20.0 0zM649.3 353.9a5 5 0 1 0 10.0 0a5 5 0 1 0 -10.0 0zM655.0 356.9a10 10 0 1 1 20.0 0a10 10 0 1 1 -20.0 0zM660.0 356.9a5 5 0 1 0 10.0 0a5 5 0 1 0 -10.0 0zM663.4 361.1a10 10 0 1 1 20.0 0a10 10 0 1 1 -20.0 0zM668.4 361.1a5 5 0 1 0 10.0 0a5 5 0 1 0 -10.0 0zM673.8 365.3a10 10 0 1 1 20.0 0a10 10 0 1 1 -20.0 0zM678.8 365.3a5 5 0 1 0 10.0 0a5 5 0 1 0 -10.0 0zM685.9 369.6a10 10 0 1 1 20.0 0a10 10 0 1 1 -20.0 0zM690.9 369.6a5 5 0 1 0 10.0 0a5 5 0 1 0 -10.0 0zM696.4 366.7a10 10 0 1 1 20.0 0a10 10 0 1 1 -20.0 0zM701.4 366.7a5 5 0 1 0 10.0 0a5 5 0 1 0 -10.0 0zM707.6 369.8a10 10 0 1 1 20.0 0a10 10 0 1 1 -20.0 0zM712.6 369.8a5 5 0 1 0 10.0 0a5 5 0 1 0 -10.0 0zM709.7 382.4a10 10 0 1 1 20.0 0a10 10 0 1 1 -20.0 0zM714.7 382.4a5 5 0 1 0 10.0 0a5 5 0 1 0 -10.0 0zM718.9 385.1a10 10 0 1 1 20.0 0a10 10 0 1 1 -20.0 0zM723.9 385.1a5 5 0 1 0 10.0 0a5 5 0 1 0 -10.0 0zM731.3 393.1a10 10 0 1 1 20.0 0a10 10 0 1 1 -20.0 0zM736.3 393.1a5 5 0 1 0 10.0 0a5 5 0 1 0 -10.0 0zM736.8 404.0a10 10 0 1 1 20.0 0a10 10 0 1 1 -20.0 0zM741.8 404.0a5 5 0 1 0 10.0 0a5 5 0 1 0 -10.0 0zM753.2 406.9a10 10 0 1 1 20.0 0a10 10 0 1 1 -20.0 0zM758.2 406.9a5 5 0 1 0 10.0 0a5 5 0 1 0 -10.0 0zM759.9 413.5a10 10 0 1 1 20.0 0a10 10 0 1 1 -20.0 0zM764.9 413.5a5 5 0 1 0 10.0 0a5 5 0 1 0 -10.0 0zM770.7 422.1a10 10 0 1 1 20.0 0a10 10 0 1 1 -20.0 0zM775.7 422.1a5 5 0 1 0 10.0 0a5 5 0 1 0 -10.0 0zM780.3 429.5a10 10 0 1 1 20.0 0a10 10 0 1 1 -20.0 0zM785.3 429.5a5 5 0 1 0 10.0 0a5 5 0 1 0 -10.0 0zM785.2 438.3a10 10 0 1 1 20.0 0a10 10 0 1 1 -20.0 0zM790.2 438.3a5 5 0 1 0 10.0 0a5 5 0 1 0 -10.0 0zM802.4 440.9a10 10 0 1 1 20.0 0a10 10 0 1 1 -20.0 0zM807.4 440.9a5 5 0 1 0 10.0 0a5 5 0 1 0 -10.0 0zM807.5 451.4a10 10 0 1 1 20.0 0a10 10 0 1 1 -20.0 0zM812.5 451.4a5 5 0 1 0 10.0 0a5 5 0 1 0 -10.0 0zM816.3 457.4a10 10 0 1 1 20.0 0a10 10 0 1 1 -20.0 0zM821.3 457.4a5 5 0 1 0 10.0 0a5 5 0 1 0 -10.0 0zM828.0 463.6a10 10 0 1 1 20.0 0a10 10 0 1 1 -20.0 0zM833.0 463.6a5 5 0 1 0 10.0 0a5 5 0 1 0 -10.0 0zM833.0 474.5a10 10 0 1 1 20.0 0a10 10 0 1 1 -20.0 0zM838.0 474.5a5 5 0 1 0 10.0 0a5 5 0 1 0 -10.0 0zM841.1 481.2a10 10 0 1 1 20.0 0a10 10 0 1 1 -20.0 0zM846.1 481.2a5 5 0 1 0 10.0 0a5 5 0 1 0 -10.0 0zM850.5 485.3a10 10 0 1 1 20.0 0a10 10 0 1 1 -20.0 0zM855.5 485.3a5 5 0 1 0 10.0 0a5 5 0 1 0 -10.0 0zM859.6 496.6a10 10 0 1 1 20.0 0a10 10 0 1 1 -20.0 0zM864.6 496.6a5 5 0 1 0 10.0 0a5 5 0 1 0 -10.0 0zM873.6 502.6a10 10 0 1 1 20.0 0a10 10 0 1 1 -20.0 0zM878.6 502.6a5 5 0 1 0 10.0 0a5 5 0 1 0 -10.0 0zM880.1 511.3a10 10 0 1 1 20.0 0a10 10 0 1 1 -20.0 0zM885.1 511.3a5 5 0 1 0 10.0 0a5 5 0 1 0 -10.0 0zM886.2 521.7a10 10 0 1 1 20.0 0a10 10 0 1 1 -20.0 0zM891.2 521.7a5 5 0 1 0 10.0 0a5 5 0 1 0 -10.0 0zM895.1 526.7a10 10 0 1 1 20.0 0a10 10 0 1 1 -20.0 0zM900.1 526.7a5 5 0 1 0 10.0 0a5 5 0 1 0 -10.0 0zM903.5 534.1a10 10 0 1 1 20.0 0a10 10 0 1 1 -20.0 0zM908.5 534.1a5 5 0 1 0 10.0 0a5 5 0 1 0 -10.0 0zM905.8 544.8a10 10 0 1 1 20.0 0a10 10 0 1 1 -20.0 0zM910.8 544.8a5 5 0 1 0 10.0 0a5 5 0 1 0 -10.0 0zM914.8 555.6a10 10 0 1 1 20.0 0a10 10 0 1 1 -20.0 0zM919.8 555.6a5 5 0 1 0 10.0 0a5 5 0 1 0 -10.0 0zM924.7 564.3a10 10 0 1 1 20.0 0a10 10 0 1 1 -20.0 0zM929.7 564.3a5 5 0 1 0 10.0 0a5 5 0 1 0 -10.0 0zM933.5 568.8a10 10 0 1 1 20.0 0a10 10 0 1 1 -20.0 0zM938.5 568.8a5 5 0 1 0 10.0 0a5 5 0 1 0 -10.0 0zM943.7 568.5a10 10 0 1 1 20.0 0a10 10 0 1 1 -20.0 0zM948.7 568.5a5 5 0 1 0 10.0 0a5 5 0 1 0 -10.0 0zM945.5 581.6a10 10 0 1 1 20.0 0a10 10 0 1 1 -20.0 0zM950.5 581.6a5 5 0 1 0 10.0 0a5 5 0 1 0 -10.0 0zM949.2 591.2a10 10 0 1 1 20.0 0a10 10 0 1 1 -20.0 0zM954.2 591.2a5 5 0 1 0 10.0 0a5 5 0 1 0 -10.0 0zM960.8 596.3a10 10 0 1 1 20.0 0a10 10 0 1 1 -20.0 0zM965.8 596.3a5 5 0 1 0 10.0 0a5 5 0 1 0 -10.0 0zM972.9 606.4a10 10 0 1 1 20.0 0a10 10 0 1 1 -20.0 0zM977.9 606.4a5 5 0 1 0 10.0 0a5 5 0 1 0 -10.0 0zM977.7 615.1a10 10 0 1 1 20.0 0a10 10 0 1 1 -20.0 0zM982.7 615.1a5 5 0 1 0 10.0 0a5 5 0 1 0 -10.0 0zM985.7 626.4a10 10 0 1 1 20.0 0a10 10 0 1 1 -20.0 0zM990.7 626.4a5 5 0 1 0 10.0 0a5 5 0 1 0 -10.0 0zM993.9 640.9a10 10 0 1 1 20.0 0a10 10 0 1 1 -20.0 0zM998.9 640.9a5 5 0 1 0 10.0 0a5 5 0 1 0 -10.0 0zM998.7 651.0a10 10 0 1 1 20.0 0a10 10 0 1 1 -20.0 0zM1003.7 651.0a5 5 0 1 0 10.0 0a5 5 0 1 0 -10.0 0zM1010.0 675.0a10 10 0 1 1 20.0 0a10 10 0 1 1 -20.0 0zM1015.0 675.0a5 5 0 1 0 10.0 0a5 5 0 1 0 -10.0 0zM1018.0 688.0a10 10 0 1 1 20.0 0a10 10 0 1 1 -20.0 0zM1023.0 688.0a5 5 0 1 0 10.0 0a5 5 0 1 0 -10.0 0zM1023.0 698.0a10 10 0 1 1 20.0 0a10 10 0 1 1 -20.0 0zM1028.0 698.0a5 5 0 1 0 10.0 0a5 5 0 1 0 -10.0 0zM1032.0 710.0a10 10 0 1 1 20.0 0a10 10 0 1 1 -20.0 0zM1037.0 710.0a5 5 0 1 0 10.0 0a5 5 0 1 0 -10.0 0zM1041.0 721.0a10 10 0 1 1 20.0 0a10 10 0 1 1 -20.0 0zM1046.0 721.0a5 5 0 1 0 10.0 0a5 5 0 1 0 -10.0 0zM1050.0 735.0a10 10 0 1 1 20.0 0a10 10 0 1 1 -20.0 0zM1055.0 735.0a5 5 0 1 0 10.0 0a5 5 0 1 0 -10.0 0zM1062.0 745.0a10 10 0 1 1 20.0 0a10 10 0 1 1 -20.0 0zM1067.0 745.0a5 5 0 1 0 10.0 0a5 5 0 1 0 -10.0 0zM1066.0 760.0a10 10 0 1 1 20.0 0a10 10 0 1 1 -20.0 0zM1071.0 760.0a5 5 0 1 0 10.0 0a5 5 0 1 0 -10.0 0zM1078.0 771.0a10 10 0 1 1 20.0 0a10 10 0 1 1 -20.0 0zM1083.0 771.0a5 5 0 1 0 10.0 0a5 5 0 1 0 -10.0 0zM1080.0 786.0a10 10 0 1 1 20.0 0a10 10 0 1 1 -20.0 0zM1085.0 786.0a5 5 0 1 0 10.0 0a5 5 0 1 0 -10.0 0zM1090.0 797.0a10 10 0 1 1 20.0 0a10 10 0 1 1 -20.0 0zM1095.0 797.0a5 5 0 1 0 10.0 0a5 5 0 1 0 -10.0 0zM1097.0 813.0a10 10 0 1 1 20.0 0a10 10 0 1 1 -20.0 0zM1102.0 813.0a5 5 0 1 0 10.0 0a5 5 0 1 0 -10.0 0zM1102.0 827.0a10 10 0 1 1 20.0 0a10 10 0 1 1 -20.0 0zM1107.0 827.0a5 5 0 1 0 10.0 0a5 5 0 1 0 -10.0 0zM1112.0 844.0a10 10 0 1 1 20.0 0a10 10 0 1 1 -20.0 0zM1117.0 844.0a5 5 0 1 0 10.0 0a5 5 0 1 0 -10.0 0zM1114.0 860.0a10 10 0 1 1 20.0 0a10 10 0 1 1 -20.0 0zM1119.0 860.0a5 5 0 1 0 10.0 0a5 5 0 1 0 -10.0 0zM1121.0 881.0a10 10 0 1 1 20.0 0a10 10 0 1 1 -20.0 0zM1126.0 881.0a5 5 0 1 0 10.0 0a5 5 0 1 0 -10.0 0zM1133.0 889.0a10 10 0 1 1 20.0 0a10 10 0 1 1 -20.0 0zM1138.0 889.0a5 5 0 1 0 10.0 0a5 5 0 1 0 -10.0 0zM1135.0 910.0a10 10 0 1 1 20.0 0a10 10 0 1 1 -20.0 0zM1140.0 910.0a5 5 0 1 0 10.0 0a5 5 0 1 0 -10.0 0zM1142.0 927.0a10 10 0 1 1 20.0 0a10 10 0 1 1 -20.0 0zM1147.0 927.0a5 5 0 1 0 10.0 0a5 5 0 1 0 -10.0 0zM1152.0 951.0a10 10 0 1 1 20.0 0a10 10 0 1 1 -20.0 0zM1157.0 951.0a5 5 0 1 0 10.0 0a5 5 0 1 0 -10.0 0zM1158.0 966.0a10 10 0 1 1 20.0 0a10 10 0 1 1 -20.0 0zM1163.0 966.0a5 5 0 1 0 10.0 0a5 5 0 1 0 -10.0 0zM1165.0 988.0a10 10 0 1 1 20.0 0a10 10 0 1 1 -20.0 0zM1170.0 988.0a5 5 0 1 0 10.0 0a5 5 0 1 0 -10.0 0zM1170.0 1011.0a10 10 0 1 1 20.0 0a10 10 0 1 1 -20.0 0zM1175.0 1011.0a5 5 0 1 0 10.0 0a5 5 0 1 0 -10.0 0zM1180.0 1030.0a10 10 0 1 1 20.0 0a10 10 0 1 1 -20.0 0zM1185.0 1030.0a5 5 0 1 0 10.0 0a5 5 0 1 0 -10.0 0zM1188.0 1049.0a10 10 0 1 1 20.0 0a10 10 0 1 1 -20.0 0zM1193.0 1049.0a5 5 0 1 0 10.0 0a5 5 0 1 0 -10.0 0zM1194.0 1071.0a10 10 0 1 1 20.0 0a10 10 0 1 1 -20.0 0zM1199.0 1071.0a5 5 0 1 0 10.0 0a5 5 0 1 0 -10.0 0zM1203.0 1092.0a10 10 0 1 1 20.0 0a10 10 0 1 1 -20.0 0zM1208.0 1092.0a5 5 0 1 0 10.0 0a5 5 0 1 0 -10.0 0zM1210.0 1112.0a10 10 0 1 1 20.0 0a10 10 0 1 1 -20.0 0zM1215.0 1112.0a5 5 0 1 0 10.0 0a5 5 0 1 0 -10.0 0zM1216.0 1133.0a10 10 0 1 1 20.0 0a10 10 0 1 1 -20.0 0zM1221.0 1133.0a5 5 0 1 0 10.0 0a5 5 0 1 0 -10.0 0zM1222.0 1158.0a10 10 0 1 1 20.0 0a10 10 0 1 1 -20.0 0zM1227.0 1158.0a5 5 0 1 0 10.0 0a5 5 0 1 0 -10.0 0zM1232.0 1171.0a10 10 0 1 1 20.0 0a10 10 0 1 1 -20.0 0zM1237.0 1171.0a5 5 0 1 0 10.0 0a5 5 0 1 0 -10.0 0zM1238.0 1193.0a10 10 0 1 1 20.0 0a10 10 0 1 1 -20.0 0zM1243.0 1193.0a5 5 0 1 0 10.0 0a5 5 0 1 0 -10.0 0zM1246.0 1210.0a10 10 0 1 1 20.0 0a10 10 0 1 1 -20.0 0zM1251.0 1210.0a5 5 0 1 0 10.0 0a5 5 0 1 0 -10.0 0zM1253.0 1225.0a10 10 0 1 1 20.0 0a10 10 0 1 1 -20.0 0zM1258.0 1225.0a5 5 0 1 0 10.0 0a5 5 0 1 0 -10.0 0zM1260.0 1245.0a10 10 0 1 1 20.0 0a10 10 0 1 1 -20.0 0zM1265.0 1245.0a5 5 0 1 0 10.0 0a5 5 0 1 0 -10.0 0zM1268.0 1262.0a10 10 0 1 1 20.0 0a10 10 0 1 1 -20.0 0zM1273.0 1262.0a5 5 0 1 0 10.0 0a5 5 0 1 0 -10.0 0zM1282.0 1277.0a10 10 0 1 1 20.0 0a10 10 0 1 1 -20.0 0zM1287.0 1277.0a5 5 0 1 0 10.0 0a5 5 0 1 0 -10.0 0zM1288.0 1288.0a10 10 0 1 1 20.0 0a10 10 0 1 1 -20.0 0zM1293.0 1288.0a5 5 0 1 0 10.0 0a5 5 0 1 0 -10.0 0zM1294.4 1300.2a10 10 0 1 1 20.0 0a10 10 0 1 1 -20.0 0zM1299.4 1300.2a5 5 0 1 0 10.0 0a5 5 0 1 0 -10.0 0zM1303.2 1314.7a10 10 0 1 1 20.0 0a10 10 0 1 1 -20.0 0zM1308.2 1314.7a5 5 0 1 0 10.0 0a5 5 0 1 0 -10.0 0zM1311.5 1325.8a10 10 0 1 1 20.0 0a10 10 0 1 1 -20.0 0zM1316.5 1325.8a5 5 0 1 0 10.0 0a5 5 0 1 0 -10.0 0zM1315.2 1336.6a10 10 0 1 1 20.0 0a10 10 0 1 1 -20.0 0zM1320.2 1336.6a5 5 0 1 0 10.0 0a5 5 0 1 0 -10.0 0zM1324.3 1341.0a10 10 0 1 1 20.0 0a10 10 0 1 1 -20.0 0zM1329.3 1341.0a5 5 0 1 0 10.0 0a5 5 0 1 0 -10.0 0zM1334.4 1347.5a10 10 0 1 1 20.0 0a10 10 0 1 1 -20.0 0zM1339.4 1347.5a5 5 0 1 0 10.0 0a5 5 0 1 0 -10.0 0zM1343.0 1356.7a10 10 0 1 1 20.0 0a10 10 0 1 1 -20.0 0zM1348.0 1356.7a5 5 0 1 0 10.0 0a5 5 0 1 0 -10.0 0zM1353.8 1367.4a10 10 0 1 1 20.0 0a10 10 0 1 1 -20.0 0zM1358.8 1367.4a5 5 0 1 0 10.0 0a5 5 0 1 0 -10.0 0zM1361.5 1373.5a10 10 0 1 1 20.0 0a10 10 0 1 1 -20.0 0zM1366.5 1373.5a5 5 0 1 0 10.0 0a5 5 0 1 0 -10.0 0zM1368.4 1380.9a10 10 0 1 1 20.0 0a10 10 0 1 1 -20.0 0zM1373.4 1380.9a5 5 0 1 0 10.0 0a5 5 0 1 0 -10.0 0zM1380.8 1391.8a10 10 0 1 1 20.0 0a10 10 0 1 1 -20.0 0zM1385.8 1391.8a5 5 0 1 0 10.0 0a5 5 0 1 0 -10.0 0zM1386.8 1398.1a10 10 0 1 1 20.0 0a10 10 0 1 1 -20.0 0zM1391.8 1398.1a5 5 0 1 0 10.0 0a5 5 0 1 0 -10.0 0zM1401.5 1399.6a10 10 0 1 1 20.0 0a10 10 0 1 1 -20.0 0zM1406.5 1399.6a5 5 0 1 0 10.0 0a5 5 0 1 0 -10.0 0zM1414.3 1405.3a10 10 0 1 1 20.0 0a10 10 0 1 1 -20.0 0zM1419.3 1405.3a5 5 0 1 0 10.0 0a5 5 0 1 0 -10.0 0zM1423.1 1415.1a10 10 0 1 1 20.0 0a10 10 0 1 1 -20.0 0zM1428.1 1415.1a5 5 0 1 0 10.0 0a5 5 0 1 0 -10.0 0zM1434.5 1423.7a10 10 0 1 1 20.0 0a10 10 0 1 1 -20.0 0zM1439.5 1423.7a5 5 0 1 0 10.0 0a5 5 0 1 0 -10.0 0zM1447.2 1430.1a10 10 0 1 1 20.0 0a10 10 0 1 1 -20.0 0zM1452.2 1430.1a5 5 0 1 0 10.0 0a5 5 0 1 0 -10.0 0zM1461.3 1428.9a10 10 0 1 1 20.0 0a10 10 0 1 1 -20.0 0zM1466.3 1428.9a5 5 0 1 0 10.0 0a5 5 0 1 0 -10.0 0zM1466.5 1436.4a10 10 0 1 1 20.0 0a10 10 0 1 1 -20.0 0zM1471.5 1436.4a5 5 0 1 0 10.0 0a5 5 0 1 0 -10.0 0zM1479.1 1439.2a10 10 0 1 1 20.0 0a10 10 0 1 1 -20.0 0zM1484.1 1439.2a5 5 0 1 0 10.0 0a5 5 0 1 0 -10.0 0zM1499.0 1448.8a10 10 0 1 1 20.0 0a10 10 0 1 1 -20.0 0zM1504.0 1448.8a5 5 0 1 0 10.0 0a5 5 0 1 0 -10.0 0zM1506.3 1448.3a10 10 0 1 1 20.0 0a10 10 0 1 1 -20.0 0zM1511.3 1448.3a5 5 0 1 0 10.0 0a5 5 0 1 0 -10.0 0zM1517.2 1450.0a10 10 0 1 1 20.0 0a10 10 0 1 1 -20.0 0zM1522.2 1450.0a5 5 0 1 0 10.0 0a5 5 0 1 0 -10.0 0zM1523.7 1457.1a10 10 0 1 1 20.0 0a10 10 0 1 1 -20.0 0zM1528.7 1457.1a5 5 0 1 0 10.0 0a5 5 0 1 0 -10.0 0zM1528.7 1456.3a10 10 0 1 1 20.0 0a10 10 0 1 1 -20.0 0zM1533.7 1456.3a5 5 0 1 0 10.0 0a5 5 0 1 0 -10.0 0zM1538.3 1456.4a10 10 0 1 1 20.0 0a10 10 0 1 1 -20.0 0zM1543.3 1456.4a5 5 0 1 0 10.0 0a5 5 0 1 0 -10.0 0zM1543.0 1463.0a10 10 0 1 1 20.0 0a10 10 0 1 1 -20.0 0zM1548.0 1463.0a5 5 0 1 0 10.0 0a5 5 0 1 0 -10.0 0zM1550.3 1466.0a10 10 0 1 1 20.0 0a10 10 0 1 1 -20.0 0zM1555.3 1466.0a5 5 0 1 0 10.0 0a5 5 0 1 0 -10.0 0zM1556.1 1464.4a10 10 0 1 1 20.0 0a10 10 0 1 1 -20.0 0zM1561.1 1464.4a5 5 0 1 0 10.0 0a5 5 0 1 0 -10.0 0zM1560.4 1467.2a10 10 0 1 1 20.0 0a10 10 0 1 1 -20.0 0zM1565.4 1467.2a5 5 0 1 0 10.0 0a5 5 0 1 0 -10.0 0zM1571.1 1471.3a10 10 0 1 1 20.0 0a10 10 0 1 1 -20.0 0zM1576.1 1471.3a5 5 0 1 0 10.0 0a5 5 0 1 0 -10.0 0zM1581.2 1472.8a10 10 0 1 1 20.0 0a10 10 0 1 1 -20.0 0zM1586.2 1472.8a5 5 0 1 0 10.0 0a5 5 0 1 0 -10.0 0zM1591.3 1473.6a10 10 0 1 1 20.0 0a10 10 0 1 1 -20.0 0zM1596.3 1473.6a5 5 0 1 0 10.0 0a5 5 0 1 0 -10.0 0zM1596.3 1479.1a10 10 0 1 1 20.0 0a10 10 0 1 1 -20.0 0zM1601.3 1479.1a5 5 0 1 0 10.0 0a5 5 0 1 0 -10.0 0zM1606.0 1481.0a10 10 0 1 1 20.0 0a10 10 0 1 1 -20.0 0zM1611.0 1481.0a5 5 0 1 0 10.0 0a5 5 0 1 0 -10.0 0zM1610.7 1482.1a10 10 0 1 1 20.0 0a10 10 0 1 1 -20.0 0zM1615.7 1482.1a5 5 0 1 0 10.0 0a5 5 0 1 0 -10.0 0zM1615.9 1484.4a10 10 0 1 1 20.0 0a10 10 0 1 1 -20.0 0zM1620.9 1484.4a5 5 0 1 0 10.0 0a5 5 0 1 0 -10.0 0zM1625.5 1487.7a10 10 0 1 1 20.0 0a10 10 0 1 1 -20.0 0zM1630.5 1487.7a5 5 0 1 0 10.0 0a5 5 0 1 0 -10.0 0zM1635.4 1494.1a10 10 0 1 1 20.0 0a10 10 0 1 1 -20.0 0zM1640.4 1494.1a5 5 0 1 0 10.0 0a5 5 0 1 0 -10.0 0zM1640.4 1492.1a10 10 0 1 1 20.0 0a10 10 0 1 1 -20.0 0zM1645.4 1492.1a5 5 0 1 0 10.0 0a5 5 0 1 0 -10.0 0zM1648.6 1492.0a10 10 0 1 1 20.0 0a10 10 0 1 1 -20.0 0zM1653.6 1492.0a5 5 0 1 0 10.0 0a5 5 0 1 0 -10.0 0zM1654.5 1498.9a10 10 0 1 1 20.0 0a10 10 0 1 1 -20.0 0zM1659.5 1498.9a5 5 0 1 0 10.0 0a5 5 0 1 0 -10.0 0zM1659.7 1498.4a10 10 0 1 1 20.0 0a10 10 0 1 1 -20.0 0zM1664.7 1498.4a5 5 0 1 0 10.0 0a5 5 0 1 0 -10.0 0zM1664.5 1499.7a10 10 0 1 1 20.0 0a10 10 0 1 1 -20.0 0zM1669.5 1499.7a5 5 0 1 0 10.0 0a5 5 0 1 0 -10.0 0zM1675.8 1500.6a10 10 0 1 1 20.0 0a10 10 0 1 1 -20.0 0zM1680.8 1500.6a5 5 0 1 0 10.0 0a5 5 0 1 0 -10.0 0zM1679.9 1500.8a10 10 0 1 1 20.0 0a10 10 0 1 1 -20.0 0zM1684.9 1500.8a5 5 0 1 0 10.0 0a5 5 0 1 0 -10.0 0zM1688.1 1502.3a10 10 0 1 1 20.0 0a10 10 0 1 1 -20.0 0zM1693.1 1502.3a5 5 0 1 0 10.0 0a5 5 0 1 0 -10.0 0zM1692.0 1506.2a10 10 0 1 1 20.0 0a10 10 0 1 1 -20.0 0zM1697.0 1506.2a5 5 0 1 0 10.0 0a5 5 0 1 0 -10.0 0zM1703.1 1508.7a10 10 0 1 1 20.0 0a10 10 0 1 1 -20.0 0zM1708.1 1508.7a5 5 0 1 0 10.0 0a5 5 0 1 0 -10.0 0zM1709.9 1511.2a10 10 0 1 1 20.0 0a10 10 0 1 1 -20.0 0zM1714.9 1511.2a5 5 0 1 0 10.0 0a5 5 0 1 0 -10.0 0zM1714.7 1511.3a10 10 0 1 1 20.0 0a10 10 0 1 1 -20.0 0zM1719.7 1511.3a5 5 0 1 0 10.0 0a5 5 0 1 0 -10.0 0zM1720.0 1512.0a10 10 0 1 1 20.0 0a10 10 0 1 1 -20.0 0zM1725.0 1512.0a5 5 0 1 0 10.0 0a5 5 0 1 0 -10.0 0zM1732.0 1510.6a10 10 0 1 1 20.0 0a10 10 0 1 1 -20.0 0zM1737.0 1510.6a5 5 0 1 0 10.0 0a5 5 0 1 0 -10.0 0zM1739.8 1515.2a10 10 0 1 1 20.0 0a10 10 0 1 1 -20.0 0zM1744.8 1515.2a5 5 0 1 0 10.0 0a5 5 0 1 0 -10.0 0zM1745.2 1513.8a10 10 0 1 1 20.0 0a10 10 0 1 1 -20.0 0zM1750.2 1513.8a5 5 0 1 0 10.0 0a5 5 0 1 0 -10.0 0zM1756.6 1519.6a10 10 0 1 1 20.0 0a10 10 0 1 1 -20.0 0zM1761.6 1519.6a5 5 0 1 0 10.0 0a5 5 0 1 0 -10.0 0zM1761.7 1518.4a10 10 0 1 1 20.0 0a10 10 0 1 1 -20.0 0zM1766.7 1518.4a5 5 0 1 0 10.0 0a5 5 0 1 0 -10.0 0zM1773.6 1517.0a10 10 0 1 1 20.0 0a10 10 0 1 1 -20.0 0zM1778.6 1517.0a5 5 0 1 0 10.0 0a5 5 0 1 0 -10.0 0zM1782.4 1516.5a10 10 0 1 1 20.0 0a10 10 0 1 1 -20.0 0zM1787.4 1516.5a5 5 0 1 0 10.0 0a5 5 0 1 0 -10.0 0zM1789.1 1520.6a10 10 0 1 1 20.0 0a10 10 0 1 1 -20.0 0zM1794.1 1520.6a5 5 0 1 0 10.0 0a5 5 0 1 0 -10.0 0zM1797.8 1521.6a10 10 0 1 1 20.0 0a10 10 0 1 1 -20.0 0zM1802.8 1521.6a5 5 0 1 0 10.0 0a5 5 0 1 0 -10.0 0zM1804.6 1520.4a10 10 0 1 1 20.0 0a10 10 0 1 1 -20.0 0zM1809.6 1520.4a5 5 0 1 0 10.0 0a5 5 0 1 0 -10.0 0zM1808.8 1521.1a10 10 0 1 1 20.0 0a10 10 0 1 1 -20.0 0zM1813.8 1521.1a5 5 0 1 0 10.0 0a5 5 0 1 0 -10.0 0zM1816.7 1521.0a10 10 0 1 1 20.0 0a10 10 0 1 1 -20.0 0zM1821.7 1521.0a5 5 0 1 0 10.0 0a5 5 0 1 0 -10.0 0zM1820.7 1520.8a10 10 0 1 1 20.0 0a10 10 0 1 1 -20.0 0zM1825.7 1520.8a5 5 0 1 0 10.0 0a5 5 0 1 0 -10.0 0zM1825.7 1520.4a10 10 0 1 1 20.0 0a10 10 0 1 1 -20.0 0zM1830.7 1520.4a5 5 0 1 0 10.0 0a5 5 0 1 0 -10.0 0zM1834.3 1522.4a10 10 0 1 1 20.0 0a10 10 0 1 1 -20.0 0zM1839.3 1522.4a5 5 0 1 0 10.0 0a5 5 0 1 0 -10.0 0zM1837.6 1522.2a10 10 0 1 1 20.0 0a10 10 0 1 1 -20.0 0zM1842.6 1522.2a5 5 0 1 0 10.0 0a5 5 0 1 0 -10.0 0zM1844.3 1521.2a10 10 0 1 1 20.0 0a10 10 0 1 1 -20.0 0zM1849.3 1521.2a5 5 0 1 0 10.0 0a5 5 0 1 0 -10.0 0zM1848.9 1522.0a10 10 0 1 1 20.0 0a10 10 0 1 1 -20.0 0zM1853.9 1522.0a5 5 0 1 0 10.0 0a5 5 0 1 0 -10.0 0zM1854.7 1522.2a10 10 0 1 1 20.0 0a10 10 0 1 1 -20.0 0zM1859.7 1522.2a5 5 0 1 0 10.0 0a5 5 0 1 0 -10.0 0zM1861.7 1521.1a10 10 0 1 1 20.0 0a10 10 0 1 1 -20.0 0zM1866.7 1521.1a5 5 0 1 0 10.0 0a5 5 0 1 0 -10.0 0zM1869.3 1523.2a10 10 0 1 1 20.0 0a10 10 0 1 1 -20.0 0zM1874.3 1523.2a5 5 0 1 0 10.0 0a5 5 0 1 0 -10.0 0zM1878.1 1522.3a10 10 0 1 1 20.0 0a10 10 0 1 1 -20.0 0zM1883.1 1522.3a5 5 0 1 0 10.0 0a5 5 0 1 0 -10.0 0zM1881.4 1520.8a10 10 0 1 1 20.0 0a10 10 0 1 1 -20.0 0zM1886.4 1520.8a5 5 0 1 0 10.0 0a5 5 0 1 0 -10.0 0zM1885.2 1523.1a10 10 0 1 1 20.0 0a10 10 0 1 1 -20.0 0zM1890.2 1523.1a5 5 0 1 0 10.0 0a5 5 0 1 0 -10.0 0zM1890.0 1521.7a10 10 0 1 1 20.0 0a10 10 0 1 1 -20.0 0zM1895.0 1521.7a5 5 0 1 0 10.0 0a5 5 0 1 0 -10.0 0zM1898.4 1521.6a10 10 0 1 1 20.0 0a10 10 0 1 1 -20.0 0zM1903.4 1521.6a5 5 0 1 0 10.0 0a5 5 0 1 0 -10.0 0zM1904.7 1521.8a10 10 0 1 1 20.0 0a10 10 0 1 1 -20.0 0zM1909.7 1521.8a5 5 0 1 0 10.0 0a5 5 0 1 0 -10.0 0zM1908.0 1522.2a10 10 0 1 1 20.0 0a10 10 0 1 1 -20.0 0zM1913.0 1522.2a5 5 0 1 0 10.0 0a5 5 0 1 0 -10.0 0zM1916.1 1521.2a10 10 0 1 1 20.0 0a10 10 0 1 1 -20.0 0zM1921.1 1521.2a5 5 0 1 0 10.0 0a5 5 0 1 0 -10.0 0zM1920.5 1521.8a10 10 0 1 1 20.0 0a10 10 0 1 1 -20.0 0zM1925.5 1521.8a5 5 0 1 0 10.0 0a5 5 0 1 0 -10.0 0zM1923.7 1522.0a10 10 0 1 1 20.0 0a10 10 0 1 1 -20.0 0zM1928.7 1522.0a5 5 0 1 0 10.0 0a5 5 0 1 0 -10.0 0zM1931.6 1522.4a10 10 0 1 1 20.0 0a10 10 0 1 1 -20.0 0zM1936.6 1522.4a5 5 0 1 0 10.0 0a5 5 0 1 0 -10.0 0zM1937.8 1522.9a10 10 0 1 1 20.0 0a10 10 0 1 1 -20.0 0zM1942.8 1522.9a5 5 0 1 0 10.0 0a5 5 0 1 0 -10.0 0zM1941.7 1522.2a10 10 0 1 1 20.0 0a10 10 0 1 1 -20.0 0zM1946.7 1522.2a5 5 0 1 0 10.0 0a5 5 0 1 0 -10.0 0zM1946.9 1522.2a10 10 0 1 1 20.0 0a10 10 0 1 1 -20.0 0zM1951.9 1522.2a5 5 0 1 0 10.0 0a5 5 0 1 0 -10.0 0zM1950.6 1522.7a10 10 0 1 1 20.0 0a10 10 0 1 1 -20.0 0zM1955.6 1522.7a5 5 0 1 0 10.0 0a5 5 0 1 0 -10.0 0zM1954.2 1521.2a10 10 0 1 1 20.0 0a10 10 0 1 1 -20.0 0zM1959.2 1521.2a5 5 0 1 0 10.0 0a5 5 0 1 0 -10.0 0zM1962.0 1523.1a10 10 0 1 1 20.0 0a10 10 0 1 1 -20.0 0zM1967.0 1523.1a5 5 0 1 0 10.0 0a5 5 0 1 0 -10.0 0zM1967.6 1521.8a10 10 0 1 1 20.0 0a10 10 0 1 1 -20.0 0zM1972.6 1521.8a5 5 0 1 0 10.0 0a5 5 0 1 0 -10.0 0zM1972.1 1521.5a10 10 0 1 1 20.0 0a10 10 0 1 1 -20.0 0zM1977.1 1521.5a5 5 0 1 0 10.0 0a5 5 0 1 0 -10.0 0zM1978.8 1521.2a10 10 0 1 1 20.0 0a10 10 0 1 1 -20.0 0zM1983.8 1521.2a5 5 0 1 0 10.0 0a5 5 0 1 0 -10.0 0zM1982.5 1521.9a10 10 0 1 1 20.0 0a10 10 0 1 1 -20.0 0zM1987.5 1521.9a5 5 0 1 0 10.0 0a5 5 0 1 0 -10.0 0zM1986.5 1522.4a10 10 0 1 1 20.0 0a10 10 0 1 1 -20.0 0zM1991.5 1522.4a5 5 0 1 0 10.0 0a5 5 0 1 0 -10.0 0zM1994.4 1522.7a10 10 0 1 1 20.0 0a10 10 0 1 1 -20.0 0zM1999.4 1522.7a5 5 0 1 0 10.0 0a5 5 0 1 0 -10.0 0zM2000.3 1521.8a10 10 0 1 1 20.0 0a10 10 0 1 1 -20.0 0zM2005.3 1521.8a5 5 0 1 0 10.0 0a5 5 0 1 0 -10.0 0zM2005.9 1521.1a10 10 0 1 1 20.0 0a10 10 0 1 1 -20.0 0zM2010.9 1521.1a5 5 0 1 0 10.0 0a5 5 0 1 0 -10.0 0zM2013.2 1522.0a10 10 0 1 1 20.0 0a10 10 0 1 1 -20.0 0zM2018.2 1522.0a5 5 0 1 0 10.0 0a5 5 0 1 0 -10.0 0zM2018.1 1521.5a10 10 0 1 1 20.0 0a10 10 0 1 1 -20.0 0zM2023.1 1521.5a5 5 0 1 0 10.0 0a5 5 0 1 0 -10.0 0zM2023.8 1522.8a10 10 0 1 1 20.0 0a10 10 0 1 1 -20.0 0zM2028.8 1522.8a5 5 0 1 0 10.0 0a5 5 0 1 0 -10.0 0zM2029.1 1523.6a10 10 0 1 1 20.0 0a10 10 0 1 1 -20.0 0zM2034.1 1523.6a5 5 0 1 0 10.0 0a5 5 0 1 0 -10.0 0zM2036.2 1522.2a10 10 0 1 1 20.0 0a10 10 0 1 1 -20.0 0zM2041.2 1522.2a5 5 0 1 0 10.0 0a5 5 0 1 0 -10.0 0zM2042.3 1523.9a10 10 0 1 1 20.0 0a10 10 0 1 1 -20.0 0zM2047.3 1523.9a5 5 0 1 0 10.0 0a5 5 0 1 0 -10.0 0z"/>
</g>
<g font-family="'Liberation Sans', sans-serif" font-size="79.6" fill="#000">
<text transform="translate(253.0,1552.5) scale(0.965,1)" text-anchor="end">0</text>
<text transform="translate(253.0,1306.7) scale(0.965,1)" text-anchor="end">2</text>
<text transform="translate(253.0,1060.8) scale(0.965,1)" text-anchor="end">4</text>
<text transform="translate(253.0,817.5) scale(0.965,1)" text-anchor="end">6</text>
<text transform="translate(253.0,572.0) scale(0.965,1)" text-anchor="end">8</text>
<text transform="translate(253.0,326.2) scale(0.965,1)" text-anchor="end">10</text>
<text transform="translate(253.0,82.9) scale(0.965,1)" text-anchor="end">12</text>
<text transform="translate(284.1,1620.3) scale(0.965,1)" text-anchor="middle">0</text>
<text transform="translate(578.5,1620.3) scale(0.965,1)" text-anchor="middle">100</text>
<text transform="translate(872.9,1620.3) scale(0.965,1)" text-anchor="middle">200</text>
<text transform="translate(1167.3,1620.3) scale(0.965,1)" text-anchor="middle">300</text>
<text transform="translate(1461.6,1620.3) scale(0.965,1)" text-anchor="middle">400</text>
<text transform="translate(1756.0,1620.3) scale(0.965,1)" text-anchor="middle">500</text>
<text transform="translate(2050.4,1620.3) scale(0.965,1)" text-anchor="middle">600</text>
</g>
<g font-family="'Liberation Sans', sans-serif" font-weight="bold" fill="#000">
<text transform="matrix(0.93 0 0 1 1098.4 1757.6)" font-size="100"><tspan x="0" y="0">T</tspan><tspan x="61.7" y="0">, </tspan><tspan x="117.1" y="11.4" font-size="98" font-weight="normal">°</tspan><tspan x="150.9" y="0">C</tspan></text>
<text transform="rotate(-90)" font-size="96"><tspan x="-1051.8" y="111.7">σ</tspan><tspan x="-983.7" y="138.4" font-size="66">s</tspan><tspan x="-948.2" y="111.7">, </tspan><tspan x="-896.4" y="111.7" font-size="100">A</tspan><tspan x="-822.9" y="110.6" font-size="64">•</tspan><tspan x="-803.5" y="111.7">m</tspan><tspan x="-715.5" y="70.9" font-size="71">2</tspan><tspan x="-678.6" y="111.7">/</tspan><tspan x="-650.6" y="111.7">k</tspan><tspan x="-596.6" y="111.7">g</tspan></text>
<text x="708.8" y="292.9" font-size="75">(a)</text>
<text x="460.1" y="521.1" font-size="75">(b)</text>
<text x="510.7" y="1417.9" font-size="75">(c)</text>
</g>
</svg>
</body></html>
